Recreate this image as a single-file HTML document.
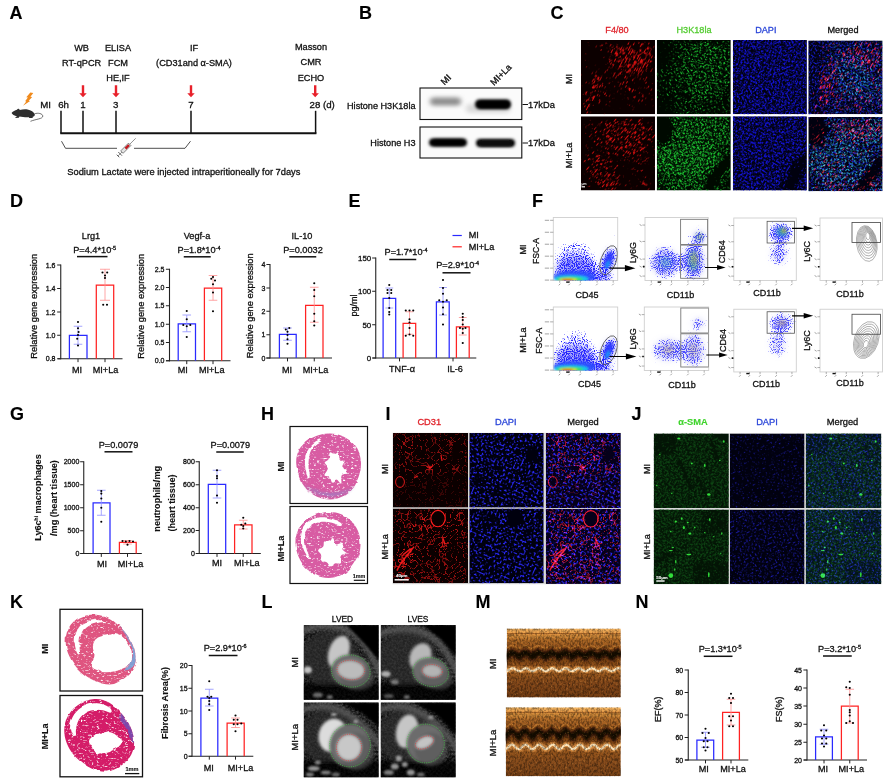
<!DOCTYPE html>
<html lang="en"><head><meta charset="utf-8"><title>Figure</title>
<style>html,body{margin:0;padding:0;background:#fff}svg{display:block}text{font-family:'Liberation Sans', sans-serif}</style></head>
<body>
<svg width="887" height="784" viewBox="0 0 887 784">
<rect width="887" height="784" fill="#fff"/>
<defs>
<filter id="g0_5" x="-50%" y="-50%" width="200%" height="200%"><feGaussianBlur stdDeviation="0.5"/></filter>
<filter id="g1" x="-50%" y="-50%" width="200%" height="200%"><feGaussianBlur stdDeviation="1"/></filter>
<filter id="g1_5" x="-50%" y="-50%" width="200%" height="200%"><feGaussianBlur stdDeviation="1.5"/></filter>
<filter id="g2" x="-50%" y="-50%" width="200%" height="200%"><feGaussianBlur stdDeviation="2"/></filter>
<filter id="g3" x="-50%" y="-50%" width="200%" height="200%"><feGaussianBlur stdDeviation="3"/></filter>
<filter id="g4" x="-50%" y="-50%" width="200%" height="200%"><feGaussianBlur stdDeviation="4"/></filter>
<filter id="g6" x="-50%" y="-50%" width="200%" height="200%"><feGaussianBlur stdDeviation="6"/></filter>
<filter id="g8" x="-50%" y="-50%" width="200%" height="200%"><feGaussianBlur stdDeviation="8"/></filter>
<filter id="blur2" x="-20%" y="-50%" width="140%" height="200%"><feGaussianBlur stdDeviation="1.6 1.4"/></filter>
<filter id="blur3" x="-20%" y="-50%" width="140%" height="200%"><feGaussianBlur stdDeviation="2.4 2"/></filter>
<clipPath id="cb1"><rect x="420" y="88" width="101.8" height="31.5"/></clipPath>
<clipPath id="cb2"><rect x="420" y="127" width="101.8" height="31"/></clipPath>
<filter id="sp0" x="0" y="0" width="100%" height="100%" color-interpolation-filters="sRGB"><feTurbulence type="fractalNoise" baseFrequency="0.2 0.9" numOctaves="2" seed="4" result="n"/><feColorMatrix in="n" type="matrix" values="0 0 0 0 0 0 0 0 0 0 0 0 0 0 0 1 0 0 0 0" result="na"/><feComposite in="na" in2="SourceGraphic" operator="arithmetic" k1="0" k2="6" k3="2.6" k4="-4.8" result="m"/><feFlood flood-color="#d81010" result="c"/><feComposite in="c" in2="m" operator="in"/><feGaussianBlur stdDeviation="0.5"/></filter>
<filter id="sp1" x="0" y="0" width="100%" height="100%" color-interpolation-filters="sRGB"><feTurbulence type="fractalNoise" baseFrequency="0.24 0.9" numOctaves="2" seed="8" result="n"/><feColorMatrix in="n" type="matrix" values="0 0 0 0 0 0 0 0 0 0 0 0 0 0 0 1 0 0 0 0" result="na"/><feComposite in="na" in2="SourceGraphic" operator="arithmetic" k1="0" k2="6" k3="2.6" k4="-4.8" result="m"/><feFlood flood-color="#d81010" result="c"/><feComposite in="c" in2="m" operator="in"/><feGaussianBlur stdDeviation="0.5"/></filter>
<filter id="sp2" x="0" y="0" width="100%" height="100%" color-interpolation-filters="sRGB"><feTurbulence type="fractalNoise" baseFrequency="0.6" numOctaves="1" seed="3" result="n"/><feColorMatrix in="n" type="matrix" values="0 0 0 0 0 0 0 0 0 0 0 0 0 0 0 1 0 0 0 0" result="na"/><feComposite in="na" in2="SourceGraphic" operator="arithmetic" k1="0" k2="6" k3="2.6" k4="-4.8" result="m"/><feFlood flood-color="#1cc832" result="c"/><feComposite in="c" in2="m" operator="in"/><feGaussianBlur stdDeviation="0.55"/></filter>
<filter id="sp3" x="0" y="0" width="100%" height="100%" color-interpolation-filters="sRGB"><feTurbulence type="fractalNoise" baseFrequency="0.6" numOctaves="1" seed="6" result="n"/><feColorMatrix in="n" type="matrix" values="0 0 0 0 0 0 0 0 0 0 0 0 0 0 0 1 0 0 0 0" result="na"/><feComposite in="na" in2="SourceGraphic" operator="arithmetic" k1="0" k2="6" k3="2.6" k4="-4.8" result="m"/><feFlood flood-color="#1cc832" result="c"/><feComposite in="c" in2="m" operator="in"/><feGaussianBlur stdDeviation="0.55"/></filter>
<filter id="sp4" x="0" y="0" width="100%" height="100%" color-interpolation-filters="sRGB"><feTurbulence type="fractalNoise" baseFrequency="0.6" numOctaves="1" seed="9" result="n"/><feColorMatrix in="n" type="matrix" values="0 0 0 0 0 0 0 0 0 0 0 0 0 0 0 1 0 0 0 0" result="na"/><feComposite in="na" in2="SourceGraphic" operator="arithmetic" k1="0" k2="6" k3="2.6" k4="-4.8" result="m"/><feFlood flood-color="#1414e2" result="c"/><feComposite in="c" in2="m" operator="in"/><feGaussianBlur stdDeviation="0.55"/></filter>
<filter id="sp5" x="0" y="0" width="100%" height="100%" color-interpolation-filters="sRGB"><feTurbulence type="fractalNoise" baseFrequency="0.6" numOctaves="1" seed="12" result="n"/><feColorMatrix in="n" type="matrix" values="0 0 0 0 0 0 0 0 0 0 0 0 0 0 0 1 0 0 0 0" result="na"/><feComposite in="na" in2="SourceGraphic" operator="arithmetic" k1="0" k2="6" k3="2.6" k4="-4.8" result="m"/><feFlood flood-color="#1414e2" result="c"/><feComposite in="c" in2="m" operator="in"/><feGaussianBlur stdDeviation="0.55"/></filter>
<filter id="sp6" x="0" y="0" width="100%" height="100%" color-interpolation-filters="sRGB"><feTurbulence type="fractalNoise" baseFrequency="0.6" numOctaves="1" seed="9" result="n"/><feColorMatrix in="n" type="matrix" values="0 0 0 0 0 0 0 0 0 0 0 0 0 0 0 1 0 0 0 0" result="na"/><feComposite in="na" in2="SourceGraphic" operator="arithmetic" k1="0" k2="6" k3="2.6" k4="-4.8" result="m"/><feFlood flood-color="#1820e0" result="c"/><feComposite in="c" in2="m" operator="in"/><feGaussianBlur stdDeviation="0.5"/></filter>
<filter id="sp7" x="0" y="0" width="100%" height="100%" color-interpolation-filters="sRGB"><feTurbulence type="fractalNoise" baseFrequency="0.6" numOctaves="1" seed="3" result="n"/><feColorMatrix in="n" type="matrix" values="0 0 0 0 0 0 0 0 0 0 0 0 0 0 0 1 0 0 0 0" result="na"/><feComposite in="na" in2="SourceGraphic" operator="arithmetic" k1="0" k2="6" k3="2.6" k4="-4.8" result="m"/><feFlood flood-color="#2aa8dc" result="c"/><feComposite in="c" in2="m" operator="in"/><feGaussianBlur stdDeviation="0.5"/></filter>
<filter id="sp8" x="0" y="0" width="100%" height="100%" color-interpolation-filters="sRGB"><feTurbulence type="fractalNoise" baseFrequency="0.2 0.9" numOctaves="2" seed="4" result="n"/><feColorMatrix in="n" type="matrix" values="0 0 0 0 0 0 0 0 0 0 0 0 0 0 0 1 0 0 0 0" result="na"/><feComposite in="na" in2="SourceGraphic" operator="arithmetic" k1="0" k2="6" k3="2.6" k4="-4.8" result="m"/><feFlood flood-color="#f01c24" result="c"/><feComposite in="c" in2="m" operator="in"/><feGaussianBlur stdDeviation="0.45"/></filter>
<filter id="sp9" x="0" y="0" width="100%" height="100%" color-interpolation-filters="sRGB"><feTurbulence type="fractalNoise" baseFrequency="0.6" numOctaves="1" seed="12" result="n"/><feColorMatrix in="n" type="matrix" values="0 0 0 0 0 0 0 0 0 0 0 0 0 0 0 1 0 0 0 0" result="na"/><feComposite in="na" in2="SourceGraphic" operator="arithmetic" k1="0" k2="6" k3="2.6" k4="-4.8" result="m"/><feFlood flood-color="#1820e0" result="c"/><feComposite in="c" in2="m" operator="in"/><feGaussianBlur stdDeviation="0.5"/></filter>
<filter id="sp10" x="0" y="0" width="100%" height="100%" color-interpolation-filters="sRGB"><feTurbulence type="fractalNoise" baseFrequency="0.6" numOctaves="1" seed="6" result="n"/><feColorMatrix in="n" type="matrix" values="0 0 0 0 0 0 0 0 0 0 0 0 0 0 0 1 0 0 0 0" result="na"/><feComposite in="na" in2="SourceGraphic" operator="arithmetic" k1="0" k2="6" k3="2.6" k4="-4.8" result="m"/><feFlood flood-color="#2cb8d4" result="c"/><feComposite in="c" in2="m" operator="in"/><feGaussianBlur stdDeviation="0.5"/></filter>
<filter id="sp11" x="0" y="0" width="100%" height="100%" color-interpolation-filters="sRGB"><feTurbulence type="fractalNoise" baseFrequency="0.24 0.9" numOctaves="2" seed="8" result="n"/><feColorMatrix in="n" type="matrix" values="0 0 0 0 0 0 0 0 0 0 0 0 0 0 0 1 0 0 0 0" result="na"/><feComposite in="na" in2="SourceGraphic" operator="arithmetic" k1="0" k2="6" k3="2.6" k4="-4.8" result="m"/><feFlood flood-color="#f01c24" result="c"/><feComposite in="c" in2="m" operator="in"/><feGaussianBlur stdDeviation="0.45"/></filter>
<filter id="sp12" x="0" y="0" width="100%" height="100%" color-interpolation-filters="sRGB"><feTurbulence type="fractalNoise" baseFrequency="0.9" numOctaves="1" seed="2" result="n"/><feColorMatrix in="n" type="matrix" values="0 0 0 0 0 0 0 0 0 0 0 0 0 0 0 1 0 0 0 0" result="na"/><feComposite in="na" in2="SourceGraphic" operator="arithmetic" k1="0" k2="6" k3="2.6" k4="-4.8" result="m"/><feFlood flood-color="#2424ff" result="c"/><feComposite in="c" in2="m" operator="in"/></filter>
<filter id="sp13" x="0" y="0" width="100%" height="100%" color-interpolation-filters="sRGB"><feTurbulence type="fractalNoise" baseFrequency="0.9" numOctaves="1" seed="5" result="n"/><feColorMatrix in="n" type="matrix" values="0 0 0 0 0 0 0 0 0 0 0 0 0 0 0 1 0 0 0 0" result="na"/><feComposite in="na" in2="SourceGraphic" operator="arithmetic" k1="0" k2="6" k3="2.6" k4="-4.8" result="m"/><feFlood flood-color="#3c3cff" result="c"/><feComposite in="c" in2="m" operator="in"/></filter>
<filter id="sp14" x="0" y="0" width="100%" height="100%" color-interpolation-filters="sRGB"><feTurbulence type="fractalNoise" baseFrequency="0.9" numOctaves="1" seed="7" result="n"/><feColorMatrix in="n" type="matrix" values="0 0 0 0 0 0 0 0 0 0 0 0 0 0 0 1 0 0 0 0" result="na"/><feComposite in="na" in2="SourceGraphic" operator="arithmetic" k1="0" k2="6" k3="2.6" k4="-4.8" result="m"/><feFlood flood-color="#3c3cff" result="c"/><feComposite in="c" in2="m" operator="in"/></filter>
<filter id="sp15" x="0" y="0" width="100%" height="100%" color-interpolation-filters="sRGB"><feTurbulence type="fractalNoise" baseFrequency="0.9" numOctaves="1" seed="3" result="n"/><feColorMatrix in="n" type="matrix" values="0 0 0 0 0 0 0 0 0 0 0 0 0 0 0 1 0 0 0 0" result="na"/><feComposite in="na" in2="SourceGraphic" operator="arithmetic" k1="0" k2="6" k3="2.6" k4="-4.8" result="m"/><feFlood flood-color="#2424ff" result="c"/><feComposite in="c" in2="m" operator="in"/></filter>
<filter id="sp16" x="0" y="0" width="100%" height="100%" color-interpolation-filters="sRGB"><feTurbulence type="fractalNoise" baseFrequency="0.9" numOctaves="1" seed="6" result="n"/><feColorMatrix in="n" type="matrix" values="0 0 0 0 0 0 0 0 0 0 0 0 0 0 0 1 0 0 0 0" result="na"/><feComposite in="na" in2="SourceGraphic" operator="arithmetic" k1="0" k2="6" k3="2.6" k4="-4.8" result="m"/><feFlood flood-color="#4a4aff" result="c"/><feComposite in="c" in2="m" operator="in"/></filter>
<filter id="sp17" x="0" y="0" width="100%" height="100%" color-interpolation-filters="sRGB"><feTurbulence type="fractalNoise" baseFrequency="0.9" numOctaves="1" seed="8" result="n"/><feColorMatrix in="n" type="matrix" values="0 0 0 0 0 0 0 0 0 0 0 0 0 0 0 1 0 0 0 0" result="na"/><feComposite in="na" in2="SourceGraphic" operator="arithmetic" k1="0" k2="6" k3="2.6" k4="-4.8" result="m"/><feFlood flood-color="#4a4aff" result="c"/><feComposite in="c" in2="m" operator="in"/></filter>
<filter id="rough" x="-5%" y="-5%" width="110%" height="110%"><feTurbulence type="fractalNoise" baseFrequency="0.09" numOctaves="2" seed="3" result="t"/><feDisplacementMap in="SourceGraphic" in2="t" scale="3.5" xChannelSelector="R" yChannelSelector="G"/></filter>
<filter id="tissue" x="0" y="0" width="100%" height="100%" color-interpolation-filters="sRGB"><feTurbulence type="fractalNoise" baseFrequency="0.35 0.6" numOctaves="2" seed="8" result="t"/><feColorMatrix in="t" type="matrix" values="0 0 0 0 1 0 0 0 0 1 0 0 0 0 1 4 0 0 0 -2.3" result="w"/><feComposite in="w" in2="SourceGraphic" operator="in" result="ww"/><feMerge><feMergeNode in="SourceGraphic"/><feMergeNode in="ww"/></feMerge></filter>
<filter id="sp18" x="0" y="0" width="100%" height="100%" color-interpolation-filters="sRGB"><feTurbulence type="turbulence" baseFrequency="0.15" numOctaves="1" seed="3" result="n"/><feColorMatrix in="n" type="matrix" values="0 0 0 0 0 0 0 0 0 0 0 0 0 0 0 1 0 0 0 0" result="na"/><feComposite in="na" in2="SourceGraphic" operator="arithmetic" k1="0" k2="-8" k3="1.4" k4="0" result="m"/><feFlood flood-color="#ff1c1c" result="c"/><feComposite in="c" in2="m" operator="in"/><feGaussianBlur stdDeviation="0.35"/></filter>
<filter id="sp19" x="0" y="0" width="100%" height="100%" color-interpolation-filters="sRGB"><feTurbulence type="fractalNoise" baseFrequency="0.5" numOctaves="1" seed="11" result="n"/><feColorMatrix in="n" type="matrix" values="0 0 0 0 0 0 0 0 0 0 0 0 0 0 0 1 0 0 0 0" result="na"/><feComposite in="na" in2="SourceGraphic" operator="arithmetic" k1="0" k2="9" k3="2.6" k4="-6.55" result="m"/><feFlood flood-color="#2a2aff" result="c"/><feComposite in="c" in2="m" operator="in"/><feGaussianBlur stdDeviation="0.4"/></filter>
<filter id="sp20" x="0" y="0" width="100%" height="100%" color-interpolation-filters="sRGB"><feTurbulence type="turbulence" baseFrequency="0.17" numOctaves="1" seed="7" result="n"/><feColorMatrix in="n" type="matrix" values="0 0 0 0 0 0 0 0 0 0 0 0 0 0 0 1 0 0 0 0" result="na"/><feComposite in="na" in2="SourceGraphic" operator="arithmetic" k1="0" k2="-8" k3="1.4" k4="0" result="m"/><feFlood flood-color="#ff1c1c" result="c"/><feComposite in="c" in2="m" operator="in"/><feGaussianBlur stdDeviation="0.35"/></filter>
<filter id="sp21" x="0" y="0" width="100%" height="100%" color-interpolation-filters="sRGB"><feTurbulence type="fractalNoise" baseFrequency="0.5" numOctaves="1" seed="12" result="n"/><feColorMatrix in="n" type="matrix" values="0 0 0 0 0 0 0 0 0 0 0 0 0 0 0 1 0 0 0 0" result="na"/><feComposite in="na" in2="SourceGraphic" operator="arithmetic" k1="0" k2="9" k3="2.6" k4="-6.55" result="m"/><feFlood flood-color="#2a2aff" result="c"/><feComposite in="c" in2="m" operator="in"/><feGaussianBlur stdDeviation="0.4"/></filter>
<filter id="sp22" x="0" y="0" width="100%" height="100%" color-interpolation-filters="sRGB"><feTurbulence type="fractalNoise" baseFrequency="0.6" numOctaves="1" seed="4" result="n"/><feColorMatrix in="n" type="matrix" values="0 0 0 0 0 0 0 0 0 0 0 0 0 0 0 1 0 0 0 0" result="na"/><feComposite in="na" in2="SourceGraphic" operator="arithmetic" k1="0" k2="6" k3="2.6" k4="-4.8" result="m"/><feFlood flood-color="#0d4513" result="c"/><feComposite in="c" in2="m" operator="in"/><feGaussianBlur stdDeviation="0.45"/></filter>
<filter id="sp23" x="0" y="0" width="100%" height="100%" color-interpolation-filters="sRGB"><feTurbulence type="fractalNoise" baseFrequency="0.6" numOctaves="1" seed="15" result="n"/><feColorMatrix in="n" type="matrix" values="0 0 0 0 0 0 0 0 0 0 0 0 0 0 0 1 0 0 0 0" result="na"/><feComposite in="na" in2="SourceGraphic" operator="arithmetic" k1="0" k2="6" k3="2.6" k4="-4.8" result="m"/><feFlood flood-color="#1c1cab" result="c"/><feComposite in="c" in2="m" operator="in"/><feGaussianBlur stdDeviation="0.4"/></filter>
<filter id="sp24" x="0" y="0" width="100%" height="100%" color-interpolation-filters="sRGB"><feTurbulence type="fractalNoise" baseFrequency="0.6" numOctaves="1" seed="5" result="n"/><feColorMatrix in="n" type="matrix" values="0 0 0 0 0 0 0 0 0 0 0 0 0 0 0 1 0 0 0 0" result="na"/><feComposite in="na" in2="SourceGraphic" operator="arithmetic" k1="0" k2="6" k3="2.6" k4="-4.8" result="m"/><feFlood flood-color="#0d4513" result="c"/><feComposite in="c" in2="m" operator="in"/><feGaussianBlur stdDeviation="0.45"/></filter>
<filter id="sp25" x="0" y="0" width="100%" height="100%" color-interpolation-filters="sRGB"><feTurbulence type="fractalNoise" baseFrequency="0.6" numOctaves="1" seed="16" result="n"/><feColorMatrix in="n" type="matrix" values="0 0 0 0 0 0 0 0 0 0 0 0 0 0 0 1 0 0 0 0" result="na"/><feComposite in="na" in2="SourceGraphic" operator="arithmetic" k1="0" k2="6" k3="2.6" k4="-4.8" result="m"/><feFlood flood-color="#1c1cab" result="c"/><feComposite in="c" in2="m" operator="in"/><feGaussianBlur stdDeviation="0.4"/></filter>
<filter id="mriN" x="0" y="0" width="100%" height="100%" color-interpolation-filters="sRGB"><feTurbulence type="fractalNoise" baseFrequency="0.45" numOctaves="2" seed="21" result="n"/><feColorMatrix in="n" type="matrix" values="0.8 0 0 0 -0.27 0.8 0 0 0 -0.27 0.8 0 0 0 -0.27 0 0 0 0 1"/></filter>
<filter id="echoN" x="0" y="0" width="100%" height="100%" color-interpolation-filters="sRGB"><feTurbulence type="fractalNoise" baseFrequency="0.55 0.35" numOctaves="2" seed="5" result="n"/><feColorMatrix in="n" type="matrix" values="0 0 0 0 0 0 0 0 0 0 0 0 0 0 0 3 0 0 0 -1.15"/></filter>
<filter id="echoL" x="0" y="0" width="100%" height="100%" color-interpolation-filters="sRGB"><feTurbulence type="fractalNoise" baseFrequency="0.5 0.4" numOctaves="2" seed="11" result="n"/><feColorMatrix in="n" type="matrix" values="0 0 0 0 1 0 0 0 0 0.7 0 0 0 0 0.35 3 0 0 0 -1.75"/></filter>
<linearGradient id="eg0" x1="0" y1="0" x2="0" y2="1"><stop offset="0" stop-color="#f2b462"/><stop offset="0.07" stop-color="#e89c48"/><stop offset="0.11" stop-color="#c98234"/><stop offset="0.17" stop-color="#b06a26"/><stop offset="0.26" stop-color="#9c5a20"/><stop offset="0.5" stop-color="#8c4e1a"/><stop offset="0.62" stop-color="#9c5a20"/><stop offset="0.68" stop-color="#94541c"/><stop offset="0.8" stop-color="#84481a"/><stop offset="1" stop-color="#723c12"/></linearGradient>
<linearGradient id="eg1" x1="0" y1="0" x2="0" y2="1"><stop offset="0" stop-color="#f4b866"/><stop offset="0.06" stop-color="#eaa04c"/><stop offset="0.1" stop-color="#cc8636"/><stop offset="0.17" stop-color="#b26c28"/><stop offset="0.27" stop-color="#9c5a20"/><stop offset="0.5" stop-color="#8c4e1a"/><stop offset="0.6" stop-color="#9c5a20"/><stop offset="0.66" stop-color="#94541c"/><stop offset="0.8" stop-color="#884c1c"/><stop offset="1" stop-color="#784216"/></linearGradient>
</defs>
<text x="9.5" y="19" font-size="18" text-anchor="start" font-weight="bold" fill="#000" stroke="#000" stroke-width="0.12">A</text>
<text x="359" y="19" font-size="18" text-anchor="start" font-weight="bold" fill="#000" stroke="#000" stroke-width="0.12">B</text>
<text x="550.5" y="19" font-size="18" text-anchor="start" font-weight="bold" fill="#000" stroke="#000" stroke-width="0.12">C</text>
<text x="10" y="207" font-size="18" text-anchor="start" font-weight="bold" fill="#000" stroke="#000" stroke-width="0.12">D</text>
<text x="348.5" y="207" font-size="18" text-anchor="start" font-weight="bold" fill="#000" stroke="#000" stroke-width="0.12">E</text>
<text x="532" y="206.5" font-size="18" text-anchor="start" font-weight="bold" fill="#000" stroke="#000" stroke-width="0.12">F</text>
<text x="10" y="420" font-size="18" text-anchor="start" font-weight="bold" fill="#000" stroke="#000" stroke-width="0.12">G</text>
<text x="261" y="420" font-size="18" text-anchor="start" font-weight="bold" fill="#000" stroke="#000" stroke-width="0.12">H</text>
<text x="385.5" y="419.5" font-size="18" text-anchor="start" font-weight="bold" fill="#000" stroke="#000" stroke-width="0.12">I</text>
<text x="631.5" y="419.5" font-size="18" text-anchor="start" font-weight="bold" fill="#000" stroke="#000" stroke-width="0.12">J</text>
<text x="10" y="607.5" font-size="18" text-anchor="start" font-weight="bold" fill="#000" stroke="#000" stroke-width="0.12">K</text>
<text x="261.5" y="607.5" font-size="18" text-anchor="start" font-weight="bold" fill="#000" stroke="#000" stroke-width="0.12">L</text>
<text x="475.5" y="607.5" font-size="18" text-anchor="start" font-weight="bold" fill="#000" stroke="#000" stroke-width="0.12">M</text>
<text x="635.5" y="607.5" font-size="18" text-anchor="start" font-weight="bold" fill="#000" stroke="#000" stroke-width="0.12">N</text>
<text x="81.6" y="51" font-size="9.2" text-anchor="middle" font-weight="normal" fill="#111" stroke="#111" stroke-width="0.3">WB</text>
<text x="81.6" y="66.3" font-size="9.2" text-anchor="middle" font-weight="normal" fill="#111" stroke="#111" stroke-width="0.3">RT-qPCR</text>
<text x="118" y="51" font-size="9.2" text-anchor="middle" font-weight="normal" fill="#111" stroke="#111" stroke-width="0.3">ELISA</text>
<text x="118" y="66.3" font-size="9.2" text-anchor="middle" font-weight="normal" fill="#111" stroke="#111" stroke-width="0.3">FCM</text>
<text x="118" y="81.3" font-size="9.2" text-anchor="middle" font-weight="normal" fill="#111" stroke="#111" stroke-width="0.3">HE,IF</text>
<text x="194" y="51" font-size="9.2" text-anchor="middle" font-weight="normal" fill="#111" stroke="#111" stroke-width="0.3">IF</text>
<text x="194" y="66.3" font-size="9.2" text-anchor="middle" font-weight="normal" fill="#111" stroke="#111" stroke-width="0.3">(CD31and α-SMA)</text>
<text x="311" y="50" font-size="9.2" text-anchor="middle" font-weight="normal" fill="#111" stroke="#111" stroke-width="0.3">Masson</text>
<text x="311" y="65.3" font-size="9.2" text-anchor="middle" font-weight="normal" fill="#111" stroke="#111" stroke-width="0.3">CMR</text>
<text x="311" y="80.8" font-size="9.2" text-anchor="middle" font-weight="normal" fill="#111" stroke="#111" stroke-width="0.3">ECHO</text>
<path d="M81.8 85.2 H84.2 V93.2 H86.7 L83 97.2 L79.3 93.2 H81.8 Z" fill="#e8212b"/>
<path d="M114.8 85.2 H117.2 V93.2 H119.7 L116 97.2 L112.3 93.2 H114.8 Z" fill="#e8212b"/>
<path d="M189.8 85.2 H192.2 V93.2 H194.7 L191 97.2 L187.3 93.2 H189.8 Z" fill="#e8212b"/>
<path d="M314.0 85.2 H316.4 V93.2 H318.9 L315.2 97.2 L311.5 93.2 H314.0 Z" fill="#e8212b"/>
<text x="40.2" y="107.7" font-size="9.7" text-anchor="start" font-weight="normal" fill="#111" stroke="#111" stroke-width="0.3">MI</text>
<text x="58.2" y="107.7" font-size="9.7" text-anchor="start" font-weight="normal" fill="#111" stroke="#111" stroke-width="0.3">6h</text>
<text x="83" y="107.7" font-size="9.7" text-anchor="middle" font-weight="normal" fill="#111" stroke="#111" stroke-width="0.3">1</text>
<text x="115.7" y="107.7" font-size="9.7" text-anchor="middle" font-weight="normal" fill="#111" stroke="#111" stroke-width="0.3">3</text>
<text x="191" y="107.7" font-size="9.7" text-anchor="middle" font-weight="normal" fill="#111" stroke="#111" stroke-width="0.3">7</text>
<text x="309.5" y="108" font-size="9.7" text-anchor="start" font-weight="normal" fill="#111" stroke="#111" stroke-width="0.3">28</text>
<text x="323" y="108" font-size="9.7" text-anchor="start" font-weight="normal" fill="#111" stroke="#111" stroke-width="0.3">(d)</text>
<line x1="60.3" y1="133.3" x2="316.4" y2="133.3" stroke="#111" stroke-width="2.0"/>
<line x1="61" y1="110.8" x2="61" y2="133.5" stroke="#111" stroke-width="1.5"/>
<line x1="83" y1="110.8" x2="83" y2="133.5" stroke="#111" stroke-width="1.5"/>
<line x1="116" y1="110.8" x2="116" y2="133.5" stroke="#111" stroke-width="1.5"/>
<line x1="191" y1="110.8" x2="191" y2="133.5" stroke="#111" stroke-width="1.5"/>
<line x1="315.6" y1="110.8" x2="315.6" y2="133.5" stroke="#111" stroke-width="1.5"/>
<path d="M61.5 141.2 L65.5 148.3 H117" fill="none" stroke="#222" stroke-width="0.8"/>
<path d="M134 148.3 H185 L190.5 141.2" fill="none" stroke="#222" stroke-width="0.8"/>
<g transform="translate(126.5 147.5) rotate(-45)"><line x1="-12" y1="0" x2="13" y2="0" stroke="#555" stroke-width="0.6"/><rect x="-6.5" y="-1.7" width="11" height="3.4" fill="#e4e4e4" stroke="#444" stroke-width="0.6"/><rect x="-1.5" y="-1.2" width="5" height="2.4" fill="#c4181e"/><line x1="-9" y1="-2.6" x2="-9" y2="2.6" stroke="#555" stroke-width="0.9"/><line x1="-12" y1="-1.8" x2="-12" y2="1.8" stroke="#555" stroke-width="0.9"/></g>
<text x="67.3" y="174.5" font-size="9.3" text-anchor="start" font-weight="normal" fill="#111" stroke="#111" stroke-width="0.3">Sodium Lactate were injected intraperitioneally for 7days</text>
<path d="M11.7 112.8 C13 111.5 15 110.3 17 109.8 C17.3 108.8 18.3 108.4 19 108.9 C19.5 109.2 19.6 109.6 19.8 110 C22 109.3 25 109 27.5 109.4 C31 110 34 112 34.8 114.2 C35 115.5 34 116.5 32.8 116.8 L32.6 118 L29 118.1 L29.2 117.2 C26 117.5 22 117 19.5 116.4 L18.8 117.8 L15.4 117.9 L15.6 116.9 L17.2 116.5 C15.5 116 13.5 115 12.6 114.2 C12 113.800 11.600 113.300 11.700 112.800 Z" fill="#2e2e2e"/><path d="M34.5 113.8 C38 112.6 42.5 113.5 42.8 116 C43 119 36 119 30.5 121.3" fill="none" stroke="#444" stroke-width="0.75"/>
<polygon points="30.3,92.5 33.3,92.9 30.4,96.7 32.2,97 28.7,100.8 30.1,101.1 23,105.7 26.3,101.6 25.1,101.3 27.9,97.6 26.3,97.3" fill="#f08a1c"/>
<text x="415.5" y="109.3" font-size="9.15" text-anchor="end" font-weight="normal" fill="#111" stroke="#111" stroke-width="0.3">Histone H3K18la</text>
<text x="415.5" y="146.3" font-size="9.15" text-anchor="end" font-weight="normal" fill="#111" stroke="#111" stroke-width="0.3">Histone H3</text>
<rect x="420" y="88" width="101.8" height="31.5" fill="#fbfbfb" stroke="none" stroke-width="1"/>
<g clip-path="url(#cb1)"><rect x="430" y="97.5" width="31" height="8" rx="4" fill="#8c8c8c" filter="url(#blur3)"/><rect x="466" y="104" width="44" height="9" rx="4" fill="#d9d9d9" filter="url(#blur3)"/><rect x="475" y="99.5" width="36" height="9.5" rx="4.5" fill="#000" filter="url(#blur2)"/><rect x="478" y="101" width="31" height="7" rx="3.5" fill="#000" filter="url(#blur2)"/></g>
<rect x="420" y="88" width="101.8" height="31.5" fill="none" stroke="#111" stroke-width="1.1"/>
<rect x="420" y="127" width="101.8" height="31" fill="#fbfbfb" stroke="none" stroke-width="1"/>
<g clip-path="url(#cb2)"><rect x="429" y="138.5" width="38" height="8" rx="4" fill="#000" filter="url(#blur2)"/><rect x="432" y="139.5" width="32" height="6" rx="3" fill="#000" filter="url(#blur2)"/><rect x="476" y="139" width="39" height="8" rx="4" fill="#000" filter="url(#blur2)"/><rect x="479" y="140.5" width="33" height="5.5" rx="3" fill="#111" filter="url(#blur2)"/></g>
<rect x="420" y="127" width="101.8" height="31" fill="none" stroke="#111" stroke-width="1.1"/>
<line x1="522.5" y1="104.5" x2="528" y2="104.5" stroke="#111" stroke-width="1"/>
<text x="528" y="107.8" font-size="9.3" text-anchor="start" font-weight="normal" fill="#111" stroke="#111" stroke-width="0.3">17kDa</text>
<line x1="522.5" y1="143" x2="528" y2="143" stroke="#111" stroke-width="1"/>
<text x="528" y="146.3" font-size="9.3" text-anchor="start" font-weight="normal" fill="#111" stroke="#111" stroke-width="0.3">17kDa</text>
<text x="444.5" y="85.5" font-size="9.2" text-anchor="start" font-weight="normal" fill="#111" stroke="#111" stroke-width="0.3" transform="rotate(-45 444.5 85.5)">MI</text>
<text x="494" y="86" font-size="9.2" text-anchor="start" font-weight="normal" fill="#111" stroke="#111" stroke-width="0.3" transform="rotate(-45 494 86)">MI+La</text>
<text x="617" y="32.6" font-size="9.15" text-anchor="middle" font-weight="normal" fill="#e0242c" stroke="#e0242c" stroke-width="0.3">F4/80</text>
<text x="694" y="32.6" font-size="9.15" text-anchor="middle" font-weight="normal" fill="#55cc33" stroke="#55cc33" stroke-width="0.3">H3K18la</text>
<text x="765.8" y="32.6" font-size="9.15" text-anchor="middle" font-weight="normal" fill="#2c47d9" stroke="#2c47d9" stroke-width="0.3">DAPI</text>
<text x="843" y="32.6" font-size="9.15" text-anchor="middle" font-weight="normal" fill="#111" stroke="#111" stroke-width="0.3">Merged</text>
<text x="569" y="79" font-size="9.15" text-anchor="middle" font-weight="normal" fill="#111" stroke="#111" stroke-width="0.3" transform="rotate(-90 569 79)" dy="3.29">MI</text>
<text x="569" y="155.5" font-size="9.15" text-anchor="middle" font-weight="normal" fill="#111" stroke="#111" stroke-width="0.3" transform="rotate(-90 569 155.5)" dy="3.29">MI+La</text>
<svg x="581" y="40" width="74" height="74.2" viewBox="0 0 74 74.2" overflow="hidden">
<rect x="0" y="0" width="74" height="74.2" fill="#0c0000"/>
<g filter="url(#sp0)" transform="rotate(-62 37.0 37.1)"><rect x="-40" y="-40" width="154" height="154.2" fill="none"/>
<g transform="rotate(62 37.0 37.1)">
<g filter="url(#g3)">
<rect x="0" y="0" width="74" height="74.2" fill="#fff" opacity="0.2"/>
<ellipse cx="50" cy="19" rx="24" ry="17" fill="#fff" opacity="0.6"/>
<ellipse cx="55" cy="23" rx="11" ry="8" fill="#fff" opacity="0.4"/>
<ellipse cx="30" cy="7" rx="16" ry="6" fill="#fff" opacity="0.4"/>
<ellipse cx="66" cy="8" rx="8" ry="8" fill="#fff" opacity="0.3"/>
<ellipse cx="13" cy="50" rx="7" ry="27" fill="#fff" opacity="0.62" transform="rotate(20 13 50)"/>
<ellipse cx="27" cy="58" rx="4" ry="17" fill="#fff" opacity="0.45" transform="rotate(10 27 58)"/>
<ellipse cx="56" cy="50" rx="16" ry="14" fill="#fff" opacity="0.28"/>
<ellipse cx="40" cy="40" rx="10" ry="10" fill="#fff" opacity="0.25"/>
</g></g></g>
</svg>
<svg x="581" y="116.3" width="74" height="74.2" viewBox="0 0 74 74.2" overflow="hidden">
<rect x="0" y="0" width="74" height="74.2" fill="#0c0000"/>
<g filter="url(#sp1)" transform="rotate(-50 37.0 37.1)"><rect x="-40" y="-40" width="154" height="154.2" fill="none"/>
<g transform="rotate(50 37.0 37.1)">
<g filter="url(#g3)">
<rect x="0" y="0" width="74" height="74.2" fill="#fff" opacity="0.25"/>
<ellipse cx="44" cy="20" rx="30" ry="19" fill="#fff" opacity="0.52"/>
<ellipse cx="20" cy="54" rx="15" ry="22" fill="#fff" opacity="0.4" transform="rotate(-35 20 54)"/>
<ellipse cx="32" cy="68" rx="10" ry="7" fill="#fff" opacity="0.45"/>
<ellipse cx="64" cy="68" rx="5" ry="7" fill="#fff" opacity="0.45"/>
<ellipse cx="8" cy="10" rx="8" ry="8" fill="#fff" opacity="0.2"/>
<ellipse cx="56" cy="44" rx="14" ry="10" fill="#fff" opacity="0.28"/>
</g></g></g>
</svg>
<svg x="656.8" y="40" width="74" height="74.2" viewBox="0 0 74 74.2" overflow="hidden">
<rect x="0" y="0" width="74" height="74.2" fill="#000700"/>
<g filter="url(#sp2)" transform="rotate(-33 37.0 37.1)"><rect x="-40" y="-40" width="154" height="154.2" fill="none"/>
<mask id="mk1" maskUnits="userSpaceOnUse" x="-40" y="-40" width="154" height="154.2"><rect x="-40" y="-40" width="154" height="154.2" fill="#fff"/><g filter="url(#g4)"><ellipse cx="4" cy="12" rx="10" ry="14" fill="#000" opacity="0.7"/><ellipse cx="6" cy="68" rx="12" ry="9" fill="#000" opacity="0.6"/></g></mask>
<g transform="rotate(33 37.0 37.1)" mask="url(#mk1)">
<g filter="url(#g4)">
<rect x="-4" y="-4" width="82" height="82.2" fill="#fff" opacity="0.5"/>
<ellipse cx="48" cy="30" rx="28" ry="30" fill="#fff" opacity="0.3"/>
<ellipse cx="62" cy="12" rx="14" ry="12" fill="#fff" opacity="0.12"/>
<ellipse cx="30" cy="64" rx="20" ry="10" fill="#fff" opacity="0.1"/>
</g></g></g>
</svg>
<svg x="656.8" y="116.3" width="74" height="74.2" viewBox="0 0 74 74.2" overflow="hidden">
<rect x="0" y="0" width="74" height="74.2" fill="#000900"/>
<g filter="url(#sp3)" transform="rotate(37 37.0 37.1)"><rect x="-40" y="-40" width="154" height="154.2" fill="none"/>
<mask id="mk2" maskUnits="userSpaceOnUse" x="-40" y="-40" width="154" height="154.2"><rect x="-40" y="-40" width="154" height="154.2" fill="#fff"/><g filter="url(#g2)"><polygon points="48,70 58,54 74,38 74,47 62,60 54,74" fill="#000" opacity="1"/><ellipse cx="5" cy="12" rx="9" ry="14" fill="#000" opacity="0.9"/><ellipse cx="70" cy="70" rx="6" ry="6" fill="#000" opacity="0.4"/></g></mask>
<g transform="rotate(-37 37.0 37.1)" mask="url(#mk2)">
<g filter="url(#g3)">
<rect x="-4" y="-4" width="82" height="82.2" fill="#fff" opacity="0.66"/>
<ellipse cx="30" cy="44" rx="34" ry="17" fill="#fff" opacity="0.4"/>
<ellipse cx="45" cy="16" rx="30" ry="14" fill="#fff" opacity="0.22"/>
<ellipse cx="40" cy="68" rx="30" ry="8" fill="#fff" opacity="0.15"/>
</g></g></g>
</svg>
<svg x="732.9" y="40" width="74" height="74.2" viewBox="0 0 74 74.2" overflow="hidden">
<rect x="0" y="0" width="74" height="74.2" fill="#01010f"/>
<g filter="url(#sp4)" transform="rotate(-24 37.0 37.1)"><rect x="-40" y="-40" width="154" height="154.2" fill="none"/>
<g transform="rotate(24 37.0 37.1)">
<g>
<rect x="-4" y="-4" width="82" height="82.2" fill="#fff" opacity="0.76"/>
</g></g></g>
</svg>
<svg x="732.9" y="116.3" width="74" height="74.2" viewBox="0 0 74 74.2" overflow="hidden">
<rect x="0" y="0" width="74" height="74.2" fill="#01010f"/>
<g filter="url(#sp5)" transform="rotate(31 37.0 37.1)"><rect x="-40" y="-40" width="154" height="154.2" fill="none"/>
<mask id="mk3" maskUnits="userSpaceOnUse" x="-40" y="-40" width="154" height="154.2"><rect x="-40" y="-40" width="154" height="154.2" fill="#fff"/><g filter="url(#g3)"><polygon points="50,74 60,52 74,36 74,48 66,60 60,74" fill="#000" opacity="0.9"/></g></mask>
<g transform="rotate(-31 37.0 37.1)" mask="url(#mk3)">
<g>
<rect x="-4" y="-4" width="82" height="82.2" fill="#fff" opacity="0.75"/>
</g></g></g>
</svg>
<svg x="808.3" y="40.4" width="74.3" height="73.8" viewBox="0 0 74.3 73.8" overflow="hidden">
<rect x="0" y="0" width="74.3" height="73.8" fill="#01010f"/>
<g filter="url(#sp6)" transform="rotate(31 37.0 37.1)"><rect x="-40" y="-40" width="154" height="154.2" fill="none"/>
<g transform="rotate(-31 37.0 37.1)">
<g>
<rect x="-4" y="-4" width="82" height="82.2" fill="#fff" opacity="0.68"/>
</g></g></g>
<g filter="url(#sp7)" transform="rotate(-29 37.0 37.1)"><rect x="-40" y="-40" width="154" height="154.2" fill="none"/>
<g transform="rotate(29 37.0 37.1)">
<g filter="url(#g4)">
<rect x="14" y="-4" width="74" height="82.2" fill="#fff" opacity="0.42"/>
<ellipse cx="42" cy="36" rx="17" ry="21" fill="#fff" opacity="0.34"/>
<ellipse cx="62" cy="48" rx="14" ry="17" fill="#fff" opacity="0.3"/>
<ellipse cx="30" cy="20" rx="9" ry="9" fill="#fff" opacity="0.15"/>
<ellipse cx="62" cy="20" rx="10" ry="8" fill="#fff" opacity="0.15"/>
</g></g></g>
<g filter="url(#sp8)" style="mix-blend-mode:screen" transform="rotate(-62 37.0 37.1)"><rect x="-40" y="-40" width="154" height="154.2" fill="none"/>
<g transform="rotate(62 37.0 37.1)">
<g filter="url(#g3)">
<rect x="8" y="-4" width="74" height="82.2" fill="#fff" opacity="0.36"/>
<ellipse cx="52" cy="15" rx="22" ry="12" fill="#fff" opacity="0.42"/>
<ellipse cx="60" cy="23" rx="11" ry="7" fill="#fff" opacity="0.3"/>
<ellipse cx="17" cy="46" rx="7" ry="29" fill="#fff" opacity="0.55" transform="rotate(18 17 46)"/>
<ellipse cx="29" cy="58" rx="4" ry="16" fill="#fff" opacity="0.4" transform="rotate(8 29 58)"/>
<ellipse cx="50" cy="60" rx="14" ry="10" fill="#fff" opacity="0.15"/>
</g></g></g>
</svg>
<svg x="808.3" y="117.0" width="74.3" height="74.2" viewBox="0 0 74.3 74.2" overflow="hidden">
<rect x="0" y="0" width="74.3" height="74.2" fill="#01010f"/>
<g filter="url(#sp9)" transform="rotate(26 37.0 37.1)"><rect x="-40" y="-40" width="154" height="154.2" fill="none"/>
<mask id="mk4" maskUnits="userSpaceOnUse" x="-40" y="-40" width="154" height="154.2"><rect x="-40" y="-40" width="154" height="154.2" fill="#fff"/><g filter="url(#g2)"><polygon points="50,70 60,54 74,38 74,49 64,62 56,74" fill="#000" opacity="1"/><ellipse cx="7" cy="13" rx="10" ry="14" fill="#000" opacity="0.95"/></g></mask>
<g transform="rotate(-26 37.0 37.1)" mask="url(#mk4)">
<g>
<rect x="-4" y="-4" width="82" height="82.2" fill="#fff" opacity="0.64"/>
</g></g></g>
<g filter="url(#sp10)" transform="rotate(-36 37.0 37.1)"><rect x="-40" y="-40" width="154" height="154.2" fill="none"/>
<mask id="mk5" maskUnits="userSpaceOnUse" x="-40" y="-40" width="154" height="154.2"><rect x="-40" y="-40" width="154" height="154.2" fill="#fff"/><g filter="url(#g2)"><polygon points="50,70 60,54 74,38 74,49 64,62 56,74" fill="#000" opacity="1"/><ellipse cx="7" cy="13" rx="10" ry="14" fill="#000" opacity="0.95"/></g></mask>
<g transform="rotate(36 37.0 37.1)" mask="url(#mk5)">
<g filter="url(#g3)">
<rect x="-4" y="-4" width="82" height="82.2" fill="#fff" opacity="0.52"/>
<ellipse cx="32" cy="46" rx="35" ry="18" fill="#fff" opacity="0.3"/>
<ellipse cx="46" cy="20" rx="25" ry="13" fill="#fff" opacity="0.2"/>
<ellipse cx="40" cy="68" rx="27" ry="9" fill="#fff" opacity="0.1"/>
<ellipse cx="70" cy="16" rx="8" ry="14" fill="#fff" opacity="0.2"/>
</g></g></g>
<g filter="url(#sp11)" style="mix-blend-mode:screen" transform="rotate(-50 37.0 37.1)"><rect x="-40" y="-40" width="154" height="154.2" fill="none"/>
<g transform="rotate(50 37.0 37.1)">
<g filter="url(#g3)">
<rect x="-4" y="-4" width="82" height="82.2" fill="#fff" opacity="0.34"/>
<ellipse cx="50" cy="13" rx="25" ry="11" fill="#fff" opacity="0.45"/>
<ellipse cx="20" cy="56" rx="15" ry="10" fill="#fff" opacity="0.2" transform="rotate(-35 20 56)"/>
<ellipse cx="34" cy="68" rx="16" ry="6" fill="#fff" opacity="0.3"/>
<ellipse cx="66" cy="66" rx="8" ry="8" fill="#fff" opacity="0.3"/>
<ellipse cx="8" cy="24" rx="8" ry="4" fill="#fff" opacity="0.3"/>
</g></g></g>
</svg>
<line x1="581.5" y1="186.8" x2="585" y2="186.8" stroke="#fff" stroke-width="1.2"/>
<text x="581.5" y="184.5" font-size="3.6" text-anchor="start" font-weight="normal" fill="#ddd" stroke="#ddd" stroke-width="0.12">μm</text>
<text x="91" y="239" font-size="9.2" text-anchor="middle" font-weight="normal" fill="#111" stroke="#111" stroke-width="0.3">Lrg1</text>
<text x="34" y="306.2" font-size="9.35" text-anchor="middle" font-weight="normal" fill="#111" stroke="#111" stroke-width="0.3" transform="rotate(-90 34 306.2)" dy="3.37">Relative gene expression</text>
<line x1="60.75" y1="264.5" x2="60.75" y2="359.35" stroke="#222" stroke-width="1.1"/>
<line x1="57.8" y1="358.75" x2="122.5" y2="358.75" stroke="#222" stroke-width="1.2"/>
<line x1="57.15" y1="265" x2="60.75" y2="265" stroke="#222" stroke-width="1.0"/>
<text x="55.5" y="267.52" font-size="7.0" text-anchor="end" font-weight="normal" fill="#111" stroke="#111" stroke-width="0.3">1.6</text>
<line x1="57.15" y1="288.5" x2="60.75" y2="288.5" stroke="#222" stroke-width="1.0"/>
<text x="55.5" y="291.02" font-size="7.0" text-anchor="end" font-weight="normal" fill="#111" stroke="#111" stroke-width="0.3">1.4</text>
<line x1="57.15" y1="312" x2="60.75" y2="312" stroke="#222" stroke-width="1.0"/>
<text x="55.5" y="314.52" font-size="7.0" text-anchor="end" font-weight="normal" fill="#111" stroke="#111" stroke-width="0.3">1.2</text>
<line x1="57.15" y1="335.25" x2="60.75" y2="335.25" stroke="#222" stroke-width="1.0"/>
<text x="55.5" y="337.77" font-size="7.0" text-anchor="end" font-weight="normal" fill="#111" stroke="#111" stroke-width="0.3">1.0</text>
<line x1="57.15" y1="358.75" x2="60.75" y2="358.75" stroke="#222" stroke-width="1.0"/>
<text x="55.5" y="361.27" font-size="7.0" text-anchor="end" font-weight="normal" fill="#111" stroke="#111" stroke-width="0.3">0.8</text>
<path d="M69.4 358.75 V335.25 H87 V358.75" fill="none" stroke="#2a2aff" stroke-width="1.25"/>
<line x1="78" y1="326.25" x2="78" y2="344.25" stroke="#8f8fff" stroke-width="0.8"/>
<line x1="73.7" y1="326.25" x2="82.3" y2="326.25" stroke="#8f8fff" stroke-width="0.8"/>
<line x1="73.7" y1="344.25" x2="82.3" y2="344.25" stroke="#8f8fff" stroke-width="0.8"/>
<line x1="78" y1="358.75" x2="78" y2="362.15" stroke="#222" stroke-width="1.0"/>
<circle cx="78.00" cy="322.00" r="1.05" fill="#000"/>
<circle cx="78.00" cy="328.30" r="1.05" fill="#000"/>
<circle cx="78.00" cy="335.00" r="1.05" fill="#000"/>
<circle cx="77.20" cy="338.80" r="1.05" fill="#000"/>
<circle cx="78.00" cy="345.50" r="1.05" fill="#000"/>
<circle cx="78.60" cy="332.00" r="1.05" fill="#000"/>
<path d="M96.3 358.75 V285 H113.7 V358.75" fill="none" stroke="#ff2222" stroke-width="1.25"/>
<line x1="105" y1="269.25" x2="105" y2="300.25" stroke="#ff8f8f" stroke-width="0.8"/>
<line x1="100" y1="269.25" x2="110" y2="269.25" stroke="#ff8f8f" stroke-width="0.8"/>
<line x1="100" y1="300.25" x2="110" y2="300.25" stroke="#ff8f8f" stroke-width="0.8"/>
<line x1="105" y1="358.75" x2="105" y2="362.15" stroke="#222" stroke-width="1.0"/>
<circle cx="102.50" cy="272.50" r="1.05" fill="#000"/>
<circle cx="107.20" cy="272.50" r="1.05" fill="#000"/>
<circle cx="105.00" cy="278.00" r="1.05" fill="#000"/>
<circle cx="103.20" cy="304.80" r="1.05" fill="#000"/>
<circle cx="107.00" cy="304.80" r="1.05" fill="#000"/>
<circle cx="105.00" cy="275.50" r="1.05" fill="#000"/>
<text x="77" y="373" font-size="9.1" text-anchor="middle" font-weight="normal" fill="#111" stroke="#111" stroke-width="0.3">MI</text>
<text x="105.5" y="373" font-size="9.1" text-anchor="middle" font-weight="normal" fill="#111" stroke="#111" stroke-width="0.3">MI+La</text>
<text x="73.2" y="253" font-size="9.2" text-anchor="start" font-weight="normal" fill="#111" stroke="#111" stroke-width="0.3">P=4.4*10<tspan dy="-3" font-size="5.5">-5</tspan></text>
<line x1="77" y1="256.6" x2="107.5" y2="256.6" stroke="#111" stroke-width="1.5"/>
<text x="197" y="239" font-size="9.2" text-anchor="middle" font-weight="normal" fill="#111" stroke="#111" stroke-width="0.3">Vegf-a</text>
<text x="140.2" y="306.2" font-size="9.35" text-anchor="middle" font-weight="normal" fill="#111" stroke="#111" stroke-width="0.3" transform="rotate(-90 140.2 306.2)" dy="3.37">Relative gene expression</text>
<line x1="169.5" y1="268.75" x2="169.5" y2="361.35" stroke="#222" stroke-width="1.1"/>
<line x1="166" y1="360.75" x2="230.5" y2="360.75" stroke="#222" stroke-width="1.2"/>
<line x1="165.9" y1="269.25" x2="169.5" y2="269.25" stroke="#222" stroke-width="1.0"/>
<text x="164.5" y="271.77" font-size="7.0" text-anchor="end" font-weight="normal" fill="#111" stroke="#111" stroke-width="0.3">2.5</text>
<line x1="165.9" y1="287.5" x2="169.5" y2="287.5" stroke="#222" stroke-width="1.0"/>
<text x="164.5" y="290.02" font-size="7.0" text-anchor="end" font-weight="normal" fill="#111" stroke="#111" stroke-width="0.3">2.0</text>
<line x1="165.9" y1="305.75" x2="169.5" y2="305.75" stroke="#222" stroke-width="1.0"/>
<text x="164.5" y="308.27" font-size="7.0" text-anchor="end" font-weight="normal" fill="#111" stroke="#111" stroke-width="0.3">1.5</text>
<line x1="165.9" y1="324.25" x2="169.5" y2="324.25" stroke="#222" stroke-width="1.0"/>
<text x="164.5" y="326.77" font-size="7.0" text-anchor="end" font-weight="normal" fill="#111" stroke="#111" stroke-width="0.3">1.0</text>
<line x1="165.9" y1="342.5" x2="169.5" y2="342.5" stroke="#222" stroke-width="1.0"/>
<text x="164.5" y="345.02" font-size="7.0" text-anchor="end" font-weight="normal" fill="#111" stroke="#111" stroke-width="0.3">0.5</text>
<line x1="165.9" y1="360.75" x2="169.5" y2="360.75" stroke="#222" stroke-width="1.0"/>
<text x="164.5" y="363.27" font-size="7.0" text-anchor="end" font-weight="normal" fill="#111" stroke="#111" stroke-width="0.3">0.0</text>
<path d="M178.2 360.75 V323.75 H195.5 V360.75" fill="none" stroke="#2a2aff" stroke-width="1.25"/>
<line x1="186.75" y1="315" x2="186.75" y2="331.75" stroke="#8f8fff" stroke-width="0.8"/>
<line x1="182.45" y1="315" x2="191.05" y2="315" stroke="#8f8fff" stroke-width="0.8"/>
<line x1="182.45" y1="331.75" x2="191.05" y2="331.75" stroke="#8f8fff" stroke-width="0.8"/>
<line x1="186.75" y1="360.75" x2="186.75" y2="364.15" stroke="#222" stroke-width="1.0"/>
<circle cx="186.75" cy="311.00" r="1.05" fill="#000"/>
<circle cx="186.75" cy="319.30" r="1.05" fill="#000"/>
<circle cx="183.30" cy="325.00" r="1.05" fill="#000"/>
<circle cx="186.75" cy="326.30" r="1.05" fill="#000"/>
<circle cx="190.30" cy="325.00" r="1.05" fill="#000"/>
<circle cx="186.75" cy="337.00" r="1.05" fill="#000"/>
<path d="M204.4 360.75 V288 H221.7 V360.75" fill="none" stroke="#ff2222" stroke-width="1.25"/>
<line x1="213" y1="275.5" x2="213" y2="300.25" stroke="#ff8f8f" stroke-width="0.8"/>
<line x1="208.7" y1="275.5" x2="217.3" y2="275.5" stroke="#ff8f8f" stroke-width="0.8"/>
<line x1="208.7" y1="300.25" x2="217.3" y2="300.25" stroke="#ff8f8f" stroke-width="0.8"/>
<line x1="213" y1="360.75" x2="213" y2="364.15" stroke="#222" stroke-width="1.0"/>
<circle cx="211.30" cy="278.80" r="1.05" fill="#000"/>
<circle cx="215.00" cy="280.50" r="1.05" fill="#000"/>
<circle cx="213.00" cy="284.30" r="1.05" fill="#000"/>
<circle cx="213.00" cy="292.50" r="1.05" fill="#000"/>
<circle cx="213.00" cy="311.30" r="1.05" fill="#000"/>
<circle cx="213.00" cy="277.00" r="1.05" fill="#000"/>
<text x="182.8" y="373" font-size="9.1" text-anchor="middle" font-weight="normal" fill="#111" stroke="#111" stroke-width="0.3">MI</text>
<text x="211.7" y="373" font-size="9.1" text-anchor="middle" font-weight="normal" fill="#111" stroke="#111" stroke-width="0.3">MI+La</text>
<text x="177.5" y="253" font-size="9.2" text-anchor="start" font-weight="normal" fill="#111" stroke="#111" stroke-width="0.3">P=1.8*10<tspan dy="-3" font-size="5.5">-4</tspan></text>
<line x1="183.75" y1="256.8" x2="210.75" y2="256.8" stroke="#111" stroke-width="1.5"/>
<text x="302" y="239" font-size="9.2" text-anchor="middle" font-weight="normal" fill="#111" stroke="#111" stroke-width="0.3">IL-10</text>
<text x="249.2" y="305.7" font-size="9.35" text-anchor="middle" font-weight="normal" fill="#111" stroke="#111" stroke-width="0.3" transform="rotate(-90 249.2 305.7)" dy="3.37">Relative gene expression</text>
<line x1="270" y1="264.0" x2="270" y2="358.6" stroke="#222" stroke-width="1.1"/>
<line x1="266.3" y1="358" x2="332" y2="358" stroke="#222" stroke-width="1.2"/>
<line x1="266.4" y1="264.5" x2="270" y2="264.5" stroke="#222" stroke-width="1.0"/>
<text x="265.3" y="267.02" font-size="7.0" text-anchor="end" font-weight="normal" fill="#111" stroke="#111" stroke-width="0.3">4</text>
<line x1="266.4" y1="288" x2="270" y2="288" stroke="#222" stroke-width="1.0"/>
<text x="265.3" y="290.52" font-size="7.0" text-anchor="end" font-weight="normal" fill="#111" stroke="#111" stroke-width="0.3">3</text>
<line x1="266.4" y1="311.25" x2="270" y2="311.25" stroke="#222" stroke-width="1.0"/>
<text x="265.3" y="313.77" font-size="7.0" text-anchor="end" font-weight="normal" fill="#111" stroke="#111" stroke-width="0.3">2</text>
<line x1="266.4" y1="334.75" x2="270" y2="334.75" stroke="#222" stroke-width="1.0"/>
<text x="265.3" y="337.27" font-size="7.0" text-anchor="end" font-weight="normal" fill="#111" stroke="#111" stroke-width="0.3">1</text>
<line x1="266.4" y1="358" x2="270" y2="358" stroke="#222" stroke-width="1.0"/>
<text x="265.3" y="360.52" font-size="7.0" text-anchor="end" font-weight="normal" fill="#111" stroke="#111" stroke-width="0.3">0</text>
<path d="M279.4 358 V334.25 H296.2 V358" fill="none" stroke="#2a2aff" stroke-width="1.25"/>
<line x1="287.5" y1="328" x2="287.5" y2="340.25" stroke="#8f8fff" stroke-width="0.8"/>
<line x1="283.2" y1="328" x2="291.8" y2="328" stroke="#8f8fff" stroke-width="0.8"/>
<line x1="283.2" y1="340.25" x2="291.8" y2="340.25" stroke="#8f8fff" stroke-width="0.8"/>
<line x1="287.5" y1="358" x2="287.5" y2="361.4" stroke="#222" stroke-width="1.0"/>
<circle cx="289.30" cy="328.00" r="1.05" fill="#000"/>
<circle cx="287.50" cy="331.80" r="1.05" fill="#000"/>
<circle cx="287.50" cy="335.00" r="1.05" fill="#000"/>
<circle cx="287.50" cy="339.30" r="1.05" fill="#000"/>
<circle cx="287.50" cy="343.80" r="1.05" fill="#000"/>
<circle cx="285.80" cy="329.50" r="1.05" fill="#000"/>
<path d="M305.6 358 V305.25 H323 V358" fill="none" stroke="#ff2222" stroke-width="1.25"/>
<line x1="314.25" y1="287.25" x2="314.25" y2="322.25" stroke="#ff8f8f" stroke-width="0.8"/>
<line x1="309.95" y1="287.25" x2="318.55" y2="287.25" stroke="#ff8f8f" stroke-width="0.8"/>
<line x1="309.95" y1="322.25" x2="318.55" y2="322.25" stroke="#ff8f8f" stroke-width="0.8"/>
<line x1="314.25" y1="358" x2="314.25" y2="361.4" stroke="#222" stroke-width="1.0"/>
<circle cx="314.25" cy="283.30" r="1.05" fill="#000"/>
<circle cx="314.25" cy="290.00" r="1.05" fill="#000"/>
<circle cx="314.25" cy="296.30" r="1.05" fill="#000"/>
<circle cx="314.25" cy="313.80" r="1.05" fill="#000"/>
<circle cx="314.25" cy="321.30" r="1.05" fill="#000"/>
<circle cx="314.25" cy="325.50" r="1.05" fill="#000"/>
<text x="287" y="373" font-size="9.1" text-anchor="middle" font-weight="normal" fill="#111" stroke="#111" stroke-width="0.3">MI</text>
<text x="315.5" y="373" font-size="9.1" text-anchor="middle" font-weight="normal" fill="#111" stroke="#111" stroke-width="0.3">MI+La</text>
<text x="283.2" y="253" font-size="9.2" text-anchor="start" font-weight="normal" fill="#111" stroke="#111" stroke-width="0.3">P=0.0032</text>
<line x1="289.25" y1="256.8" x2="316.25" y2="256.8" stroke="#111" stroke-width="1.5"/>
<line x1="452.5" y1="235.5" x2="461.8" y2="235.5" stroke="#2a2aff" stroke-width="1.2"/>
<text x="468.7" y="238.3" font-size="9.1" text-anchor="start" font-weight="normal" fill="#111" stroke="#111" stroke-width="0.3">MI</text>
<line x1="452.5" y1="246.8" x2="461.8" y2="246.8" stroke="#ff2222" stroke-width="1.2"/>
<text x="468.7" y="249.6" font-size="9.1" text-anchor="start" font-weight="normal" fill="#111" stroke="#111" stroke-width="0.3">MI+La</text>
<text x="354.2" y="305.5" font-size="9" text-anchor="middle" font-weight="normal" fill="#111" stroke="#111" stroke-width="0.3" transform="rotate(-90 354.2 305.5)" dy="3.24">pg/ml</text>
<line x1="375.75" y1="257.5" x2="375.75" y2="358.6" stroke="#222" stroke-width="1.1"/>
<line x1="372.5" y1="358" x2="476.3" y2="358" stroke="#222" stroke-width="1.2"/>
<line x1="372.15" y1="258" x2="375.75" y2="258" stroke="#222" stroke-width="1.0"/>
<text x="371.2" y="260.844" font-size="7.9" text-anchor="end" font-weight="normal" fill="#111" stroke="#111" stroke-width="0.3">150</text>
<line x1="372.15" y1="291.25" x2="375.75" y2="291.25" stroke="#222" stroke-width="1.0"/>
<text x="371.2" y="294.094" font-size="7.9" text-anchor="end" font-weight="normal" fill="#111" stroke="#111" stroke-width="0.3">100</text>
<line x1="372.15" y1="324.75" x2="375.75" y2="324.75" stroke="#222" stroke-width="1.0"/>
<text x="371.2" y="327.594" font-size="7.9" text-anchor="end" font-weight="normal" fill="#111" stroke="#111" stroke-width="0.3">50</text>
<line x1="372.15" y1="358" x2="375.75" y2="358" stroke="#222" stroke-width="1.0"/>
<text x="371.2" y="360.844" font-size="7.9" text-anchor="end" font-weight="normal" fill="#111" stroke="#111" stroke-width="0.3">0</text>
<path d="M383.1 358 V298.25 H395.7 V358" fill="none" stroke="#2a2aff" stroke-width="1.25"/>
<line x1="389.3" y1="288" x2="389.3" y2="308" stroke="#8f8fff" stroke-width="0.8"/>
<line x1="385.40000000000003" y1="288" x2="393.2" y2="288" stroke="#8f8fff" stroke-width="0.8"/>
<line x1="385.40000000000003" y1="308" x2="393.2" y2="308" stroke="#8f8fff" stroke-width="0.8"/>
<circle cx="389.25" cy="285.00" r="1.05" fill="#000"/>
<circle cx="387.50" cy="290.00" r="1.05" fill="#000"/>
<circle cx="391.25" cy="290.00" r="1.05" fill="#000"/>
<circle cx="387.50" cy="293.00" r="1.05" fill="#000"/>
<circle cx="391.25" cy="293.00" r="1.05" fill="#000"/>
<circle cx="389.25" cy="298.00" r="1.05" fill="#000"/>
<circle cx="389.25" cy="308.00" r="1.05" fill="#000"/>
<circle cx="389.25" cy="312.00" r="1.05" fill="#000"/>
<circle cx="389.25" cy="314.50" r="1.05" fill="#000"/>
<path d="M403.1 358 V323.25 H415.7 V358" fill="none" stroke="#ff2222" stroke-width="1.25"/>
<line x1="409.5" y1="311.75" x2="409.5" y2="334.25" stroke="#ff8f8f" stroke-width="0.8"/>
<line x1="405.6" y1="311.75" x2="413.4" y2="311.75" stroke="#ff8f8f" stroke-width="0.8"/>
<line x1="405.6" y1="334.25" x2="413.4" y2="334.25" stroke="#ff8f8f" stroke-width="0.8"/>
<circle cx="405.75" cy="310.50" r="1.05" fill="#000"/>
<circle cx="409.50" cy="310.50" r="1.05" fill="#000"/>
<circle cx="413.25" cy="310.50" r="1.05" fill="#000"/>
<circle cx="409.50" cy="319.25" r="1.05" fill="#000"/>
<circle cx="409.50" cy="322.50" r="1.05" fill="#000"/>
<circle cx="409.50" cy="328.00" r="1.05" fill="#000"/>
<circle cx="405.75" cy="335.75" r="1.05" fill="#000"/>
<circle cx="409.50" cy="334.50" r="1.05" fill="#000"/>
<circle cx="413.25" cy="335.75" r="1.05" fill="#000"/>
<path d="M436.4 358 V301.75 H449.2 V358" fill="none" stroke="#2a2aff" stroke-width="1.25"/>
<line x1="443" y1="287.5" x2="443" y2="315" stroke="#8f8fff" stroke-width="0.8"/>
<line x1="439.1" y1="287.5" x2="446.9" y2="287.5" stroke="#8f8fff" stroke-width="0.8"/>
<line x1="439.1" y1="315" x2="446.9" y2="315" stroke="#8f8fff" stroke-width="0.8"/>
<circle cx="443.00" cy="280.00" r="1.05" fill="#000"/>
<circle cx="443.00" cy="288.00" r="1.05" fill="#000"/>
<circle cx="443.00" cy="293.75" r="1.05" fill="#000"/>
<circle cx="439.25" cy="300.25" r="1.05" fill="#000"/>
<circle cx="446.75" cy="300.25" r="1.05" fill="#000"/>
<circle cx="443.00" cy="301.75" r="1.05" fill="#000"/>
<circle cx="443.00" cy="307.50" r="1.05" fill="#000"/>
<circle cx="443.00" cy="314.25" r="1.05" fill="#000"/>
<circle cx="443.00" cy="324.50" r="1.05" fill="#000"/>
<path d="M456.4 358 V326.75 H469.2 V358" fill="none" stroke="#ff2222" stroke-width="1.25"/>
<line x1="462.75" y1="317.5" x2="462.75" y2="335" stroke="#ff8f8f" stroke-width="0.8"/>
<line x1="458.85" y1="317.5" x2="466.65" y2="317.5" stroke="#ff8f8f" stroke-width="0.8"/>
<line x1="458.85" y1="335" x2="466.65" y2="335" stroke="#ff8f8f" stroke-width="0.8"/>
<circle cx="462.75" cy="313.75" r="1.05" fill="#000"/>
<circle cx="462.75" cy="317.00" r="1.05" fill="#000"/>
<circle cx="462.75" cy="320.00" r="1.05" fill="#000"/>
<circle cx="462.75" cy="324.50" r="1.05" fill="#000"/>
<circle cx="460.00" cy="328.00" r="1.05" fill="#000"/>
<circle cx="462.75" cy="328.75" r="1.05" fill="#000"/>
<circle cx="465.50" cy="328.00" r="1.05" fill="#000"/>
<circle cx="462.75" cy="333.00" r="1.05" fill="#000"/>
<circle cx="462.75" cy="343.00" r="1.05" fill="#000"/>
<line x1="399.5" y1="358" x2="399.5" y2="361.4" stroke="#222" stroke-width="1.0"/>
<line x1="453" y1="358" x2="453" y2="361.4" stroke="#222" stroke-width="1.0"/>
<text x="402" y="371.8" font-size="9.1" text-anchor="middle" font-weight="normal" fill="#111" stroke="#111" stroke-width="0.3">TNF-α</text>
<text x="455" y="371.8" font-size="9.1" text-anchor="middle" font-weight="normal" fill="#111" stroke="#111" stroke-width="0.3">IL-6</text>
<text x="384.5" y="254.5" font-size="9.2" text-anchor="start" font-weight="normal" fill="#111" stroke="#111" stroke-width="0.3">P=1.7*10<tspan dy="-3" font-size="5.5">-4</tspan></text>
<line x1="389.25" y1="259.5" x2="416.25" y2="259.5" stroke="#111" stroke-width="1.5"/>
<text x="436.2" y="268" font-size="9.2" text-anchor="start" font-weight="normal" fill="#111" stroke="#111" stroke-width="0.3">P=2.9*10<tspan dy="-3" font-size="5.5">-4</tspan></text>
<line x1="442.5" y1="272.8" x2="470.5" y2="272.8" stroke="#111" stroke-width="1.5"/>
<text x="523" y="249.5" font-size="9" text-anchor="middle" font-weight="normal" fill="#111" stroke="#111" stroke-width="0.3" transform="rotate(-90 523 249.5)" dy="3.24">MI</text>
<text x="523" y="340" font-size="9" text-anchor="middle" font-weight="normal" fill="#111" stroke="#111" stroke-width="0.3" transform="rotate(-90 523 340)" dy="3.24">MI+La</text>
<rect x="553.3" y="217.5" width="64.4" height="63" fill="#fff" stroke="#cfcfcf" stroke-width="0.9"/>
<line x1="550.0999999999999" y1="220.3" x2="553.3" y2="220.3" stroke="#777" stroke-width="0.6"/>
<line x1="544.8" y1="220.3" x2="549.0999999999999" y2="220.3" stroke="#9a9a9a" stroke-width="0.9"/>
<line x1="550.0999999999999" y1="232.26000000000002" x2="553.3" y2="232.26000000000002" stroke="#777" stroke-width="0.6"/>
<line x1="544.8" y1="232.26000000000002" x2="549.0999999999999" y2="232.26000000000002" stroke="#9a9a9a" stroke-width="0.9"/>
<line x1="550.0999999999999" y1="244.22" x2="553.3" y2="244.22" stroke="#777" stroke-width="0.6"/>
<line x1="544.8" y1="244.22" x2="549.0999999999999" y2="244.22" stroke="#9a9a9a" stroke-width="0.9"/>
<line x1="550.0999999999999" y1="256.18" x2="553.3" y2="256.18" stroke="#777" stroke-width="0.6"/>
<line x1="544.8" y1="256.18" x2="549.0999999999999" y2="256.18" stroke="#9a9a9a" stroke-width="0.9"/>
<line x1="550.0999999999999" y1="268.14" x2="553.3" y2="268.14" stroke="#777" stroke-width="0.6"/>
<line x1="544.8" y1="268.14" x2="549.0999999999999" y2="268.14" stroke="#9a9a9a" stroke-width="0.9"/>
<line x1="550.0999999999999" y1="280.1" x2="553.3" y2="280.1" stroke="#777" stroke-width="0.6"/>
<line x1="544.8" y1="280.1" x2="549.0999999999999" y2="280.1" stroke="#9a9a9a" stroke-width="0.9"/>
<line x1="559.74" y1="280.5" x2="559.74" y2="282.7" stroke="#777" stroke-width="0.6"/>
<line x1="558.74" y1="285.3" x2="560.34" y2="283.7" stroke="#8a8a8a" stroke-width="0.8"/>
<line x1="569.4" y1="280.5" x2="569.4" y2="282.7" stroke="#777" stroke-width="0.6"/>
<line x1="568.4" y1="285.3" x2="570.0" y2="283.7" stroke="#8a8a8a" stroke-width="0.8"/>
<line x1="580.348" y1="280.5" x2="580.348" y2="282.7" stroke="#777" stroke-width="0.6"/>
<line x1="579.348" y1="285.3" x2="580.948" y2="283.7" stroke="#8a8a8a" stroke-width="0.8"/>
<line x1="597.092" y1="280.5" x2="597.092" y2="282.7" stroke="#777" stroke-width="0.6"/>
<line x1="596.092" y1="285.3" x2="597.692" y2="283.7" stroke="#8a8a8a" stroke-width="0.8"/>
<line x1="613.192" y1="280.5" x2="613.192" y2="282.7" stroke="#777" stroke-width="0.6"/>
<line x1="612.192" y1="285.3" x2="613.792" y2="283.7" stroke="#8a8a8a" stroke-width="0.8"/>
<line x1="566.18" y1="282.1" x2="569.4" y2="282.1" stroke="#111" stroke-width="1.4"/>
<svg x="553.3" y="217.5" width="64.4" height="63" viewBox="0 0 64.4 63" overflow="hidden">
<g filter="url(#g3)"><ellipse cx="22" cy="52" rx="19" ry="15" fill="#7c7cf6" opacity="0.6"/><ellipse cx="30" cy="60" rx="28" ry="5" fill="#6c6cf8" opacity="0.6"/><ellipse cx="55.5" cy="43" rx="5" ry="11" fill="#6c6cf8" opacity="0.65" transform="rotate(20 55.5 43)"/></g>
<g filter="url(#sp12)"><rect x="-4" y="-4" width="72.4" height="71" fill="none"/>
<g>
<g filter="url(#g3)">
<ellipse cx="22" cy="47" rx="21" ry="24" fill="#fff" opacity="0.72"/>
<ellipse cx="22" cy="54" rx="21" ry="14" fill="#fff" opacity="0.6"/>
<ellipse cx="46" cy="60" rx="15" ry="6.5" fill="#fff" opacity="0.9"/>
<ellipse cx="30" cy="59" rx="30" ry="6" fill="#fff" opacity="0.5"/>
<ellipse cx="55.5" cy="43" rx="7" ry="14.5" fill="#fff" opacity="1" transform="rotate(20 55.5 43)"/>
<ellipse cx="55.5" cy="43" rx="4" ry="9" fill="#fff" opacity="0.5" transform="rotate(20 55.5 43)"/>
<ellipse cx="38" cy="51" rx="12" ry="10" fill="#fff" opacity="0.45"/>
<ellipse cx="12" cy="57" rx="8" ry="8" fill="#fff" opacity="0.3"/>
</g></g></g>
<g filter="url(#g1)"><ellipse cx="21" cy="59.5" rx="21" ry="6.5" fill="#2b50ff" opacity="0.9"/><ellipse cx="18" cy="61.4" rx="17" ry="3.6" fill="#16c8e8" opacity="1"/><ellipse cx="16.5" cy="62" rx="13" ry="2.4" fill="#3fe048" opacity="1"/><ellipse cx="15" cy="62.4" rx="9" ry="1.6" fill="#f2e02a" opacity="1"/><ellipse cx="14" cy="62.7" rx="5.5" ry="1.1" fill="#f0401a" opacity="1"/><ellipse cx="55" cy="43" rx="3.8" ry="9" fill="#2b3cff" opacity="0.9" transform="rotate(20 55 43)"/><ellipse cx="54.4" cy="47" rx="1.8" ry="4" fill="#1e9cf2" opacity="0.9" transform="rotate(20 54.4 47)"/></g>
<ellipse cx="55.3" cy="42.7" rx="7.6" ry="15.2" transform="rotate(20 55.3 42.7)" fill="none" stroke="#555" stroke-width="0.8"/>
</svg>
<path d="M609.5 267.59999999999997 H625.9 V268.8 H609.5 Z M624.9 265.09999999999997 L635.4 268.2 L624.9 271.3 Z" fill="#000"/>
<text x="535.8" y="251.0" font-size="8.6" text-anchor="middle" font-weight="normal" fill="#111" stroke="#111" stroke-width="0.3" transform="rotate(-90 535.8 251.0)" dy="3.10">FSC-A</text>
<text x="587" y="298" font-size="9" text-anchor="middle" font-weight="normal" fill="#111" stroke="#111" stroke-width="0.3">CD45</text>
<rect x="645" y="217.5" width="63.2" height="63" fill="#fff" stroke="#cfcfcf" stroke-width="0.9"/>
<line x1="642.4" y1="225.06" x2="645" y2="225.06" stroke="#777" stroke-width="0.6"/>
<line x1="639.6" y1="224.46" x2="641.6" y2="225.66" stroke="#8a8a8a" stroke-width="0.8"/>
<line x1="642.4" y1="241.44" x2="645" y2="241.44" stroke="#777" stroke-width="0.6"/>
<line x1="639.6" y1="240.84" x2="641.6" y2="242.04" stroke="#8a8a8a" stroke-width="0.8"/>
<line x1="642.4" y1="259.08" x2="645" y2="259.08" stroke="#777" stroke-width="0.6"/>
<line x1="639.6" y1="258.47999999999996" x2="641.6" y2="259.68" stroke="#8a8a8a" stroke-width="0.8"/>
<line x1="642.4" y1="266.64" x2="645" y2="266.64" stroke="#777" stroke-width="0.6"/>
<line x1="639.6" y1="266.03999999999996" x2="641.6" y2="267.24" stroke="#8a8a8a" stroke-width="0.8"/>
<line x1="642.4" y1="276.09000000000003" x2="645" y2="276.09000000000003" stroke="#777" stroke-width="0.6"/>
<line x1="639.6" y1="275.49" x2="641.6" y2="276.69000000000005" stroke="#8a8a8a" stroke-width="0.8"/>
<line x1="643" y1="266.64" x2="644.5" y2="266.64" stroke="#111" stroke-width="1.6"/>
<line x1="651.32" y1="280.5" x2="651.32" y2="282.7" stroke="#777" stroke-width="0.6"/>
<line x1="650.32" y1="285.3" x2="651.9200000000001" y2="283.7" stroke="#8a8a8a" stroke-width="0.8"/>
<line x1="660.8" y1="280.5" x2="660.8" y2="282.7" stroke="#777" stroke-width="0.6"/>
<line x1="659.8" y1="285.3" x2="661.4" y2="283.7" stroke="#8a8a8a" stroke-width="0.8"/>
<line x1="671.544" y1="280.5" x2="671.544" y2="282.7" stroke="#777" stroke-width="0.6"/>
<line x1="670.544" y1="285.3" x2="672.144" y2="283.7" stroke="#8a8a8a" stroke-width="0.8"/>
<line x1="687.976" y1="280.5" x2="687.976" y2="282.7" stroke="#777" stroke-width="0.6"/>
<line x1="686.976" y1="285.3" x2="688.576" y2="283.7" stroke="#8a8a8a" stroke-width="0.8"/>
<line x1="703.776" y1="280.5" x2="703.776" y2="282.7" stroke="#777" stroke-width="0.6"/>
<line x1="702.776" y1="285.3" x2="704.376" y2="283.7" stroke="#8a8a8a" stroke-width="0.8"/>
<line x1="657.64" y1="282.1" x2="660.8" y2="282.1" stroke="#111" stroke-width="1.4"/>
<svg x="645" y="217.5" width="63.2" height="63" viewBox="0 0 63.2 63" overflow="hidden">
<g filter="url(#g3)"><ellipse cx="20" cy="45" rx="13" ry="13" fill="#9c9cf0" opacity="0.5"/><ellipse cx="48.5" cy="44" rx="10" ry="16" fill="#9c9cf0" opacity="0.55"/><ellipse cx="54" cy="20" rx="6" ry="6" fill="#9c9cf0" opacity="0.5"/></g>
<g filter="url(#sp13)"><rect x="-4" y="-4" width="71.2" height="71" fill="none"/>
<g>
<g filter="url(#g3)">
<ellipse cx="20" cy="45" rx="16" ry="16" fill="#fff" opacity="0.85"/>
<ellipse cx="20" cy="45" rx="8" ry="8" fill="#fff" opacity="0.3"/>
<ellipse cx="48.5" cy="44" rx="12" ry="19" fill="#fff" opacity="0.9"/>
<ellipse cx="48.5" cy="42" rx="6" ry="12" fill="#fff" opacity="0.4"/>
<ellipse cx="54.5" cy="19.5" rx="8" ry="8" fill="#fff" opacity="0.95"/>
<ellipse cx="54.5" cy="19.5" rx="3.5" ry="3.5" fill="#fff" opacity="0.5"/>
<ellipse cx="49" cy="27" rx="5" ry="5" fill="#fff" opacity="0.5"/>
<ellipse cx="35" cy="46" rx="10" ry="10" fill="#fff" opacity="0.5"/>
</g></g></g>
<g filter="url(#g2)" opacity=".75"><ellipse cx="20.5" cy="45" rx="6" ry="5.5" fill="#3c9cc0" opacity="0.6"/><ellipse cx="48.5" cy="43" rx="4.5" ry="10" fill="#38ac74" opacity="0.8"/><ellipse cx="49.5" cy="41" rx="2.2" ry="5" fill="#c4b848" opacity="0.75"/><ellipse cx="54.5" cy="19.5" rx="3" ry="3.2" fill="#38ac74" opacity="0.9"/><ellipse cx="54.8" cy="19.3" rx="1.4" ry="1.6" fill="#d8b040" opacity="0.9"/></g>
<rect x="35.6" y="1.8" width="27" height="25.2" fill="none" stroke="#777" stroke-width="0.9"/>
<rect x="35.6" y="27.6" width="27" height="33.2" fill="none" stroke="#777" stroke-width="0.9"/>
</svg>
<path d="M705 266.9 H718.1 V268.1 H705 Z M717.1 264.9 L725.6 267.5 L717.1 270.1 Z" fill="#000"/>
<text x="633" y="252.5" font-size="9" text-anchor="middle" font-weight="normal" fill="#111" stroke="#111" stroke-width="0.3" transform="rotate(-90 633 252.5)" dy="3.24">Ly6G</text>
<text x="680.5" y="298" font-size="9" text-anchor="middle" font-weight="normal" fill="#111" stroke="#111" stroke-width="0.3">CD11b</text>
<rect x="733.8" y="218" width="62.5" height="62.5" fill="#fff" stroke="#cfcfcf" stroke-width="0.9"/>
<line x1="731.1999999999999" y1="225.5" x2="733.8" y2="225.5" stroke="#777" stroke-width="0.6"/>
<line x1="728.4" y1="224.9" x2="730.4" y2="226.1" stroke="#8a8a8a" stroke-width="0.8"/>
<line x1="731.1999999999999" y1="241.75" x2="733.8" y2="241.75" stroke="#777" stroke-width="0.6"/>
<line x1="728.4" y1="241.15" x2="730.4" y2="242.35" stroke="#8a8a8a" stroke-width="0.8"/>
<line x1="731.1999999999999" y1="259.25" x2="733.8" y2="259.25" stroke="#777" stroke-width="0.6"/>
<line x1="728.4" y1="258.65" x2="730.4" y2="259.85" stroke="#8a8a8a" stroke-width="0.8"/>
<line x1="731.1999999999999" y1="266.75" x2="733.8" y2="266.75" stroke="#777" stroke-width="0.6"/>
<line x1="728.4" y1="266.15" x2="730.4" y2="267.35" stroke="#8a8a8a" stroke-width="0.8"/>
<line x1="731.1999999999999" y1="276.125" x2="733.8" y2="276.125" stroke="#777" stroke-width="0.6"/>
<line x1="728.4" y1="275.525" x2="730.4" y2="276.725" stroke="#8a8a8a" stroke-width="0.8"/>
<line x1="731.8" y1="266.75" x2="733.3" y2="266.75" stroke="#111" stroke-width="1.6"/>
<line x1="740.05" y1="280.5" x2="740.05" y2="282.7" stroke="#777" stroke-width="0.6"/>
<line x1="739.05" y1="285.3" x2="740.65" y2="283.7" stroke="#8a8a8a" stroke-width="0.8"/>
<line x1="749.425" y1="280.5" x2="749.425" y2="282.7" stroke="#777" stroke-width="0.6"/>
<line x1="748.425" y1="285.3" x2="750.025" y2="283.7" stroke="#8a8a8a" stroke-width="0.8"/>
<line x1="760.05" y1="280.5" x2="760.05" y2="282.7" stroke="#777" stroke-width="0.6"/>
<line x1="759.05" y1="285.3" x2="760.65" y2="283.7" stroke="#8a8a8a" stroke-width="0.8"/>
<line x1="776.3" y1="280.5" x2="776.3" y2="282.7" stroke="#777" stroke-width="0.6"/>
<line x1="775.3" y1="285.3" x2="776.9" y2="283.7" stroke="#8a8a8a" stroke-width="0.8"/>
<line x1="791.925" y1="280.5" x2="791.925" y2="282.7" stroke="#777" stroke-width="0.6"/>
<line x1="790.925" y1="285.3" x2="792.525" y2="283.7" stroke="#8a8a8a" stroke-width="0.8"/>
<line x1="746.3" y1="282.1" x2="749.425" y2="282.1" stroke="#111" stroke-width="1.4"/>
<svg x="733.8" y="218" width="62.5" height="62.5" viewBox="0 0 62.5 62.5" overflow="hidden">
<g filter="url(#g3)"><ellipse cx="47" cy="15" rx="9" ry="8" fill="#9c9cf0" opacity="0.55"/><ellipse cx="45" cy="36" rx="7" ry="9" fill="#a8a8f0" opacity="0.35"/></g>
<g filter="url(#sp14)"><rect x="-4" y="-4" width="70.5" height="70.5" fill="none"/>
<g>
<g filter="url(#g3)">
<ellipse cx="47" cy="15" rx="12.5" ry="11" fill="#fff" opacity="1"/>
<ellipse cx="47.5" cy="14.5" rx="7" ry="6" fill="#fff" opacity="0.6"/>
<ellipse cx="45" cy="36" rx="10" ry="12.5" fill="#fff" opacity="0.8"/>
</g></g></g>
<g filter="url(#g1_5)" opacity=".85"><ellipse cx="48" cy="14" rx="6" ry="5" fill="#2f8fd0" opacity="0.8"/><ellipse cx="49.5" cy="13" rx="3.6" ry="3" fill="#40b060" opacity="0.9"/><ellipse cx="50.5" cy="12.5" rx="1.8" ry="1.4" fill="#e0b030" opacity="0.9"/></g>
<rect x="33.3" y="3.3" width="27.4" height="21.7" fill="none" stroke="#555" stroke-width="0.8"/>
</svg>
<path d="M792 227.70000000000002 H804.7 V228.9 H792 Z M803.7 225.60000000000002 L813.2 228.3 L803.7 231.0 Z" fill="#000"/>
<text x="722" y="251.8" font-size="9" text-anchor="middle" font-weight="normal" fill="#111" stroke="#111" stroke-width="0.3" transform="rotate(-90 722 251.8)" dy="3.24">CD64</text>
<text x="767" y="296.3" font-size="9" text-anchor="middle" font-weight="normal" fill="#111" stroke="#111" stroke-width="0.3">CD11b</text>
<rect x="820" y="218" width="62.5" height="62.5" fill="#fff" stroke="#cfcfcf" stroke-width="0.9"/>
<line x1="817.4" y1="225.5" x2="820" y2="225.5" stroke="#777" stroke-width="0.6"/>
<line x1="814.6" y1="224.9" x2="816.6" y2="226.1" stroke="#8a8a8a" stroke-width="0.8"/>
<line x1="817.4" y1="241.75" x2="820" y2="241.75" stroke="#777" stroke-width="0.6"/>
<line x1="814.6" y1="241.15" x2="816.6" y2="242.35" stroke="#8a8a8a" stroke-width="0.8"/>
<line x1="817.4" y1="259.25" x2="820" y2="259.25" stroke="#777" stroke-width="0.6"/>
<line x1="814.6" y1="258.65" x2="816.6" y2="259.85" stroke="#8a8a8a" stroke-width="0.8"/>
<line x1="817.4" y1="266.75" x2="820" y2="266.75" stroke="#777" stroke-width="0.6"/>
<line x1="814.6" y1="266.15" x2="816.6" y2="267.35" stroke="#8a8a8a" stroke-width="0.8"/>
<line x1="817.4" y1="276.125" x2="820" y2="276.125" stroke="#777" stroke-width="0.6"/>
<line x1="814.6" y1="275.525" x2="816.6" y2="276.725" stroke="#8a8a8a" stroke-width="0.8"/>
<line x1="818" y1="266.75" x2="819.5" y2="266.75" stroke="#111" stroke-width="1.6"/>
<line x1="826.25" y1="280.5" x2="826.25" y2="282.7" stroke="#777" stroke-width="0.6"/>
<line x1="825.25" y1="285.3" x2="826.85" y2="283.7" stroke="#8a8a8a" stroke-width="0.8"/>
<line x1="835.625" y1="280.5" x2="835.625" y2="282.7" stroke="#777" stroke-width="0.6"/>
<line x1="834.625" y1="285.3" x2="836.225" y2="283.7" stroke="#8a8a8a" stroke-width="0.8"/>
<line x1="846.25" y1="280.5" x2="846.25" y2="282.7" stroke="#777" stroke-width="0.6"/>
<line x1="845.25" y1="285.3" x2="846.85" y2="283.7" stroke="#8a8a8a" stroke-width="0.8"/>
<line x1="862.5" y1="280.5" x2="862.5" y2="282.7" stroke="#777" stroke-width="0.6"/>
<line x1="861.5" y1="285.3" x2="863.1" y2="283.7" stroke="#8a8a8a" stroke-width="0.8"/>
<line x1="878.125" y1="280.5" x2="878.125" y2="282.7" stroke="#777" stroke-width="0.6"/>
<line x1="877.125" y1="285.3" x2="878.725" y2="283.7" stroke="#8a8a8a" stroke-width="0.8"/>
<line x1="832.5" y1="282.1" x2="835.625" y2="282.1" stroke="#111" stroke-width="1.4"/>
<svg x="820" y="218" width="62.5" height="62.5" viewBox="0 0 62.5 62.5" overflow="hidden">
<ellipse cx="46.80" cy="25.50" rx="10.20" ry="18.00" transform="rotate(-8 46.8 25.5)" fill="none" stroke="#7a7a7a" stroke-width="0.55"/>
<ellipse cx="47.05" cy="24.60" rx="9.18" ry="16.20" transform="rotate(-8 46.8 25.5)" fill="none" stroke="#7a7a7a" stroke-width="0.55"/>
<ellipse cx="47.30" cy="23.70" rx="8.16" ry="14.40" transform="rotate(-8 46.8 25.5)" fill="none" stroke="#7a7a7a" stroke-width="0.55"/>
<ellipse cx="47.55" cy="22.80" rx="7.14" ry="12.60" transform="rotate(-8 46.8 25.5)" fill="none" stroke="#7a7a7a" stroke-width="0.55"/>
<ellipse cx="47.80" cy="21.90" rx="6.12" ry="10.80" transform="rotate(-8 46.8 25.5)" fill="none" stroke="#7a7a7a" stroke-width="0.55"/>
<ellipse cx="48.05" cy="21.00" rx="5.10" ry="9.00" transform="rotate(-8 46.8 25.5)" fill="none" stroke="#7a7a7a" stroke-width="0.55"/>
<ellipse cx="48.30" cy="20.10" rx="4.08" ry="7.20" transform="rotate(-8 46.8 25.5)" fill="none" stroke="#7a7a7a" stroke-width="0.55"/>
<ellipse cx="48.55" cy="19.20" rx="3.06" ry="5.40" transform="rotate(-8 46.8 25.5)" fill="none" stroke="#7a7a7a" stroke-width="0.55"/>
<ellipse cx="48.80" cy="18.30" rx="2.04" ry="3.60" transform="rotate(-8 46.8 25.5)" fill="none" stroke="#7a7a7a" stroke-width="0.55"/>
<rect x="32" y="4.5" width="28.5" height="20" fill="none" stroke="#444" stroke-width="0.8"/>
</svg>
<text x="806.8" y="251.3" font-size="9" text-anchor="middle" font-weight="normal" fill="#111" stroke="#111" stroke-width="0.3" transform="rotate(-90 806.8 251.3)" dy="3.24">Ly6C</text>
<text x="850" y="297" font-size="9" text-anchor="middle" font-weight="normal" fill="#111" stroke="#111" stroke-width="0.3">CD11b</text>
<rect x="553.3" y="307" width="64.4" height="63.5" fill="#fff" stroke="#cfcfcf" stroke-width="0.9"/>
<line x1="550.0999999999999" y1="309.8" x2="553.3" y2="309.8" stroke="#777" stroke-width="0.6"/>
<line x1="544.8" y1="309.8" x2="549.0999999999999" y2="309.8" stroke="#9a9a9a" stroke-width="0.9"/>
<line x1="550.0999999999999" y1="321.86" x2="553.3" y2="321.86" stroke="#777" stroke-width="0.6"/>
<line x1="544.8" y1="321.86" x2="549.0999999999999" y2="321.86" stroke="#9a9a9a" stroke-width="0.9"/>
<line x1="550.0999999999999" y1="333.92" x2="553.3" y2="333.92" stroke="#777" stroke-width="0.6"/>
<line x1="544.8" y1="333.92" x2="549.0999999999999" y2="333.92" stroke="#9a9a9a" stroke-width="0.9"/>
<line x1="550.0999999999999" y1="345.98" x2="553.3" y2="345.98" stroke="#777" stroke-width="0.6"/>
<line x1="544.8" y1="345.98" x2="549.0999999999999" y2="345.98" stroke="#9a9a9a" stroke-width="0.9"/>
<line x1="550.0999999999999" y1="358.04" x2="553.3" y2="358.04" stroke="#777" stroke-width="0.6"/>
<line x1="544.8" y1="358.04" x2="549.0999999999999" y2="358.04" stroke="#9a9a9a" stroke-width="0.9"/>
<line x1="550.0999999999999" y1="370.1" x2="553.3" y2="370.1" stroke="#777" stroke-width="0.6"/>
<line x1="544.8" y1="370.1" x2="549.0999999999999" y2="370.1" stroke="#9a9a9a" stroke-width="0.9"/>
<line x1="559.74" y1="370.5" x2="559.74" y2="372.7" stroke="#777" stroke-width="0.6"/>
<line x1="558.74" y1="375.3" x2="560.34" y2="373.7" stroke="#8a8a8a" stroke-width="0.8"/>
<line x1="569.4" y1="370.5" x2="569.4" y2="372.7" stroke="#777" stroke-width="0.6"/>
<line x1="568.4" y1="375.3" x2="570.0" y2="373.7" stroke="#8a8a8a" stroke-width="0.8"/>
<line x1="580.348" y1="370.5" x2="580.348" y2="372.7" stroke="#777" stroke-width="0.6"/>
<line x1="579.348" y1="375.3" x2="580.948" y2="373.7" stroke="#8a8a8a" stroke-width="0.8"/>
<line x1="597.092" y1="370.5" x2="597.092" y2="372.7" stroke="#777" stroke-width="0.6"/>
<line x1="596.092" y1="375.3" x2="597.692" y2="373.7" stroke="#8a8a8a" stroke-width="0.8"/>
<line x1="613.192" y1="370.5" x2="613.192" y2="372.7" stroke="#777" stroke-width="0.6"/>
<line x1="612.192" y1="375.3" x2="613.792" y2="373.7" stroke="#8a8a8a" stroke-width="0.8"/>
<line x1="566.18" y1="372.1" x2="569.4" y2="372.1" stroke="#111" stroke-width="1.4"/>
<svg x="553.3" y="307" width="64.4" height="63.5" viewBox="0 0 64.4 63.5" overflow="hidden">
<g filter="url(#g3)"><ellipse cx="22" cy="52.5" rx="19" ry="15" fill="#7c7cf6" opacity="0.6"/><ellipse cx="30" cy="60.5" rx="28" ry="5" fill="#6c6cf8" opacity="0.6"/><ellipse cx="55.5" cy="43.5" rx="5" ry="11" fill="#6c6cf8" opacity="0.65" transform="rotate(20 55.5 43.5)"/></g>
<g filter="url(#sp15)"><rect x="-4" y="-4" width="72.4" height="71.5" fill="none"/>
<g>
<g filter="url(#g3)">
<ellipse cx="22" cy="47.5" rx="21" ry="24" fill="#fff" opacity="0.72"/>
<ellipse cx="22" cy="54.5" rx="21" ry="14" fill="#fff" opacity="0.6"/>
<ellipse cx="46" cy="60.5" rx="15" ry="6.5" fill="#fff" opacity="0.9"/>
<ellipse cx="30" cy="59.5" rx="30" ry="6" fill="#fff" opacity="0.5"/>
<ellipse cx="55.5" cy="43.5" rx="7" ry="14.5" fill="#fff" opacity="1" transform="rotate(20 55.5 43.5)"/>
<ellipse cx="55.5" cy="43.5" rx="4" ry="9" fill="#fff" opacity="0.5" transform="rotate(20 55.5 43.5)"/>
<ellipse cx="38" cy="51.5" rx="12" ry="10" fill="#fff" opacity="0.45"/>
<ellipse cx="12" cy="57.5" rx="8" ry="8" fill="#fff" opacity="0.3"/>
</g></g></g>
<g filter="url(#g1)"><ellipse cx="21" cy="60.0" rx="21" ry="6.5" fill="#2b50ff" opacity="0.9"/><ellipse cx="18" cy="61.9" rx="17" ry="3.6" fill="#16c8e8" opacity="1"/><ellipse cx="16.5" cy="62.5" rx="13" ry="2.4" fill="#3fe048" opacity="1"/><ellipse cx="15" cy="62.9" rx="9" ry="1.6" fill="#f2e02a" opacity="1"/><ellipse cx="14" cy="63.2" rx="5.5" ry="1.1" fill="#f0401a" opacity="1"/><ellipse cx="55" cy="43.5" rx="3.8" ry="9" fill="#2b3cff" opacity="0.9" transform="rotate(20 55 43.5)"/><ellipse cx="54.4" cy="47.5" rx="1.8" ry="4" fill="#1e9cf2" opacity="0.9" transform="rotate(20 54.4 47.5)"/></g>
<ellipse cx="55.3" cy="43.3" rx="7.6" ry="15.2" transform="rotate(20 55.3 43.3)" fill="none" stroke="#555" stroke-width="0.8"/>
</svg>
<path d="M609.5 355.9 H626.9 V357.1 H609.5 Z M625.9 353.4 L636.4 356.5 L625.9 359.6 Z" fill="#000"/>
<text x="538.7" y="340.75" font-size="8.6" text-anchor="middle" font-weight="normal" fill="#111" stroke="#111" stroke-width="0.3" transform="rotate(-90 538.7 340.75)" dy="3.10">FSC-A</text>
<text x="589.5" y="387" font-size="9" text-anchor="middle" font-weight="normal" fill="#111" stroke="#111" stroke-width="0.3">CD45</text>
<rect x="644.3" y="307" width="64.4" height="63.5" fill="#fff" stroke="#cfcfcf" stroke-width="0.9"/>
<line x1="641.6999999999999" y1="314.62" x2="644.3" y2="314.62" stroke="#777" stroke-width="0.6"/>
<line x1="638.9" y1="314.02" x2="640.9" y2="315.22" stroke="#8a8a8a" stroke-width="0.8"/>
<line x1="641.6999999999999" y1="331.13" x2="644.3" y2="331.13" stroke="#777" stroke-width="0.6"/>
<line x1="638.9" y1="330.53" x2="640.9" y2="331.73" stroke="#8a8a8a" stroke-width="0.8"/>
<line x1="641.6999999999999" y1="348.91" x2="644.3" y2="348.91" stroke="#777" stroke-width="0.6"/>
<line x1="638.9" y1="348.31" x2="640.9" y2="349.51000000000005" stroke="#8a8a8a" stroke-width="0.8"/>
<line x1="641.6999999999999" y1="356.53" x2="644.3" y2="356.53" stroke="#777" stroke-width="0.6"/>
<line x1="638.9" y1="355.92999999999995" x2="640.9" y2="357.13" stroke="#8a8a8a" stroke-width="0.8"/>
<line x1="641.6999999999999" y1="366.055" x2="644.3" y2="366.055" stroke="#777" stroke-width="0.6"/>
<line x1="638.9" y1="365.455" x2="640.9" y2="366.65500000000003" stroke="#8a8a8a" stroke-width="0.8"/>
<line x1="642.3" y1="356.53" x2="643.8" y2="356.53" stroke="#111" stroke-width="1.6"/>
<line x1="650.74" y1="370.5" x2="650.74" y2="372.7" stroke="#777" stroke-width="0.6"/>
<line x1="649.74" y1="375.3" x2="651.34" y2="373.7" stroke="#8a8a8a" stroke-width="0.8"/>
<line x1="660.4" y1="370.5" x2="660.4" y2="372.7" stroke="#777" stroke-width="0.6"/>
<line x1="659.4" y1="375.3" x2="661.0" y2="373.7" stroke="#8a8a8a" stroke-width="0.8"/>
<line x1="671.348" y1="370.5" x2="671.348" y2="372.7" stroke="#777" stroke-width="0.6"/>
<line x1="670.348" y1="375.3" x2="671.948" y2="373.7" stroke="#8a8a8a" stroke-width="0.8"/>
<line x1="688.092" y1="370.5" x2="688.092" y2="372.7" stroke="#777" stroke-width="0.6"/>
<line x1="687.092" y1="375.3" x2="688.692" y2="373.7" stroke="#8a8a8a" stroke-width="0.8"/>
<line x1="704.192" y1="370.5" x2="704.192" y2="372.7" stroke="#777" stroke-width="0.6"/>
<line x1="703.192" y1="375.3" x2="704.792" y2="373.7" stroke="#8a8a8a" stroke-width="0.8"/>
<line x1="657.18" y1="372.1" x2="660.4" y2="372.1" stroke="#111" stroke-width="1.4"/>
<svg x="644.3" y="307" width="64.4" height="63.5" viewBox="0 0 64.4 63.5" overflow="hidden">
<g filter="url(#g3)"><ellipse cx="24" cy="43" rx="14" ry="10" fill="#a8a8f0" opacity="0.45"/><ellipse cx="49" cy="43" rx="10" ry="15" fill="#a8a8f0" opacity="0.45"/><ellipse cx="54" cy="16.5" rx="5" ry="5" fill="#a8a8f0" opacity="0.4"/></g>
<g filter="url(#sp16)"><rect x="-4" y="-4" width="72.4" height="71.5" fill="none"/>
<g>
<g filter="url(#g3)">
<ellipse cx="24" cy="43" rx="17" ry="12" fill="#fff" opacity="0.82"/>
<ellipse cx="49" cy="43" rx="12" ry="18" fill="#fff" opacity="0.8"/>
<ellipse cx="54" cy="16.5" rx="7" ry="7" fill="#fff" opacity="0.85"/>
<ellipse cx="36" cy="46" rx="10" ry="10" fill="#fff" opacity="0.5"/>
</g></g></g>
<g filter="url(#g2)"><ellipse cx="24" cy="43" rx="5.5" ry="4" fill="#b09a78" opacity="0.4"/><ellipse cx="49" cy="43" rx="4" ry="7" fill="#a89a80" opacity="0.35"/></g>
<rect x="36.5" y="1" width="27.7" height="25" fill="none" stroke="#777" stroke-width="0.9"/>
<rect x="36.5" y="26.8" width="27.7" height="33.2" fill="none" stroke="#777" stroke-width="0.9"/>
</svg>
<path d="M706.3 354.4 H720.1 V355.6 H706.3 Z M719.1 352.4 L727.6 355 L719.1 357.6 Z" fill="#000"/>
<text x="633" y="338.8" font-size="9" text-anchor="middle" font-weight="normal" fill="#111" stroke="#111" stroke-width="0.3" transform="rotate(-90 633 338.8)" dy="3.24">Ly6G</text>
<text x="682" y="387.5" font-size="9" text-anchor="middle" font-weight="normal" fill="#111" stroke="#111" stroke-width="0.3">CD11b</text>
<rect x="733.8" y="309.25" width="62.5" height="62.7" fill="#fff" stroke="#cfcfcf" stroke-width="0.9"/>
<line x1="731.1999999999999" y1="316.774" x2="733.8" y2="316.774" stroke="#777" stroke-width="0.6"/>
<line x1="728.4" y1="316.174" x2="730.4" y2="317.374" stroke="#8a8a8a" stroke-width="0.8"/>
<line x1="731.1999999999999" y1="333.076" x2="733.8" y2="333.076" stroke="#777" stroke-width="0.6"/>
<line x1="728.4" y1="332.476" x2="730.4" y2="333.67600000000004" stroke="#8a8a8a" stroke-width="0.8"/>
<line x1="731.1999999999999" y1="350.632" x2="733.8" y2="350.632" stroke="#777" stroke-width="0.6"/>
<line x1="728.4" y1="350.032" x2="730.4" y2="351.232" stroke="#8a8a8a" stroke-width="0.8"/>
<line x1="731.1999999999999" y1="358.156" x2="733.8" y2="358.156" stroke="#777" stroke-width="0.6"/>
<line x1="728.4" y1="357.556" x2="730.4" y2="358.75600000000003" stroke="#8a8a8a" stroke-width="0.8"/>
<line x1="731.1999999999999" y1="367.56100000000004" x2="733.8" y2="367.56100000000004" stroke="#777" stroke-width="0.6"/>
<line x1="728.4" y1="366.961" x2="730.4" y2="368.16100000000006" stroke="#8a8a8a" stroke-width="0.8"/>
<line x1="731.8" y1="358.156" x2="733.3" y2="358.156" stroke="#111" stroke-width="1.6"/>
<line x1="740.05" y1="371.95" x2="740.05" y2="374.15" stroke="#777" stroke-width="0.6"/>
<line x1="739.05" y1="376.75" x2="740.65" y2="375.15" stroke="#8a8a8a" stroke-width="0.8"/>
<line x1="749.425" y1="371.95" x2="749.425" y2="374.15" stroke="#777" stroke-width="0.6"/>
<line x1="748.425" y1="376.75" x2="750.025" y2="375.15" stroke="#8a8a8a" stroke-width="0.8"/>
<line x1="760.05" y1="371.95" x2="760.05" y2="374.15" stroke="#777" stroke-width="0.6"/>
<line x1="759.05" y1="376.75" x2="760.65" y2="375.15" stroke="#8a8a8a" stroke-width="0.8"/>
<line x1="776.3" y1="371.95" x2="776.3" y2="374.15" stroke="#777" stroke-width="0.6"/>
<line x1="775.3" y1="376.75" x2="776.9" y2="375.15" stroke="#8a8a8a" stroke-width="0.8"/>
<line x1="791.925" y1="371.95" x2="791.925" y2="374.15" stroke="#777" stroke-width="0.6"/>
<line x1="790.925" y1="376.75" x2="792.525" y2="375.15" stroke="#8a8a8a" stroke-width="0.8"/>
<line x1="746.3" y1="373.55" x2="749.425" y2="373.55" stroke="#111" stroke-width="1.4"/>
<svg x="733.8" y="309.25" width="62.5" height="62.7" viewBox="0 0 62.5 62.7" overflow="hidden">
<g filter="url(#g3)"><ellipse cx="47.5" cy="14" rx="9" ry="7.5" fill="#a8a8f0" opacity="0.5"/><ellipse cx="44" cy="35" rx="7" ry="10" fill="#b0b0f0" opacity="0.3"/></g>
<g filter="url(#sp17)"><rect x="-4" y="-4" width="70.5" height="70.7" fill="none"/>
<g>
<g filter="url(#g3)">
<ellipse cx="47.5" cy="14" rx="12.5" ry="10.5" fill="#fff" opacity="0.95"/>
<ellipse cx="47.5" cy="14" rx="6" ry="5" fill="#fff" opacity="0.3"/>
<ellipse cx="44" cy="35" rx="10" ry="14" fill="#fff" opacity="0.75"/>
</g></g></g>
<g filter="url(#g1_5)"><ellipse cx="48" cy="14" rx="5" ry="3.6" fill="#9a90b0" opacity="0.5"/><ellipse cx="49" cy="13.5" rx="2.2" ry="1.6" fill="#c0a070" opacity="0.55"/></g>
<rect x="33.3" y="2.5" width="27.4" height="21.5" fill="none" stroke="#555" stroke-width="0.8"/>
</svg>
<path d="M792 315.2 H804.7 V316.40000000000003 H792 Z M803.7 313.1 L813.2 315.8 L803.7 318.5 Z" fill="#000"/>
<text x="722.5" y="340.5" font-size="9" text-anchor="middle" font-weight="normal" fill="#111" stroke="#111" stroke-width="0.3" transform="rotate(-90 722.5 340.5)" dy="3.24">CD64</text>
<text x="766.3" y="387" font-size="9" text-anchor="middle" font-weight="normal" fill="#111" stroke="#111" stroke-width="0.3">CD11b</text>
<rect x="820" y="309.25" width="62.5" height="62.7" fill="#fff" stroke="#cfcfcf" stroke-width="0.9"/>
<line x1="817.4" y1="316.774" x2="820" y2="316.774" stroke="#777" stroke-width="0.6"/>
<line x1="814.6" y1="316.174" x2="816.6" y2="317.374" stroke="#8a8a8a" stroke-width="0.8"/>
<line x1="817.4" y1="333.076" x2="820" y2="333.076" stroke="#777" stroke-width="0.6"/>
<line x1="814.6" y1="332.476" x2="816.6" y2="333.67600000000004" stroke="#8a8a8a" stroke-width="0.8"/>
<line x1="817.4" y1="350.632" x2="820" y2="350.632" stroke="#777" stroke-width="0.6"/>
<line x1="814.6" y1="350.032" x2="816.6" y2="351.232" stroke="#8a8a8a" stroke-width="0.8"/>
<line x1="817.4" y1="358.156" x2="820" y2="358.156" stroke="#777" stroke-width="0.6"/>
<line x1="814.6" y1="357.556" x2="816.6" y2="358.75600000000003" stroke="#8a8a8a" stroke-width="0.8"/>
<line x1="817.4" y1="367.56100000000004" x2="820" y2="367.56100000000004" stroke="#777" stroke-width="0.6"/>
<line x1="814.6" y1="366.961" x2="816.6" y2="368.16100000000006" stroke="#8a8a8a" stroke-width="0.8"/>
<line x1="818" y1="358.156" x2="819.5" y2="358.156" stroke="#111" stroke-width="1.6"/>
<line x1="826.25" y1="371.95" x2="826.25" y2="374.15" stroke="#777" stroke-width="0.6"/>
<line x1="825.25" y1="376.75" x2="826.85" y2="375.15" stroke="#8a8a8a" stroke-width="0.8"/>
<line x1="835.625" y1="371.95" x2="835.625" y2="374.15" stroke="#777" stroke-width="0.6"/>
<line x1="834.625" y1="376.75" x2="836.225" y2="375.15" stroke="#8a8a8a" stroke-width="0.8"/>
<line x1="846.25" y1="371.95" x2="846.25" y2="374.15" stroke="#777" stroke-width="0.6"/>
<line x1="845.25" y1="376.75" x2="846.85" y2="375.15" stroke="#8a8a8a" stroke-width="0.8"/>
<line x1="862.5" y1="371.95" x2="862.5" y2="374.15" stroke="#777" stroke-width="0.6"/>
<line x1="861.5" y1="376.75" x2="863.1" y2="375.15" stroke="#8a8a8a" stroke-width="0.8"/>
<line x1="878.125" y1="371.95" x2="878.125" y2="374.15" stroke="#777" stroke-width="0.6"/>
<line x1="877.125" y1="376.75" x2="878.725" y2="375.15" stroke="#8a8a8a" stroke-width="0.8"/>
<line x1="832.5" y1="373.55" x2="835.625" y2="373.55" stroke="#111" stroke-width="1.4"/>
<svg x="820" y="309.25" width="62.5" height="62.7" viewBox="0 0 62.5 62.7" overflow="hidden">
<ellipse cx="46.30" cy="30.80" rx="12.00" ry="19.00" transform="rotate(18 46.3 30.8)" fill="none" stroke="#7a7a7a" stroke-width="0.55"/>
<ellipse cx="46.40" cy="31.30" rx="10.80" ry="17.10" transform="rotate(18 46.3 30.8)" fill="none" stroke="#7a7a7a" stroke-width="0.55"/>
<ellipse cx="46.50" cy="31.80" rx="9.60" ry="15.20" transform="rotate(18 46.3 30.8)" fill="none" stroke="#7a7a7a" stroke-width="0.55"/>
<ellipse cx="46.60" cy="32.30" rx="8.40" ry="13.30" transform="rotate(18 46.3 30.8)" fill="none" stroke="#7a7a7a" stroke-width="0.55"/>
<ellipse cx="46.70" cy="32.80" rx="7.20" ry="11.40" transform="rotate(18 46.3 30.8)" fill="none" stroke="#7a7a7a" stroke-width="0.55"/>
<ellipse cx="46.80" cy="33.30" rx="6.00" ry="9.50" transform="rotate(18 46.3 30.8)" fill="none" stroke="#7a7a7a" stroke-width="0.55"/>
<ellipse cx="46.90" cy="33.80" rx="4.80" ry="7.60" transform="rotate(18 46.3 30.8)" fill="none" stroke="#7a7a7a" stroke-width="0.55"/>
<ellipse cx="47.00" cy="34.30" rx="3.60" ry="5.70" transform="rotate(18 46.3 30.8)" fill="none" stroke="#7a7a7a" stroke-width="0.55"/>
<ellipse cx="47.10" cy="34.80" rx="2.40" ry="3.80" transform="rotate(18 46.3 30.8)" fill="none" stroke="#7a7a7a" stroke-width="0.55"/>
<rect x="32" y="5" width="28.5" height="20" fill="none" stroke="#444" stroke-width="0.8"/>
</svg>
<text x="806.8" y="340.5" font-size="9" text-anchor="middle" font-weight="normal" fill="#111" stroke="#111" stroke-width="0.3" transform="rotate(-90 806.8 340.5)" dy="3.24">Ly6C</text>
<text x="850" y="386.3" font-size="9" text-anchor="middle" font-weight="normal" fill="#111" stroke="#111" stroke-width="0.3">CD11b</text>
<text x="37.5" y="497.5" font-size="9.1" text-anchor="middle" font-weight="bold" fill="#111" stroke="#111" stroke-width="0.12" transform="rotate(-90 37.5 497.5)" dy="3.28">Ly6c<tspan font-size="5" dy="-2.6">hi</tspan><tspan dy="2.6"> macrophages</tspan></text>
<text x="53.3" y="498" font-size="9.1" text-anchor="middle" font-weight="bold" fill="#111" stroke="#111" stroke-width="0.12" transform="rotate(-90 53.3 498)" dy="3.28">/mg (heart tissue)</text>
<line x1="83.75" y1="461.25" x2="83.75" y2="554.1" stroke="#222" stroke-width="1.1"/>
<line x1="80.5" y1="553.5" x2="141.8" y2="553.5" stroke="#222" stroke-width="1.2"/>
<line x1="80.15" y1="461.75" x2="83.75" y2="461.75" stroke="#222" stroke-width="1.0"/>
<text x="79.3" y="464.27" font-size="7.0" text-anchor="end" font-weight="normal" fill="#111" stroke="#111" stroke-width="0.3">2000</text>
<line x1="80.15" y1="484.75" x2="83.75" y2="484.75" stroke="#222" stroke-width="1.0"/>
<text x="79.3" y="487.27" font-size="7.0" text-anchor="end" font-weight="normal" fill="#111" stroke="#111" stroke-width="0.3">1500</text>
<line x1="80.15" y1="507.75" x2="83.75" y2="507.75" stroke="#222" stroke-width="1.0"/>
<text x="79.3" y="510.27" font-size="7.0" text-anchor="end" font-weight="normal" fill="#111" stroke="#111" stroke-width="0.3">1000</text>
<line x1="80.15" y1="530.75" x2="83.75" y2="530.75" stroke="#222" stroke-width="1.0"/>
<text x="79.3" y="533.27" font-size="7.0" text-anchor="end" font-weight="normal" fill="#111" stroke="#111" stroke-width="0.3">500</text>
<line x1="80.15" y1="553.5" x2="83.75" y2="553.5" stroke="#222" stroke-width="1.0"/>
<text x="79.3" y="556.02" font-size="7.0" text-anchor="end" font-weight="normal" fill="#111" stroke="#111" stroke-width="0.3">0</text>
<path d="M93.1 553.5 V502.75 H110 V553.5" fill="none" stroke="#2a2aff" stroke-width="1.25"/>
<line x1="101.3" y1="490.25" x2="101.3" y2="515.25" stroke="#8f8fff" stroke-width="0.8"/>
<line x1="97.0" y1="490.25" x2="105.6" y2="490.25" stroke="#8f8fff" stroke-width="0.8"/>
<line x1="97.0" y1="515.25" x2="105.6" y2="515.25" stroke="#8f8fff" stroke-width="0.8"/>
<line x1="101.3" y1="553.5" x2="101.3" y2="556.9" stroke="#222" stroke-width="1.0"/>
<circle cx="101.30" cy="491.00" r="1.05" fill="#000"/>
<circle cx="101.30" cy="493.60" r="1.05" fill="#000"/>
<circle cx="101.30" cy="498.50" r="1.05" fill="#000"/>
<circle cx="101.30" cy="507.80" r="1.05" fill="#000"/>
<circle cx="101.30" cy="521.80" r="1.05" fill="#000"/>
<path d="M119.4 553.5 V542.25 H136.2 V553.5" fill="none" stroke="#ff2222" stroke-width="1.25"/>
<line x1="127.5" y1="540.5" x2="127.5" y2="544" stroke="#ff8f8f" stroke-width="0.8"/>
<line x1="123.2" y1="540.5" x2="131.8" y2="540.5" stroke="#ff8f8f" stroke-width="0.8"/>
<line x1="123.2" y1="544" x2="131.8" y2="544" stroke="#ff8f8f" stroke-width="0.8"/>
<line x1="127.5" y1="553.5" x2="127.5" y2="556.9" stroke="#222" stroke-width="1.0"/>
<circle cx="122.50" cy="541.00" r="1.05" fill="#000"/>
<circle cx="125.80" cy="541.50" r="1.05" fill="#000"/>
<circle cx="129.50" cy="541.00" r="1.05" fill="#000"/>
<circle cx="133.00" cy="541.50" r="1.05" fill="#000"/>
<circle cx="127.50" cy="544.80" r="1.05" fill="#000"/>
<text x="102" y="566.8" font-size="9.1" text-anchor="middle" font-weight="normal" fill="#111" stroke="#111" stroke-width="0.3">MI</text>
<text x="130.5" y="566.8" font-size="9.1" text-anchor="middle" font-weight="normal" fill="#111" stroke="#111" stroke-width="0.3">MI+La</text>
<text x="98.7" y="448" font-size="9.2" text-anchor="start" font-weight="normal" fill="#111" stroke="#111" stroke-width="0.3">P=0.0079</text>
<line x1="104.5" y1="451.8" x2="132.5" y2="451.8" stroke="#111" stroke-width="1.5"/>
<text x="156.3" y="498.8" font-size="9.1" text-anchor="middle" font-weight="bold" fill="#111" stroke="#111" stroke-width="0.12" transform="rotate(-90 156.3 498.8)" dy="3.28">neutrophils/mg</text>
<text x="172" y="503" font-size="9.1" text-anchor="middle" font-weight="bold" fill="#111" stroke="#111" stroke-width="0.12" transform="rotate(-90 172 503)" dy="3.28">(heart tissue)</text>
<line x1="199.25" y1="461.25" x2="199.25" y2="554.1" stroke="#222" stroke-width="1.1"/>
<line x1="196.3" y1="553.5" x2="260.8" y2="553.5" stroke="#222" stroke-width="1.2"/>
<line x1="195.65" y1="461.75" x2="199.25" y2="461.75" stroke="#222" stroke-width="1.0"/>
<text x="194.8" y="464.27" font-size="7.0" text-anchor="end" font-weight="normal" fill="#111" stroke="#111" stroke-width="0.3">800</text>
<line x1="195.65" y1="484.75" x2="199.25" y2="484.75" stroke="#222" stroke-width="1.0"/>
<text x="194.8" y="487.27" font-size="7.0" text-anchor="end" font-weight="normal" fill="#111" stroke="#111" stroke-width="0.3">600</text>
<line x1="195.65" y1="507.75" x2="199.25" y2="507.75" stroke="#222" stroke-width="1.0"/>
<text x="194.8" y="510.27" font-size="7.0" text-anchor="end" font-weight="normal" fill="#111" stroke="#111" stroke-width="0.3">400</text>
<line x1="195.65" y1="530.5" x2="199.25" y2="530.5" stroke="#222" stroke-width="1.0"/>
<text x="194.8" y="533.02" font-size="7.0" text-anchor="end" font-weight="normal" fill="#111" stroke="#111" stroke-width="0.3">200</text>
<line x1="195.65" y1="553.5" x2="199.25" y2="553.5" stroke="#222" stroke-width="1.0"/>
<text x="194.8" y="556.02" font-size="7.0" text-anchor="end" font-weight="normal" fill="#111" stroke="#111" stroke-width="0.3">0</text>
<path d="M208.3 553.5 V484.25 H225.7 V553.5" fill="none" stroke="#2a2aff" stroke-width="1.25"/>
<line x1="217" y1="470.25" x2="217" y2="498" stroke="#8f8fff" stroke-width="0.8"/>
<line x1="212.7" y1="470.25" x2="221.3" y2="470.25" stroke="#8f8fff" stroke-width="0.8"/>
<line x1="212.7" y1="498" x2="221.3" y2="498" stroke="#8f8fff" stroke-width="0.8"/>
<line x1="217" y1="553.5" x2="217" y2="556.9" stroke="#222" stroke-width="1.0"/>
<circle cx="217.00" cy="470.30" r="1.05" fill="#000"/>
<circle cx="217.00" cy="476.00" r="1.05" fill="#000"/>
<circle cx="217.00" cy="478.20" r="1.05" fill="#000"/>
<circle cx="217.00" cy="495.50" r="1.05" fill="#000"/>
<circle cx="217.00" cy="502.80" r="1.05" fill="#000"/>
<path d="M234.6 553.5 V524.75 H252 V553.5" fill="none" stroke="#ff2222" stroke-width="1.25"/>
<line x1="243.25" y1="520.25" x2="243.25" y2="529" stroke="#ff8f8f" stroke-width="0.8"/>
<line x1="238.95" y1="520.25" x2="247.55" y2="520.25" stroke="#ff8f8f" stroke-width="0.8"/>
<line x1="238.95" y1="529" x2="247.55" y2="529" stroke="#ff8f8f" stroke-width="0.8"/>
<line x1="243.25" y1="553.5" x2="243.25" y2="556.9" stroke="#222" stroke-width="1.0"/>
<circle cx="243.25" cy="517.80" r="1.05" fill="#000"/>
<circle cx="241.30" cy="524.80" r="1.05" fill="#000"/>
<circle cx="245.30" cy="523.50" r="1.05" fill="#000"/>
<circle cx="243.25" cy="526.00" r="1.05" fill="#000"/>
<circle cx="243.25" cy="528.50" r="1.05" fill="#000"/>
<text x="217" y="566" font-size="9.1" text-anchor="middle" font-weight="normal" fill="#111" stroke="#111" stroke-width="0.3">MI</text>
<text x="246.8" y="566" font-size="9.1" text-anchor="middle" font-weight="normal" fill="#111" stroke="#111" stroke-width="0.3">MI+La</text>
<text x="210.5" y="448" font-size="9.2" text-anchor="start" font-weight="normal" fill="#111" stroke="#111" stroke-width="0.3">P=0.0079</text>
<line x1="216.25" y1="452" x2="243.75" y2="452" stroke="#111" stroke-width="1.5"/>
<text x="280.5" y="466.5" font-size="9" text-anchor="middle" font-weight="bold" fill="#111" stroke="#111" stroke-width="0.12" transform="rotate(-90 280.5 466.5)" dy="3.24">MI</text>
<text x="280.5" y="548.5" font-size="9" text-anchor="middle" font-weight="bold" fill="#111" stroke="#111" stroke-width="0.12" transform="rotate(-90 280.5 548.5)" dy="3.24">MI+La</text>
<rect x="290" y="426.5" width="77.5" height="77" fill="#fff" stroke="none" stroke-width="1"/>
<g filter="url(#rough)"><g filter="url(#tissue)" opacity=".93"><path d="M328.500 433.500 C345 432.500 361.500 446 361 464 C360.500 482 348 499.500 330 499.500 C312 499.500 297 484 296.200 463 C295.500 446 311 434.500 328.500 433.500 Z" fill="#d5509c"/><path d="M304 484 C314 500 346 501 355 484 C346 496 316 496 304 484 Z" fill="#8f7cc4" opacity="0.8" filter="url(#g1_5)"/></g><path d="M320 439.500 C313 443 306 450 305 458 C304.500 466 305.500 473 308 478 C309.500 479 310 477 309.500 474 C308 467 308 459 310 453 C312 447 317 443 321 441.500 C322 440.500 321.500 439.200 320 439.500 Z" fill="#fff"/><path d="M348.2 473.8 Q348.2 473.8 344.3 473.9 Q340.4 473.9 341.3 480.1 Q342.1 486.3 339.1 481.9 Q336.1 477.5 334.1 481.0 Q332.0 484.4 331.2 480.7 Q330.4 477.0 327.0 477.0 Q323.7 477.1 327.2 472.9 Q330.7 468.7 326.9 465.5 Q323.2 462.4 326.1 461.3 Q329.0 460.2 329.2 455.5 Q329.3 450.9 332.0 453.0 Q334.7 455.1 336.9 452.9 Q339.2 450.6 339.1 456.2 Q339.0 461.8 342.6 460.8 Q346.2 459.7 343.5 463.5 Q340.8 467.3 344.5 470.5 Z" fill="#fff"/></g>
<rect x="290" y="426.5" width="77.5" height="77" fill="none" stroke="#111" stroke-width="1.2"/>
<rect x="290" y="506.5" width="77.5" height="77" fill="#fff" stroke="none" stroke-width="1"/>
<g filter="url(#rough)"><g filter="url(#tissue)" opacity=".93"><path d="M328 512 C345 511 361 525 360.500 544 C360 562 346 578 328.500 578 C311 578 297 563 295.500 544 C294.500 526 310 513 328 512 Z" fill="#d5509c"/></g><path d="M301 541 C300 531 305 523 313 519 C322 515.500 333 517.500 341 523 C343 525 341.500 527 339 525.500 C332 521.500 322 520.500 315 523.500 C308 527 304.500 533 305 541 C305.500 548 308 554 311 559 C309 560 303 551 301 541 Z" fill="#fff"/><path d="M346.8 553.0 Q346.8 553.0 343.1 554.3 Q339.3 555.6 340.7 560.0 Q342.2 564.4 338.7 563.3 Q335.2 562.3 332.8 565.2 Q330.4 568.2 328.7 564.7 Q327.0 561.2 323.5 561.4 Q320.1 561.5 321.0 558.1 Q322.0 554.6 319.2 552.3 Q316.5 549.9 320.3 548.5 Q324.2 547.2 323.7 543.7 Q323.2 540.3 326.3 541.5 Q329.4 542.7 331.5 539.4 Q333.5 536.1 334.2 541.0 Q334.9 546.0 339.6 543.6 Q344.2 541.2 342.6 544.9 Q340.9 548.7 343.9 550.9 Z" fill="#fff"/></g>
<rect x="290" y="506.5" width="77.5" height="77" fill="none" stroke="#111" stroke-width="1.2"/>
<text x="359" y="577.8" font-size="5.4" text-anchor="middle" font-weight="bold" fill="#111" stroke="#111" stroke-width="0.12">1mm</text>
<line x1="353.8" y1="580.3" x2="365" y2="580.3" stroke="#111" stroke-width="1.2"/>
<text x="429.3" y="424.8" font-size="9.3" text-anchor="middle" font-weight="normal" fill="#e0242c" stroke="#e0242c" stroke-width="0.3">CD31</text>
<text x="505.8" y="424.8" font-size="9.3" text-anchor="middle" font-weight="normal" fill="#2c47d9" stroke="#2c47d9" stroke-width="0.3">DAPI</text>
<text x="583" y="424.8" font-size="9.3" text-anchor="middle" font-weight="normal" fill="#111" stroke="#111" stroke-width="0.3">Merged</text>
<text x="384.5" y="469" font-size="9" text-anchor="middle" font-weight="normal" fill="#111" stroke="#111" stroke-width="0.3" transform="rotate(-90 384.5 469)" dy="3.24">MI</text>
<text x="384.5" y="546.8" font-size="9" text-anchor="middle" font-weight="normal" fill="#111" stroke="#111" stroke-width="0.3" transform="rotate(-90 384.5 546.8)" dy="3.24">MI+La</text>
<rect x="392.6" y="432.8" width="228.4" height="151.4" fill="#d8d8d8" stroke="none" stroke-width="1"/>
<svg x="393" y="433" width="75" height="74.6" viewBox="0 0 75 74.6" overflow="hidden">
<rect x="0" y="0" width="75" height="74.6" fill="#0b0000"/>
<g filter="url(#sp18)"><rect x="-4" y="-4" width="83" height="82.6" fill="none"/>
<mask id="mk6" maskUnits="userSpaceOnUse" x="-4" y="-4" width="83" height="82.6"><rect x="-4" y="-4" width="83" height="82.6" fill="#fff"/><g filter="url(#g1)"><ellipse cx="62.5" cy="21" rx="4.5" ry="9" fill="#000" opacity="1" transform="rotate(10 62.5 21)"/><ellipse cx="7" cy="49" rx="3.5" ry="4.5" fill="#000" opacity="1"/></g></mask>
<g mask="url(#mk6)">
<g filter="url(#g3)">
<rect x="0" y="0" width="75" height="40" fill="#fff" opacity="0.3"/>
<rect x="0" y="36" width="75" height="40" fill="#fff" opacity="0.13"/>
<ellipse cx="38" cy="34" rx="6" ry="3" fill="#fff" opacity="0.5"/>
<ellipse cx="23" cy="44" rx="5" ry="3" fill="#fff" opacity="0.5"/>
<ellipse cx="48" cy="25" rx="2.5" ry="6" fill="#fff" opacity="0.5"/>
<ellipse cx="14" cy="12" rx="12" ry="8" fill="#fff" opacity="0.2"/>
</g></g></g>
<g filter="url(#g0_5)"><ellipse cx="7" cy="49" rx="4.4" ry="5.4" fill="none" stroke="#ff1c1c" stroke-width="1.0" opacity=".85"/><path d="M36 35 l4 -2 M21 45 l4 -2 M48 22 l1 6" stroke="#ff1c1c" stroke-width="1.3" opacity=".8"/></g>
</svg>
<svg x="469.3" y="433" width="74.4" height="74.6" viewBox="0 0 74.4 74.6" overflow="hidden">
<rect x="0" y="0" width="74.4" height="74.6" fill="#00000e"/>
<g filter="url(#sp19)" transform="rotate(24 37.5 37.3)"><rect x="-40" y="-40" width="155" height="154.6" fill="none"/>
<mask id="mk7" maskUnits="userSpaceOnUse" x="-40" y="-40" width="155" height="154.6"><rect x="-40" y="-40" width="155" height="154.6" fill="#fff"/><g filter="url(#g1)"><ellipse cx="62.5" cy="21" rx="4.5" ry="9" fill="#000" opacity="1" transform="rotate(10 62.5 21)"/><ellipse cx="9" cy="48" rx="4" ry="5" fill="#000" opacity="0.8"/></g></mask>
<g transform="rotate(-24 37.5 37.3)" mask="url(#mk7)">
<g>
<rect x="-4" y="-4" width="83" height="82.6" fill="#fff" opacity="0.6"/>
</g></g></g>
</svg>
<svg x="545.8" y="433" width="75" height="75.1" viewBox="0 0 75 75.1" overflow="hidden">
<rect x="0" y="0" width="75" height="75.1" fill="#05001a"/>
<g filter="url(#sp19)" transform="rotate(24 37.5 37.3)"><rect x="-40" y="-40" width="155" height="154.6" fill="none"/>
<mask id="mk8" maskUnits="userSpaceOnUse" x="-40" y="-40" width="155" height="154.6"><rect x="-40" y="-40" width="155" height="154.6" fill="#fff"/><g filter="url(#g1)"><ellipse cx="62.5" cy="21" rx="4.5" ry="9" fill="#000" opacity="1" transform="rotate(10 62.5 21)"/><ellipse cx="9" cy="48" rx="4" ry="5" fill="#000" opacity="0.8"/></g></mask>
<g transform="rotate(-24 37.5 37.3)" mask="url(#mk8)">
<g>
<rect x="-4" y="-4" width="83" height="82.6" fill="#fff" opacity="0.62"/>
</g></g></g>
<g filter="url(#sp18)" style="mix-blend-mode:screen"><rect x="-4" y="-4" width="83" height="82.6" fill="none"/>
<mask id="mk9" maskUnits="userSpaceOnUse" x="-4" y="-4" width="83" height="82.6"><rect x="-4" y="-4" width="83" height="82.6" fill="#fff"/><g filter="url(#g1)"><ellipse cx="62.5" cy="21" rx="4.5" ry="9" fill="#000" opacity="1" transform="rotate(10 62.5 21)"/><ellipse cx="7" cy="49" rx="3.5" ry="4.5" fill="#000" opacity="1"/></g></mask>
<g mask="url(#mk9)">
<g filter="url(#g3)">
<rect x="0" y="0" width="75" height="40" fill="#fff" opacity="0.3"/>
<rect x="0" y="36" width="75" height="40" fill="#fff" opacity="0.13"/>
<ellipse cx="38" cy="34" rx="6" ry="3" fill="#fff" opacity="0.5"/>
<ellipse cx="23" cy="44" rx="5" ry="3" fill="#fff" opacity="0.5"/>
<ellipse cx="48" cy="25" rx="2.5" ry="6" fill="#fff" opacity="0.5"/>
<ellipse cx="14" cy="12" rx="12" ry="8" fill="#fff" opacity="0.2"/>
</g></g></g>
<g style="mix-blend-mode:screen" filter="url(#g0_5)"><ellipse cx="7" cy="49" rx="4.4" ry="5.4" fill="none" stroke="#ff1c1c" stroke-width="1.0" opacity=".85"/><path d="M36 35 l4 -2 M21 45 l4 -2 M48 22 l1 6" stroke="#ff1c1c" stroke-width="1.3" opacity=".8"/></g>
</svg>
<svg x="393" y="508.6" width="75" height="74.6" viewBox="0 0 75 74.6" overflow="hidden">
<rect x="0" y="0" width="75" height="74.6" fill="#0b0000"/>
<g filter="url(#sp20)"><rect x="-4" y="-4" width="83" height="82.6" fill="none"/>
<mask id="mk10" maskUnits="userSpaceOnUse" x="-4" y="-4" width="83" height="82.6"><rect x="-4" y="-4" width="83" height="82.6" fill="#fff"/><g filter="url(#g1)"><ellipse cx="45" cy="10" rx="6.5" ry="7.5" fill="#000" opacity="1"/><ellipse cx="20" cy="10" rx="6" ry="4" fill="#000" opacity="0.6"/><ellipse cx="60" cy="40" rx="5" ry="8" fill="#000" opacity="0.5"/></g></mask>
<g mask="url(#mk10)">
<g filter="url(#g3)">
<rect x="0" y="0" width="75" height="74.6" fill="#fff" opacity="0.38"/>
<ellipse cx="13" cy="48" rx="9" ry="16" fill="#fff" opacity="0.35" transform="rotate(35 13 48)"/>
<ellipse cx="50" cy="33" rx="4" ry="5" fill="#fff" opacity="0.4"/>
<ellipse cx="28" cy="14" rx="14" ry="10" fill="#fff" opacity="0.25"/>
<ellipse cx="60" cy="14" rx="10" ry="10" fill="#fff" opacity="0.2"/>
</g></g></g>
<g filter="url(#g0_5)"><ellipse cx="45" cy="10" rx="7.2" ry="8.2" fill="none" stroke="#ff1c1c" stroke-width="1.1"/><path d="M4 62 C8 52 14 48 21 38 M10 46 C14 44 16 40 20 40 M50 30 l2 6" fill="none" stroke="#ff1c1c" stroke-width="1.5" opacity=".9"/></g>
</svg>
<svg x="469.3" y="508.6" width="74.4" height="74.6" viewBox="0 0 74.4 74.6" overflow="hidden">
<rect x="0" y="0" width="74.4" height="74.6" fill="#00000e"/>
<g filter="url(#sp21)" transform="rotate(24 37.5 37.3)"><rect x="-40" y="-40" width="155" height="154.6" fill="none"/>
<mask id="mk11" maskUnits="userSpaceOnUse" x="-40" y="-40" width="155" height="154.6"><rect x="-40" y="-40" width="155" height="154.6" fill="#fff"/><g filter="url(#g1)"><ellipse cx="45" cy="9" rx="7" ry="8" fill="#000" opacity="1"/><ellipse cx="20" cy="10" rx="8" ry="5" fill="#000" opacity="0.5"/></g></mask>
<g transform="rotate(-24 37.5 37.3)" mask="url(#mk11)">
<g>
<rect x="-4" y="-4" width="83" height="82.6" fill="#fff" opacity="0.6"/>
</g></g></g>
</svg>
<svg x="545.8" y="508.8" width="75" height="75.1" viewBox="0 0 75 75.1" overflow="hidden">
<rect x="0" y="0" width="75" height="75.1" fill="#05001a"/>
<g filter="url(#sp21)" transform="rotate(24 37.5 37.3)"><rect x="-40" y="-40" width="155" height="154.6" fill="none"/>
<mask id="mk12" maskUnits="userSpaceOnUse" x="-40" y="-40" width="155" height="154.6"><rect x="-40" y="-40" width="155" height="154.6" fill="#fff"/><g filter="url(#g1)"><ellipse cx="45" cy="9" rx="7" ry="8" fill="#000" opacity="1"/><ellipse cx="20" cy="10" rx="8" ry="5" fill="#000" opacity="0.5"/></g></mask>
<g transform="rotate(-24 37.5 37.3)" mask="url(#mk12)">
<g>
<rect x="-4" y="-4" width="83" height="82.6" fill="#fff" opacity="0.62"/>
</g></g></g>
<g filter="url(#sp20)" style="mix-blend-mode:screen"><rect x="-4" y="-4" width="83" height="82.6" fill="none"/>
<mask id="mk13" maskUnits="userSpaceOnUse" x="-4" y="-4" width="83" height="82.6"><rect x="-4" y="-4" width="83" height="82.6" fill="#fff"/><g filter="url(#g1)"><ellipse cx="45" cy="10" rx="6.5" ry="7.5" fill="#000" opacity="1"/><ellipse cx="20" cy="10" rx="6" ry="4" fill="#000" opacity="0.6"/><ellipse cx="60" cy="40" rx="5" ry="8" fill="#000" opacity="0.5"/></g></mask>
<g mask="url(#mk13)">
<g filter="url(#g3)">
<rect x="0" y="0" width="75" height="74.6" fill="#fff" opacity="0.38"/>
<ellipse cx="13" cy="48" rx="9" ry="16" fill="#fff" opacity="0.35" transform="rotate(35 13 48)"/>
<ellipse cx="50" cy="33" rx="4" ry="5" fill="#fff" opacity="0.4"/>
<ellipse cx="28" cy="14" rx="14" ry="10" fill="#fff" opacity="0.25"/>
<ellipse cx="60" cy="14" rx="10" ry="10" fill="#fff" opacity="0.2"/>
</g></g></g>
<g style="mix-blend-mode:screen" filter="url(#g0_5)"><ellipse cx="45" cy="10" rx="7.2" ry="8.2" fill="none" stroke="#ff1c1c" stroke-width="1.1"/><path d="M4 62 C8 52 14 48 21 38 M10 46 C14 44 16 40 20 40 M50 30 l2 6" fill="none" stroke="#ff1c1c" stroke-width="1.5" opacity=".9"/></g>
</svg>
<text x="401.7" y="577.2" font-size="4.4" text-anchor="middle" font-weight="bold" fill="#eee" stroke="#eee" stroke-width="0.12">40μm</text>
<line x1="394.6" y1="579.8" x2="408.8" y2="579.8" stroke="#fff" stroke-width="1.5"/>
<text x="693" y="425.2" font-size="9.3" text-anchor="middle" font-weight="bold" fill="#3fd42c" stroke="#3fd42c" stroke-width="0.12">α-SMA</text>
<text x="767" y="425.2" font-size="9.3" text-anchor="middle" font-weight="normal" fill="#2c47d9" stroke="#2c47d9" stroke-width="0.3">DAPI</text>
<text x="842.5" y="425.2" font-size="9.3" text-anchor="middle" font-weight="normal" fill="#111" stroke="#111" stroke-width="0.3">Merged</text>
<text x="646.3" y="469" font-size="9" text-anchor="middle" font-weight="normal" fill="#111" stroke="#111" stroke-width="0.3" transform="rotate(-90 646.3 469)" dy="3.24">MI</text>
<text x="646.3" y="546.8" font-size="9" text-anchor="middle" font-weight="normal" fill="#111" stroke="#111" stroke-width="0.3" transform="rotate(-90 646.3 546.8)" dy="3.24">MI+La</text>
<rect x="653.6" y="433.3" width="227.8" height="151" fill="#d8d8d8" stroke="none" stroke-width="1"/>
<svg x="653.8" y="433.5" width="75" height="74.5" viewBox="0 0 75 74.5" overflow="hidden">
<rect x="0" y="0" width="75" height="74.5" fill="#031405"/>
<g filter="url(#sp22)" transform="rotate(32 37.5 37.25)"><rect x="-40" y="-40" width="155" height="154.5" fill="none"/>
<mask id="mk14" maskUnits="userSpaceOnUse" x="-40" y="-40" width="155" height="154.5"><rect x="-40" y="-40" width="155" height="154.5" fill="#fff"/><g filter="url(#g1)"><polygon points="58,0 75,0 75,8 64,4" fill="#000" opacity="0.9"/><polygon points="56,8 58,8 66,28 64,28" fill="#000" opacity="0.9"/><polygon points="24,28 26,28 40,56 38,56" fill="#000" opacity="0.8"/><polygon points="40,40 42,40 54,62 52,62" fill="#000" opacity="0.7"/><rect x="0" y="0" width="22" height="20" fill="#000" opacity="0.35"/></g></mask>
<g transform="rotate(-32 37.5 37.25)" mask="url(#mk14)">
<g>
<rect x="-4" y="-4" width="83" height="82.5" fill="#fff" opacity="0.78"/>
</g></g></g>
<g filter="url(#g0_5)" opacity=".95">
<ellipse cx="25" cy="5" rx="1.60" ry="0.96" fill="#35e83e"/>
<ellipse cx="38" cy="30" rx="0.96" ry="0.96" fill="#35e83e"/>
<ellipse cx="51" cy="32" rx="0.80" ry="1.76" fill="#35e83e"/>
<ellipse cx="55" cy="61" rx="1.76" ry="1.28" fill="#35e83e"/>
<ellipse cx="3" cy="52" rx="0.72" ry="0.72" fill="#35e83e"/>
<ellipse cx="18" cy="60" rx="0.64" ry="0.64" fill="#35e83e"/>
<ellipse cx="66" cy="27" rx="0.80" ry="0.64" fill="#35e83e"/>
<ellipse cx="6" cy="21" rx="0.64" ry="0.64" fill="#35e83e"/>
<ellipse cx="70" cy="8" rx="0.80" ry="1.28" fill="#35e83e"/>
</g>
</svg>
<svg x="730" y="433.5" width="74.5" height="74.5" viewBox="0 0 74.5 74.5" overflow="hidden">
<rect x="0" y="0" width="74.5" height="74.5" fill="#01010f"/>
<g filter="url(#sp23)" transform="rotate(-27 37.5 37.25)"><rect x="-40" y="-40" width="155" height="154.5" fill="none"/>
<g transform="rotate(27 37.5 37.25)">
<g>
<rect x="-4" y="-4" width="83" height="82.5" fill="#fff" opacity="0.46"/>
</g></g></g>
</svg>
<svg x="805.8" y="433.5" width="75.5" height="74.5" viewBox="0 0 75.5 74.5" overflow="hidden">
<rect x="0" y="0" width="75.5" height="74.5" fill="#031418"/>
<g filter="url(#sp22)" transform="rotate(32 37.5 37.25)"><rect x="-40" y="-40" width="155" height="154.5" fill="none"/>
<mask id="mk15" maskUnits="userSpaceOnUse" x="-40" y="-40" width="155" height="154.5"><rect x="-40" y="-40" width="155" height="154.5" fill="#fff"/><g filter="url(#g1)"><polygon points="58,0 75,0 75,8 64,4" fill="#000" opacity="0.9"/><polygon points="56,8 58,8 66,28 64,28" fill="#000" opacity="0.9"/><polygon points="24,28 26,28 40,56 38,56" fill="#000" opacity="0.8"/><polygon points="40,40 42,40 54,62 52,62" fill="#000" opacity="0.7"/><rect x="0" y="0" width="22" height="20" fill="#000" opacity="0.35"/></g></mask>
<g transform="rotate(-32 37.5 37.25)" mask="url(#mk15)">
<g>
<rect x="-4" y="-4" width="83" height="82.5" fill="#fff" opacity="0.741"/>
</g></g></g>
<g filter="url(#g0_5)" opacity=".95">
<ellipse cx="25" cy="5" rx="1.60" ry="0.96" fill="#35e83e"/>
<ellipse cx="38" cy="30" rx="0.96" ry="0.96" fill="#35e83e"/>
<ellipse cx="51" cy="32" rx="0.80" ry="1.76" fill="#35e83e"/>
<ellipse cx="55" cy="61" rx="1.76" ry="1.28" fill="#35e83e"/>
<ellipse cx="3" cy="52" rx="0.72" ry="0.72" fill="#35e83e"/>
<ellipse cx="18" cy="60" rx="0.64" ry="0.64" fill="#35e83e"/>
<ellipse cx="66" cy="27" rx="0.80" ry="0.64" fill="#35e83e"/>
<ellipse cx="6" cy="21" rx="0.64" ry="0.64" fill="#35e83e"/>
<ellipse cx="70" cy="8" rx="0.80" ry="1.28" fill="#35e83e"/>
</g>
<g filter="url(#sp23)" style="mix-blend-mode:screen" transform="rotate(-27 37.5 37.25)"><rect x="-40" y="-40" width="155" height="154.5" fill="none"/>
<g transform="rotate(27 37.5 37.25)">
<g>
<rect x="-4" y="-4" width="83" height="82.5" fill="#fff" opacity="0.62"/>
</g></g></g>
</svg>
<svg x="653.8" y="509.6" width="75" height="74.5" viewBox="0 0 75 74.5" overflow="hidden">
<rect x="0" y="0" width="75" height="74.5" fill="#031405"/>
<g filter="url(#sp24)" transform="rotate(32 37.5 37.25)"><rect x="-40" y="-40" width="155" height="154.5" fill="none"/>
<mask id="mk16" maskUnits="userSpaceOnUse" x="-40" y="-40" width="155" height="154.5"><rect x="-40" y="-40" width="155" height="154.5" fill="#fff"/><g filter="url(#g1)"><polygon points="0,52 20,40 22,42 0,56" fill="#000" opacity="0.6"/><rect x="40" y="52" width="35" height="22" fill="#000" opacity="0.35"/><rect x="48" y="0" width="27" height="24" fill="#000" opacity="0.3"/></g></mask>
<g transform="rotate(-32 37.5 37.25)" mask="url(#mk16)">
<g>
<rect x="-4" y="-4" width="83" height="82.5" fill="#fff" opacity="0.78"/>
</g></g></g>
<g filter="url(#g0_5)" opacity=".95">
<ellipse cx="22" cy="12" rx="1.12" ry="1.12" fill="#35e83e"/>
<ellipse cx="28" cy="9" rx="0.80" ry="1.28" fill="#35e83e"/>
<ellipse cx="34" cy="13" rx="0.96" ry="0.80" fill="#35e83e"/>
<ellipse cx="30" cy="18" rx="1.12" ry="1.60" fill="#35e83e"/>
<ellipse cx="36" cy="24" rx="1.60" ry="1.12" fill="#35e83e"/>
<ellipse cx="41" cy="18" rx="0.80" ry="0.80" fill="#35e83e"/>
<ellipse cx="56" cy="10" rx="0.80" ry="1.60" fill="#35e83e"/>
<ellipse cx="17" cy="22" rx="0.80" ry="0.80" fill="#35e83e"/>
<ellipse cx="51" cy="23" rx="0.72" ry="0.72" fill="#35e83e"/>
<ellipse cx="60" cy="27" rx="0.64" ry="0.64" fill="#35e83e"/>
<ellipse cx="68" cy="24" rx="0.64" ry="1.28" fill="#35e83e"/>
<ellipse cx="19" cy="38" rx="1.28" ry="0.64" fill="#35e83e"/>
<ellipse cx="17" cy="41" rx="2.08" ry="0.64" fill="#35e83e"/>
<ellipse cx="35" cy="45" rx="2.56" ry="0.80" fill="#35e83e"/>
<ellipse cx="22" cy="52" rx="0.64" ry="1.92" fill="#35e83e"/>
<ellipse cx="21" cy="60" rx="0.64" ry="1.28" fill="#35e83e"/>
<ellipse cx="17" cy="66" rx="2.40" ry="2.40" fill="#35e83e"/>
<ellipse cx="55" cy="65" rx="0.80" ry="2.72" fill="#35e83e"/>
<ellipse cx="67" cy="44" rx="0.64" ry="0.64" fill="#35e83e"/>
</g>
</svg>
<svg x="730" y="509.6" width="74.5" height="74.5" viewBox="0 0 74.5 74.5" overflow="hidden">
<rect x="0" y="0" width="74.5" height="74.5" fill="#01010f"/>
<g filter="url(#sp25)" transform="rotate(-27 37.5 37.25)"><rect x="-40" y="-40" width="155" height="154.5" fill="none"/>
<g transform="rotate(27 37.5 37.25)">
<g>
<rect x="-4" y="-4" width="83" height="82.5" fill="#fff" opacity="0.56"/>
</g></g></g>
</svg>
<svg x="805.8" y="509.6" width="75.5" height="74.5" viewBox="0 0 75.5 74.5" overflow="hidden">
<rect x="0" y="0" width="75.5" height="74.5" fill="#031418"/>
<g filter="url(#sp24)" transform="rotate(32 37.5 37.25)"><rect x="-40" y="-40" width="155" height="154.5" fill="none"/>
<mask id="mk17" maskUnits="userSpaceOnUse" x="-40" y="-40" width="155" height="154.5"><rect x="-40" y="-40" width="155" height="154.5" fill="#fff"/><g filter="url(#g1)"><polygon points="0,52 20,40 22,42 0,56" fill="#000" opacity="0.6"/><rect x="40" y="52" width="35" height="22" fill="#000" opacity="0.35"/><rect x="48" y="0" width="27" height="24" fill="#000" opacity="0.3"/></g></mask>
<g transform="rotate(-32 37.5 37.25)" mask="url(#mk17)">
<g>
<rect x="-4" y="-4" width="83" height="82.5" fill="#fff" opacity="0.741"/>
</g></g></g>
<g filter="url(#g0_5)" opacity=".95">
<ellipse cx="22" cy="12" rx="1.12" ry="1.12" fill="#35e83e"/>
<ellipse cx="28" cy="9" rx="0.80" ry="1.28" fill="#35e83e"/>
<ellipse cx="34" cy="13" rx="0.96" ry="0.80" fill="#35e83e"/>
<ellipse cx="30" cy="18" rx="1.12" ry="1.60" fill="#35e83e"/>
<ellipse cx="36" cy="24" rx="1.60" ry="1.12" fill="#35e83e"/>
<ellipse cx="41" cy="18" rx="0.80" ry="0.80" fill="#35e83e"/>
<ellipse cx="56" cy="10" rx="0.80" ry="1.60" fill="#35e83e"/>
<ellipse cx="17" cy="22" rx="0.80" ry="0.80" fill="#35e83e"/>
<ellipse cx="51" cy="23" rx="0.72" ry="0.72" fill="#35e83e"/>
<ellipse cx="60" cy="27" rx="0.64" ry="0.64" fill="#35e83e"/>
<ellipse cx="68" cy="24" rx="0.64" ry="1.28" fill="#35e83e"/>
<ellipse cx="19" cy="38" rx="1.28" ry="0.64" fill="#35e83e"/>
<ellipse cx="17" cy="41" rx="2.08" ry="0.64" fill="#35e83e"/>
<ellipse cx="35" cy="45" rx="2.56" ry="0.80" fill="#35e83e"/>
<ellipse cx="22" cy="52" rx="0.64" ry="1.92" fill="#35e83e"/>
<ellipse cx="21" cy="60" rx="0.64" ry="1.28" fill="#35e83e"/>
<ellipse cx="17" cy="66" rx="2.40" ry="2.40" fill="#35e83e"/>
<ellipse cx="55" cy="65" rx="0.80" ry="2.72" fill="#35e83e"/>
<ellipse cx="67" cy="44" rx="0.64" ry="0.64" fill="#35e83e"/>
</g>
<g filter="url(#sp25)" style="mix-blend-mode:screen" transform="rotate(-27 37.5 37.25)"><rect x="-40" y="-40" width="155" height="154.5" fill="none"/>
<g transform="rotate(27 37.5 37.25)">
<g>
<rect x="-4" y="-4" width="83" height="82.5" fill="#fff" opacity="0.62"/>
</g></g></g>
</svg>
<text x="662" y="578.6" font-size="4.4" text-anchor="middle" font-weight="bold" fill="#eee" stroke="#eee" stroke-width="0.12">50μm</text>
<line x1="656.3" y1="581" x2="664.6" y2="581" stroke="#fff" stroke-width="1.4"/>
<text x="45" y="648.8" font-size="9" text-anchor="middle" font-weight="bold" fill="#111" stroke="#111" stroke-width="0.12" transform="rotate(-90 45 648.8)" dy="3.24">MI</text>
<text x="45" y="736.3" font-size="9" text-anchor="middle" font-weight="bold" fill="#111" stroke="#111" stroke-width="0.12" transform="rotate(-90 45 736.3)" dy="3.24">MI+La</text>
<rect x="60" y="609.3" width="82.5" height="81.7" fill="#fff" stroke="none" stroke-width="1"/>
<g filter="url(#rough)"><g filter="url(#tissue)"><path d="M87 615 C98 613 110 617 117 624 C128 633 137 648 135.5 662 C134 672 124 680 114 684 C103 686 90 680 80 671 C70 661 64 648 66 636 C68 624 77 617 87 615 Z" fill="#df5580"/></g><path d="M76 650 C73 640 75 630 82 624 C90 619 100 619 108 622 C101 622 92 623 86 628 C79 634 79 642 80 652 C80 656 77 655 76 650 Z" fill="#fff"/><path d="M95 640 C100 634 108 637 114 633 C122 634 128 641 131 650 C134 658 131 666 124 668 C116 672 108 673 102 672 C99 668 95 670 92 666 C91 661 96 658 94 652 C92 647 93 643 95 640 Z" fill="#fff"/><path d="M118 625 C128 634 136.500 648 135.500 661 C134.500 667 130 670 125 670.500 C129 666 133 660 133 653 C132 643 125 633 118 625 Z" fill="#78a6dc" opacity=".9"/></g>
<rect x="60" y="609.3" width="82.5" height="81.7" fill="none" stroke="#111" stroke-width="1.3"/>
<rect x="60" y="695.5" width="82.5" height="81.3" fill="#fff" stroke="none" stroke-width="1"/>
<g filter="url(#rough)"><g filter="url(#tissue)"><path d="M94 699 C104 698 114 704 120 712 C128 720 135 732 134 745 C133 758 122 768 108 771.5 C96 773 82 765 73 754 C65 744 62 731 66 720 C71 708 82 700 94 699 Z" fill="#d41f68"/></g><path d="M70 728 C70 718 76 709 86 705 C95 702 104 703 110 708 C113 711 112 714 108 712 C101 709 92 709 85 713 C78 718 75 726 76 736 C75 739 71 735 70 728 Z" fill="#fff"/><path d="M92 736 C98 732 103 735 109 732 C115 733 119 737 122 742 C120 748 114 748 110 752 C104 754 100 752 97 755 C93 752 95 747 90 744 C88 741 89 738 92 736 Z" fill="#fff"/><path d="M121 713 C128 721 134.500 732 134 744 C131.500 738 127 728 120 720 Z" fill="#6a4fb8" opacity=".8"/></g>
<rect x="60" y="695.5" width="82.5" height="81.3" fill="none" stroke="#111" stroke-width="1.3"/>
<text x="132" y="770.8" font-size="5.6" text-anchor="middle" font-weight="bold" fill="#111" stroke="#111" stroke-width="0.12">1mm</text>
<line x1="125" y1="773.6" x2="139.3" y2="773.6" stroke="#111" stroke-width="1.3"/>
<text x="164.3" y="703" font-size="9.15" text-anchor="middle" font-weight="bold" fill="#111" stroke="#111" stroke-width="0.12" transform="rotate(-90 164.3 703)" dy="3.29">Fibrosis Area(%)</text>
<line x1="192" y1="665.0" x2="192" y2="756.85" stroke="#222" stroke-width="1.1"/>
<line x1="188.8" y1="756.25" x2="253.3" y2="756.25" stroke="#222" stroke-width="1.2"/>
<line x1="188.4" y1="665.5" x2="192" y2="665.5" stroke="#222" stroke-width="1.0"/>
<text x="187.6" y="668.02" font-size="7.0" text-anchor="end" font-weight="normal" fill="#111" stroke="#111" stroke-width="0.3">20</text>
<line x1="188.4" y1="688.25" x2="192" y2="688.25" stroke="#222" stroke-width="1.0"/>
<text x="187.6" y="690.77" font-size="7.0" text-anchor="end" font-weight="normal" fill="#111" stroke="#111" stroke-width="0.3">15</text>
<line x1="188.4" y1="711" x2="192" y2="711" stroke="#222" stroke-width="1.0"/>
<text x="187.6" y="713.52" font-size="7.0" text-anchor="end" font-weight="normal" fill="#111" stroke="#111" stroke-width="0.3">10</text>
<line x1="188.4" y1="733.75" x2="192" y2="733.75" stroke="#222" stroke-width="1.0"/>
<text x="187.6" y="736.27" font-size="7.0" text-anchor="end" font-weight="normal" fill="#111" stroke="#111" stroke-width="0.3">5</text>
<line x1="188.4" y1="756.25" x2="192" y2="756.25" stroke="#222" stroke-width="1.0"/>
<text x="187.6" y="758.77" font-size="7.0" text-anchor="end" font-weight="normal" fill="#111" stroke="#111" stroke-width="0.3">0</text>
<path d="M200.9 756.25 V698 H217.8 V756.25" fill="none" stroke="#2a2aff" stroke-width="1.25"/>
<line x1="209.3" y1="689.25" x2="209.3" y2="706" stroke="#8f8fff" stroke-width="0.8"/>
<line x1="205.0" y1="689.25" x2="213.60000000000002" y2="689.25" stroke="#8f8fff" stroke-width="0.8"/>
<line x1="205.0" y1="706" x2="213.60000000000002" y2="706" stroke="#8f8fff" stroke-width="0.8"/>
<line x1="209.3" y1="756.25" x2="209.3" y2="759.65" stroke="#222" stroke-width="1.0"/>
<circle cx="209.25" cy="681.25" r="1.05" fill="#000"/>
<circle cx="207.50" cy="696.75" r="1.05" fill="#000"/>
<circle cx="211.25" cy="696.75" r="1.05" fill="#000"/>
<circle cx="209.25" cy="698.00" r="1.05" fill="#000"/>
<circle cx="209.25" cy="701.00" r="1.05" fill="#000"/>
<circle cx="209.25" cy="704.25" r="1.05" fill="#000"/>
<circle cx="209.25" cy="710.00" r="1.05" fill="#000"/>
<path d="M227.1 756.25 V723 H244.2 V756.25" fill="none" stroke="#ff2222" stroke-width="1.25"/>
<line x1="235.5" y1="718" x2="235.5" y2="727.5" stroke="#ff8f8f" stroke-width="0.8"/>
<line x1="231.2" y1="718" x2="239.8" y2="718" stroke="#ff8f8f" stroke-width="0.8"/>
<line x1="231.2" y1="727.5" x2="239.8" y2="727.5" stroke="#ff8f8f" stroke-width="0.8"/>
<line x1="235.5" y1="756.25" x2="235.5" y2="759.65" stroke="#222" stroke-width="1.0"/>
<circle cx="235.50" cy="715.50" r="1.05" fill="#000"/>
<circle cx="233.75" cy="719.75" r="1.05" fill="#000"/>
<circle cx="237.50" cy="719.75" r="1.05" fill="#000"/>
<circle cx="233.75" cy="724.25" r="1.05" fill="#000"/>
<circle cx="237.50" cy="724.25" r="1.05" fill="#000"/>
<circle cx="241.25" cy="723.50" r="1.05" fill="#000"/>
<circle cx="235.50" cy="731.25" r="1.05" fill="#000"/>
<text x="208.8" y="770.5" font-size="9.1" text-anchor="middle" font-weight="normal" fill="#111" stroke="#111" stroke-width="0.3">MI</text>
<text x="240.5" y="770.5" font-size="9.1" text-anchor="middle" font-weight="normal" fill="#111" stroke="#111" stroke-width="0.3">MI+La</text>
<text x="203.7" y="651" font-size="9.2" text-anchor="start" font-weight="normal" fill="#111" stroke="#111" stroke-width="0.3">P=2.9*10<tspan dy="-3" font-size="5.5">-6</tspan></text>
<line x1="208.75" y1="655.5" x2="237.5" y2="655.5" stroke="#111" stroke-width="1.5"/>
<text x="342.5" y="622.3" font-size="8.4" text-anchor="middle" font-weight="normal" fill="#111" stroke="#111" stroke-width="0.3">LVED</text>
<text x="418" y="622.3" font-size="8.4" text-anchor="middle" font-weight="normal" fill="#111" stroke="#111" stroke-width="0.3">LVES</text>
<text x="295" y="662.3" font-size="9.4" text-anchor="middle" font-weight="normal" fill="#111" stroke="#111" stroke-width="0.3" transform="rotate(-90 295 662.3)" dy="3.38">MI</text>
<text x="295" y="737.3" font-size="9.4" text-anchor="middle" font-weight="normal" fill="#111" stroke="#111" stroke-width="0.3" transform="rotate(-90 295 737.3)" dy="3.38">MI+La</text>
<svg x="303.8" y="625" width="74.8" height="74.8" viewBox="0 0 74.8 74.8" overflow="hidden">
<rect x="0" y="0" width="74.8" height="74.8" fill="#181818"/>
<rect x="0" y="0" width="74.8" height="74.8" filter="url(#mriN)" opacity=".7"/>
<g filter="url(#g2)">
<ellipse cx="26" cy="34" rx="30" ry="28" fill="#2c2c2c" opacity="0.7"/>
<rect x="-4" y="58" width="82.8" height="24" fill="#050505" opacity="0.8"/>
<path d="M-2 6 C16 -2 38 0 52 10 C64 20 70 34 76 50" fill="none" stroke="#5e5e5e" stroke-width="6.5" opacity=".85"/>
</g>
<g filter="url(#g1)"><polygon points="43,0 76,0 76,36 62,20" fill="#000" opacity="1"/></g>
<g filter="url(#g1_5)">
<ellipse cx="35" cy="27" rx="10" ry="17" fill="#c6c6c6" opacity="1" transform="rotate(20 35 27)"/>
<ellipse cx="47" cy="46" rx="19.9" ry="16.5" fill="#6c6c6c" opacity="1" transform="rotate(8 47 46)"/>
<ellipse cx="53" cy="52" rx="17.4" ry="13" fill="#565656" opacity="0.6" transform="rotate(8 53 52)"/>
<ellipse cx="47" cy="45" rx="13.4" ry="9.3" fill="#bcbcbc" opacity="1" transform="rotate(5 47 45)"/>
</g>
<g filter="url(#g1)">
<ellipse cx="4" cy="45" rx="4" ry="3.4" fill="#d0d0d0" opacity="0.9"/>
<ellipse cx="14" cy="70" rx="5" ry="2.5" fill="#d0d0d0" opacity="0.5"/>
<ellipse cx="26" cy="72" rx="3" ry="2" fill="#d0d0d0" opacity="0.5"/>
</g>
<ellipse cx="47" cy="46" rx="19.4" ry="16" transform="rotate(8 47 46)" fill="none" stroke="#46d048" stroke-width="0.85" stroke-dasharray="0.9 1.35"/>
<ellipse cx="47" cy="45" rx="13.9" ry="9.8" transform="rotate(5 47 45)" fill="none" stroke="#e23c3c" stroke-width="0.85" stroke-dasharray="0.9 1.35"/>
</svg>
<svg x="380.8" y="625" width="74.8" height="74.8" viewBox="0 0 74.8 74.8" overflow="hidden">
<rect x="0" y="0" width="74.8" height="74.8" fill="#181818"/>
<rect x="0" y="0" width="74.8" height="74.8" filter="url(#mriN)" opacity=".7"/>
<g filter="url(#g2)">
<ellipse cx="26" cy="34" rx="30" ry="28" fill="#2c2c2c" opacity="0.7"/>
<rect x="-4" y="58" width="82.8" height="24" fill="#050505" opacity="0.8"/>
<path d="M-2 10 C16 0 36 2 52 12 C64 22 70 34 76 48" fill="none" stroke="#5e5e5e" stroke-width="6.5" opacity=".85"/>
</g>
<g filter="url(#g1)"><polygon points="42,0 76,0 76,32 60,14" fill="#000" opacity="1"/></g>
<g filter="url(#g1_5)">
<ellipse cx="39.6" cy="31.7" rx="10.5" ry="14" fill="#b8b8b8" opacity="1" transform="rotate(25 39.6 31.7)"/>
<ellipse cx="49.8" cy="47" rx="18.5" ry="14.8" fill="#6c6c6c" opacity="1" transform="rotate(12 49.8 47)"/>
<ellipse cx="55.8" cy="53" rx="16" ry="11.3" fill="#565656" opacity="0.6" transform="rotate(12 55.8 53)"/>
<ellipse cx="51.4" cy="46" rx="9.7" ry="6.0" fill="#b4b4b4" opacity="1" transform="rotate(5 51.4 46)"/>
</g>
<g filter="url(#g1)">
<ellipse cx="5" cy="49" rx="5" ry="3" fill="#d0d0d0" opacity="0.8"/>
<ellipse cx="14" cy="57" rx="4" ry="2.5" fill="#d0d0d0" opacity="0.5"/>
<ellipse cx="8" cy="71" rx="5" ry="2" fill="#d0d0d0" opacity="0.4"/>
<ellipse cx="26" cy="72" rx="3" ry="2" fill="#d0d0d0" opacity="0.5"/>
</g>
<ellipse cx="49.8" cy="47" rx="18" ry="14.3" transform="rotate(12 49.8 47)" fill="none" stroke="#46d048" stroke-width="0.85" stroke-dasharray="0.9 1.35"/>
<ellipse cx="51.4" cy="46" rx="10.2" ry="6.5" transform="rotate(5 51.4 46)" fill="none" stroke="#e23c3c" stroke-width="0.85" stroke-dasharray="0.9 1.35"/>
</svg>
<svg x="303.8" y="702.5" width="74.8" height="74.8" viewBox="0 0 74.8 74.8" overflow="hidden">
<rect x="0" y="0" width="74.8" height="74.8" fill="#181818"/>
<rect x="0" y="0" width="74.8" height="74.8" filter="url(#mriN)" opacity=".7"/>
<g filter="url(#g2)">
<ellipse cx="26" cy="34" rx="30" ry="28" fill="#2c2c2c" opacity="0.7"/>
<rect x="-4" y="58" width="82.8" height="24" fill="#050505" opacity="0.8"/>
<path d="M-2 8 C12 2 28 2 42 10 C56 18 68 30 76 44" fill="none" stroke="#5e5e5e" stroke-width="6.5" opacity=".85"/>
</g>
<g filter="url(#g1)"><polygon points="37,0 76,0 76,25 58,10" fill="#000" opacity="1"/></g>
<g filter="url(#g1_5)">
<ellipse cx="28.9" cy="32.9" rx="14" ry="17" fill="#dcdcdc" opacity="1" transform="rotate(15 28.9 32.9)"/>
<ellipse cx="46.2" cy="43" rx="20.9" ry="21.9" fill="#6c6c6c" opacity="1" transform="rotate(10 46.2 43)"/>
<ellipse cx="52.2" cy="49" rx="18.4" ry="18.4" fill="#565656" opacity="0.6" transform="rotate(10 52.2 49)"/>
<ellipse cx="45.2" cy="45" rx="12.1" ry="12.8" fill="#c8c8c8" opacity="1" transform="rotate(10 45.2 45)"/>
</g>
<g filter="url(#g1)">
<ellipse cx="14" cy="60" rx="3" ry="2" fill="#d0d0d0" opacity="0.6"/>
<ellipse cx="10" cy="66" rx="6" ry="2.5" fill="#d0d0d0" opacity="0.7"/>
<ellipse cx="22" cy="70" rx="5" ry="2" fill="#d0d0d0" opacity="0.6"/>
<ellipse cx="6" cy="72" rx="4" ry="2" fill="#d0d0d0" opacity="0.6"/>
<ellipse cx="32" cy="72" rx="4" ry="2" fill="#d0d0d0" opacity="0.5"/>
<ellipse cx="30" cy="12" rx="3" ry="1.2" fill="#d0d0d0" opacity="0.9"/>
<ellipse cx="52" cy="19" rx="2.5" ry="1.2" fill="#d0d0d0" opacity="0.8"/>
</g>
<ellipse cx="46.2" cy="43" rx="20.4" ry="21.4" transform="rotate(10 46.2 43)" fill="none" stroke="#46d048" stroke-width="0.85" stroke-dasharray="0.9 1.35"/>
<ellipse cx="45.2" cy="45" rx="12.6" ry="13.3" transform="rotate(10 45.2 45)" fill="none" stroke="#e23c3c" stroke-width="0.85" stroke-dasharray="0.9 1.35"/>
</svg>
<svg x="380.8" y="702.5" width="74.8" height="74.8" viewBox="0 0 74.8 74.8" overflow="hidden">
<rect x="0" y="0" width="74.8" height="74.8" fill="#181818"/>
<rect x="0" y="0" width="74.8" height="74.8" filter="url(#mriN)" opacity=".7"/>
<g filter="url(#g2)">
<ellipse cx="26" cy="34" rx="30" ry="28" fill="#2c2c2c" opacity="0.7"/>
<rect x="-4" y="58" width="82.8" height="24" fill="#050505" opacity="0.8"/>
<path d="M-2 8 C10 2 26 2 40 10 C54 18 68 32 76 48" fill="none" stroke="#5e5e5e" stroke-width="6.5" opacity=".85"/>
</g>
<g filter="url(#g1)"><polygon points="33,0 76,0 76,33 56,12" fill="#000" opacity="1"/></g>
<g filter="url(#g1_5)">
<ellipse cx="26.3" cy="28.8" rx="11" ry="17" fill="#c6c6c6" opacity="1" transform="rotate(12 26.3 28.8)"/>
<ellipse cx="44.7" cy="41" rx="19.3" ry="19.9" fill="#6c6c6c" opacity="1" transform="rotate(10 44.7 41)"/>
<ellipse cx="50.7" cy="47" rx="16.8" ry="16.4" fill="#565656" opacity="0.6" transform="rotate(10 50.7 47)"/>
<ellipse cx="43.7" cy="40" rx="9.3" ry="5.2" fill="#c4c4c4" opacity="1" transform="rotate(-25 43.7 40)"/>
</g>
<g filter="url(#g1)">
<ellipse cx="18" cy="56" rx="3" ry="3" fill="#d0d0d0" opacity="0.7"/>
<ellipse cx="14" cy="64" rx="4" ry="3" fill="#d0d0d0" opacity="0.7"/>
<ellipse cx="24" cy="62" rx="3" ry="2.5" fill="#d0d0d0" opacity="0.7"/>
<ellipse cx="30" cy="70" rx="4" ry="3" fill="#d0d0d0" opacity="0.7"/>
<ellipse cx="8" cy="70" rx="5" ry="2.5" fill="#d0d0d0" opacity="0.6"/>
<ellipse cx="40" cy="72" rx="4" ry="2" fill="#d0d0d0" opacity="0.5"/>
<ellipse cx="50" cy="15" rx="2.5" ry="1.2" fill="#d0d0d0" opacity="0.8"/>
</g>
<ellipse cx="44.7" cy="41" rx="18.8" ry="19.4" transform="rotate(10 44.7 41)" fill="none" stroke="#46d048" stroke-width="0.85" stroke-dasharray="0.9 1.35"/>
<ellipse cx="43.7" cy="40" rx="9.8" ry="5.7" transform="rotate(-25 43.7 40)" fill="none" stroke="#e23c3c" stroke-width="0.85" stroke-dasharray="0.9 1.35"/>
</svg>
<text x="492.5" y="663.8" font-size="9.4" text-anchor="middle" font-weight="normal" fill="#111" stroke="#111" stroke-width="0.3" transform="rotate(-90 492.5 663.8)" dy="3.38">MI</text>
<text x="492.5" y="743" font-size="9.4" text-anchor="middle" font-weight="normal" fill="#111" stroke="#111" stroke-width="0.3" transform="rotate(-90 492.5 743)" dy="3.38">MI+La</text>
<svg x="506.8" y="628.5" width="114" height="69" viewBox="0 0 114 69" overflow="hidden">
<rect x="0" y="0" width="114" height="69" fill="url(#eg0)"/>
<path d="M-3.0 21.60 L-1.8 21.89 L-0.6 21.75 L0.6 21.21 L1.8 20.44 L3.0 19.69 L4.2 19.20 L5.4 19.12 L6.6 19.48 L7.8 20.16 L9.0 20.95 L10.2 21.60 L11.4 21.89 L12.6 21.75 L13.8 21.21 L15.0 20.44 L16.2 19.69 L17.4 19.20 L18.6 19.12 L19.8 19.48 L21.0 20.16 L22.2 20.95 L23.4 21.60 L24.6 21.89 L25.8 21.75 L27.0 21.21 L28.2 20.44 L29.4 19.69 L30.6 19.20 L31.8 19.12 L33.0 19.48 L34.2 20.16 L35.4 20.95 L36.6 21.60 L37.8 21.89 L39.0 21.75 L40.2 21.21 L41.4 20.44 L42.6 19.69 L43.8 19.20 L45.0 19.12 L46.2 19.48 L47.4 20.16 L48.6 20.95 L49.8 21.60 L51.0 21.89 L52.2 21.75 L53.4 21.21 L54.6 20.44 L55.8 19.69 L57.0 19.20 L58.2 19.12 L59.4 19.48 L60.6 20.16 L61.8 20.95 L63.0 21.60 L64.2 21.89 L65.4 21.75 L66.6 21.21 L67.8 20.44 L69.0 19.69 L70.2 19.20 L71.4 19.12 L72.6 19.48 L73.8 20.16 L75.0 20.95 L76.2 21.60 L77.4 21.89 L78.6 21.75 L79.8 21.21 L81.0 20.44 L82.2 19.69 L83.4 19.20 L84.6 19.12 L85.8 19.48 L87.0 20.16 L88.2 20.95 L89.4 21.60 L90.6 21.89 L91.8 21.75 L93.0 21.21 L94.2 20.44 L95.4 19.69 L96.6 19.20 L97.8 19.12 L99.0 19.48 L100.2 20.16 L101.4 20.95 L102.6 21.60 L103.8 21.89 L105.0 21.75 L106.2 21.21 L107.4 20.44 L108.6 19.69 L109.8 19.20 L111.0 19.12 L112.2 19.48 L113.4 20.16 L114.6 20.95 L115.8 21.60 L117.0 21.89 L117.0 33.83 L115.8 33.20 L114.6 31.69 L113.4 30.60 L112.2 30.09 L111.0 30.03 L109.8 30.43 L108.6 31.32 L107.4 32.96 L106.2 33.71 L105.0 34.00 L103.8 33.83 L102.6 33.20 L101.4 31.69 L100.2 30.60 L99.0 30.09 L97.8 30.03 L96.6 30.43 L95.4 31.32 L94.2 32.96 L93.0 33.71 L91.8 34.00 L90.6 33.83 L89.4 33.20 L88.2 31.69 L87.0 30.60 L85.8 30.09 L84.6 30.03 L83.4 30.43 L82.2 31.32 L81.0 32.96 L79.8 33.71 L78.6 34.00 L77.4 33.83 L76.2 33.20 L75.0 31.69 L73.8 30.60 L72.6 30.09 L71.4 30.03 L70.2 30.43 L69.0 31.32 L67.8 32.96 L66.6 33.71 L65.4 34.00 L64.2 33.83 L63.0 33.20 L61.8 31.69 L60.6 30.60 L59.4 30.09 L58.2 30.03 L57.0 30.43 L55.8 31.32 L54.6 32.96 L53.4 33.71 L52.2 34.00 L51.0 33.83 L49.8 33.20 L48.6 31.69 L47.4 30.60 L46.2 30.09 L45.0 30.03 L43.8 30.43 L42.6 31.32 L41.4 32.96 L40.2 33.71 L39.0 34.00 L37.8 33.83 L36.6 33.20 L35.4 31.69 L34.2 30.60 L33.0 30.09 L31.8 30.03 L30.6 30.43 L29.4 31.32 L28.2 32.96 L27.0 33.71 L25.8 34.00 L24.6 33.83 L23.4 33.20 L22.2 31.69 L21.0 30.60 L19.8 30.09 L18.6 30.03 L17.4 30.43 L16.2 31.32 L15.0 32.96 L13.8 33.71 L12.6 34.00 L11.4 33.83 L10.2 33.20 L9.0 31.69 L7.8 30.60 L6.6 30.09 L5.4 30.03 L4.2 30.43 L3.0 31.32 L1.8 32.96 L0.6 33.71 L-0.6 34.00 L-1.8 33.83 L-3.0 33.20 Z" fill="#5a2c0c" filter="url(#g2)" opacity=".9"/>
<path d="M-3.0 23.60 L-1.8 23.89 L-0.6 23.75 L0.6 23.21 L1.8 22.44 L3.0 21.69 L4.2 21.20 L5.4 21.12 L6.6 21.48 L7.8 22.16 L9.0 22.95 L10.2 23.60 L11.4 23.89 L12.6 23.75 L13.8 23.21 L15.0 22.44 L16.2 21.69 L17.4 21.20 L18.6 21.12 L19.8 21.48 L21.0 22.16 L22.2 22.95 L23.4 23.60 L24.6 23.89 L25.8 23.75 L27.0 23.21 L28.2 22.44 L29.4 21.69 L30.6 21.20 L31.8 21.12 L33.0 21.48 L34.2 22.16 L35.4 22.95 L36.6 23.60 L37.8 23.89 L39.0 23.75 L40.2 23.21 L41.4 22.44 L42.6 21.69 L43.8 21.20 L45.0 21.12 L46.2 21.48 L47.4 22.16 L48.6 22.95 L49.8 23.60 L51.0 23.89 L52.2 23.75 L53.4 23.21 L54.6 22.44 L55.8 21.69 L57.0 21.20 L58.2 21.12 L59.4 21.48 L60.6 22.16 L61.8 22.95 L63.0 23.60 L64.2 23.89 L65.4 23.75 L66.6 23.21 L67.8 22.44 L69.0 21.69 L70.2 21.20 L71.4 21.12 L72.6 21.48 L73.8 22.16 L75.0 22.95 L76.2 23.60 L77.4 23.89 L78.6 23.75 L79.8 23.21 L81.0 22.44 L82.2 21.69 L83.4 21.20 L84.6 21.12 L85.8 21.48 L87.0 22.16 L88.2 22.95 L89.4 23.60 L90.6 23.89 L91.8 23.75 L93.0 23.21 L94.2 22.44 L95.4 21.69 L96.6 21.20 L97.8 21.12 L99.0 21.48 L100.2 22.16 L101.4 22.95 L102.6 23.60 L103.8 23.89 L105.0 23.75 L106.2 23.21 L107.4 22.44 L108.6 21.69 L109.8 21.20 L111.0 21.12 L112.2 21.48 L113.4 22.16 L114.6 22.95 L115.8 23.60 L117.0 23.89 L117.0 31.33 L115.8 30.70 L114.6 29.19 L113.4 28.10 L112.2 27.59 L111.0 27.53 L109.8 27.93 L108.6 28.82 L107.4 30.46 L106.2 31.21 L105.0 31.50 L103.8 31.33 L102.6 30.70 L101.4 29.19 L100.2 28.10 L99.0 27.59 L97.8 27.53 L96.6 27.93 L95.4 28.82 L94.2 30.46 L93.0 31.21 L91.8 31.50 L90.6 31.33 L89.4 30.70 L88.2 29.19 L87.0 28.10 L85.8 27.59 L84.6 27.53 L83.4 27.93 L82.2 28.82 L81.0 30.46 L79.8 31.21 L78.6 31.50 L77.4 31.33 L76.2 30.70 L75.0 29.19 L73.8 28.10 L72.6 27.59 L71.4 27.53 L70.2 27.93 L69.0 28.82 L67.8 30.46 L66.6 31.21 L65.4 31.50 L64.2 31.33 L63.0 30.70 L61.8 29.19 L60.6 28.10 L59.4 27.59 L58.2 27.53 L57.0 27.93 L55.8 28.82 L54.6 30.46 L53.4 31.21 L52.2 31.50 L51.0 31.33 L49.8 30.70 L48.6 29.19 L47.4 28.10 L46.2 27.59 L45.0 27.53 L43.8 27.93 L42.6 28.82 L41.4 30.46 L40.2 31.21 L39.0 31.50 L37.8 31.33 L36.6 30.70 L35.4 29.19 L34.2 28.10 L33.0 27.59 L31.8 27.53 L30.6 27.93 L29.4 28.82 L28.2 30.46 L27.0 31.21 L25.8 31.50 L24.6 31.33 L23.4 30.70 L22.2 29.19 L21.0 28.10 L19.8 27.59 L18.6 27.53 L17.4 27.93 L16.2 28.82 L15.0 30.46 L13.8 31.21 L12.6 31.50 L11.4 31.33 L10.2 30.70 L9.0 29.19 L7.8 28.10 L6.6 27.59 L5.4 27.53 L4.2 27.93 L3.0 28.82 L1.8 30.46 L0.6 31.21 L-0.6 31.50 L-1.8 31.33 L-3.0 30.70 Z" fill="#160802" filter="url(#g1)"/>
<polyline points="-3.0,19.40 -1.8,19.69 -0.6,19.55 0.6,19.01 1.8,18.24 3.0,17.49 4.2,17.00 5.4,16.92 6.6,17.28 7.8,17.96 9.0,18.75 10.2,19.40 11.4,19.69 12.6,19.55 13.8,19.01 15.0,18.24 16.2,17.49 17.4,17.00 18.6,16.92 19.8,17.28 21.0,17.96 22.2,18.75 23.4,19.40 24.6,19.69 25.8,19.55 27.0,19.01 28.2,18.24 29.4,17.49 30.6,17.00 31.8,16.92 33.0,17.28 34.2,17.96 35.4,18.75 36.6,19.40 37.8,19.69 39.0,19.55 40.2,19.01 41.4,18.24 42.6,17.49 43.8,17.00 45.0,16.92 46.2,17.28 47.4,17.96 48.6,18.75 49.8,19.40 51.0,19.69 52.2,19.55 53.4,19.01 54.6,18.24 55.8,17.49 57.0,17.00 58.2,16.92 59.4,17.28 60.6,17.96 61.8,18.75 63.0,19.40 64.2,19.69 65.4,19.55 66.6,19.01 67.8,18.24 69.0,17.49 70.2,17.00 71.4,16.92 72.6,17.28 73.8,17.96 75.0,18.75 76.2,19.40 77.4,19.69 78.6,19.55 79.8,19.01 81.0,18.24 82.2,17.49 83.4,17.00 84.6,16.92 85.8,17.28 87.0,17.96 88.2,18.75 89.4,19.40 90.6,19.69 91.8,19.55 93.0,19.01 94.2,18.24 95.4,17.49 96.6,17.00 97.8,16.92 99.0,17.28 100.2,17.96 101.4,18.75 102.6,19.40 103.8,19.69 105.0,19.55 106.2,19.01 107.4,18.24 108.6,17.49 109.8,17.00 111.0,16.92 112.2,17.28 113.4,17.96 114.6,18.75 115.8,19.40 117.0,19.69" fill="none" stroke="#c47c30" stroke-width="1.4" opacity=".7" filter="url(#g0_5)"/>
<polyline points="-3.0,41.92 -1.8,42.52 -0.6,42.70 0.6,42.40 1.8,41.72 3.0,40.88 4.2,40.14 5.4,39.73 6.6,39.79 7.8,40.30 9.0,41.09 10.2,41.92 11.4,42.52 12.6,42.70 13.8,42.40 15.0,41.72 16.2,40.88 17.4,40.14 18.6,39.73 19.8,39.79 21.0,40.30 22.2,41.09 23.4,41.92 24.6,42.52 25.8,42.70 27.0,42.40 28.2,41.72 29.4,40.88 30.6,40.14 31.8,39.73 33.0,39.79 34.2,40.30 35.4,41.09 36.6,41.92 37.8,42.52 39.0,42.70 40.2,42.40 41.4,41.72 42.6,40.88 43.8,40.14 45.0,39.73 46.2,39.79 47.4,40.30 48.6,41.09 49.8,41.92 51.0,42.52 52.2,42.70 53.4,42.40 54.6,41.72 55.8,40.88 57.0,40.14 58.2,39.73 59.4,39.79 60.6,40.30 61.8,41.09 63.0,41.92 64.2,42.52 65.4,42.70 66.6,42.40 67.8,41.72 69.0,40.88 70.2,40.14 71.4,39.73 72.6,39.79 73.8,40.30 75.0,41.09 76.2,41.92 77.4,42.52 78.6,42.70 79.8,42.40 81.0,41.72 82.2,40.88 83.4,40.14 84.6,39.73 85.8,39.79 87.0,40.30 88.2,41.09 89.4,41.92 90.6,42.52 91.8,42.70 93.0,42.40 94.2,41.72 95.4,40.88 96.6,40.14 97.8,39.73 99.0,39.79 100.2,40.30 101.4,41.09 102.6,41.92 103.8,42.52 105.0,42.70 106.2,42.40 107.4,41.72 108.6,40.88 109.8,40.14 111.0,39.73 112.2,39.79 113.4,40.30 114.6,41.09 115.8,41.92 117.0,42.52" fill="none" stroke="#f2a452" stroke-width="5.4" opacity=".8" filter="url(#g1)"/>
<polyline points="-3.0,41.92 -1.8,42.52 -0.6,42.70 0.6,42.40 1.8,41.72 3.0,40.88 4.2,40.14 5.4,39.73 6.6,39.79 7.8,40.30 9.0,41.09 10.2,41.92 11.4,42.52 12.6,42.70 13.8,42.40 15.0,41.72 16.2,40.88 17.4,40.14 18.6,39.73 19.8,39.79 21.0,40.30 22.2,41.09 23.4,41.92 24.6,42.52 25.8,42.70 27.0,42.40 28.2,41.72 29.4,40.88 30.6,40.14 31.8,39.73 33.0,39.79 34.2,40.30 35.4,41.09 36.6,41.92 37.8,42.52 39.0,42.70 40.2,42.40 41.4,41.72 42.6,40.88 43.8,40.14 45.0,39.73 46.2,39.79 47.4,40.30 48.6,41.09 49.8,41.92 51.0,42.52 52.2,42.70 53.4,42.40 54.6,41.72 55.8,40.88 57.0,40.14 58.2,39.73 59.4,39.79 60.6,40.30 61.8,41.09 63.0,41.92 64.2,42.52 65.4,42.70 66.6,42.40 67.8,41.72 69.0,40.88 70.2,40.14 71.4,39.73 72.6,39.79 73.8,40.30 75.0,41.09 76.2,41.92 77.4,42.52 78.6,42.70 79.8,42.40 81.0,41.72 82.2,40.88 83.4,40.14 84.6,39.73 85.8,39.79 87.0,40.30 88.2,41.09 89.4,41.92 90.6,42.52 91.8,42.70 93.0,42.40 94.2,41.72 95.4,40.88 96.6,40.14 97.8,39.73 99.0,39.79 100.2,40.30 101.4,41.09 102.6,41.92 103.8,42.52 105.0,42.70 106.2,42.40 107.4,41.72 108.6,40.88 109.8,40.14 111.0,39.73 112.2,39.79 113.4,40.30 114.6,41.09 115.8,41.92 117.0,42.52" fill="none" stroke="#ffe6bc" stroke-width="2.2" filter="url(#g0_5)"/>
<rect x="0" y="4.6" width="114" height="0.9" fill="#8a4c18" opacity=".7"/>
<rect x="0" y="8.2" width="114" height="0.8" fill="#e9a552" opacity=".5"/>
<rect x="0" y="0" width="114" height="69" fill="#1a0a02" filter="url(#echoN)" opacity=".38"/>
<rect x="0" y="0" width="114" height="69" filter="url(#echoL)" opacity=".3"/>
</svg>
<svg x="505.8" y="707.3" width="115" height="69" viewBox="0 0 115 69" overflow="hidden">
<rect x="0" y="0" width="115" height="69" fill="url(#eg1)"/>
<path d="M-3.0 22.75 L-1.8 23.22 L-0.6 23.03 L0.6 22.22 L1.8 21.05 L3.0 19.87 L4.2 19.02 L5.4 18.77 L6.6 19.18 L7.8 20.14 L9.0 21.36 L10.2 22.47 L11.4 23.14 L12.6 23.17 L13.8 22.55 L15.0 21.46 L16.2 20.24 L17.4 19.25 L18.6 18.78 L19.8 18.97 L21.0 19.78 L22.2 20.95 L23.4 22.13 L24.6 22.98 L25.8 23.23 L27.0 22.82 L28.2 21.86 L29.4 20.64 L30.6 19.53 L31.8 18.86 L33.0 18.83 L34.2 19.45 L35.4 20.54 L36.6 21.76 L37.8 22.75 L39.0 23.22 L40.2 23.03 L41.4 22.22 L42.6 21.05 L43.8 19.87 L45.0 19.02 L46.2 18.77 L47.4 19.18 L48.6 20.14 L49.8 21.36 L51.0 22.47 L52.2 23.14 L53.4 23.17 L54.6 22.55 L55.8 21.46 L57.0 20.24 L58.2 19.25 L59.4 18.78 L60.6 18.97 L61.8 19.78 L63.0 20.95 L64.2 22.13 L65.4 22.98 L66.6 23.23 L67.8 22.82 L69.0 21.86 L70.2 20.64 L71.4 19.53 L72.6 18.86 L73.8 18.83 L75.0 19.45 L76.2 20.54 L77.4 21.76 L78.6 22.75 L79.8 23.22 L81.0 23.03 L82.2 22.22 L83.4 21.05 L84.6 19.87 L85.8 19.02 L87.0 18.77 L88.2 19.18 L89.4 20.14 L90.6 21.36 L91.8 22.47 L93.0 23.14 L94.2 23.17 L95.4 22.55 L96.6 21.46 L97.8 20.24 L99.0 19.25 L100.2 18.78 L101.4 18.97 L102.6 19.78 L103.8 20.95 L105.0 22.13 L106.2 22.98 L107.4 23.23 L108.6 22.82 L109.8 21.86 L111.0 20.64 L112.2 19.53 L113.4 18.86 L114.6 18.83 L115.8 19.45 L117.0 20.54 L117.0 30.34 L115.8 29.49 L114.6 29.32 L113.4 29.85 L112.2 31.09 L111.0 33.67 L109.8 35.03 L108.6 35.64 L107.4 35.58 L106.2 34.82 L105.0 33.27 L103.8 30.78 L102.6 29.69 L101.4 29.30 L100.2 29.60 L99.0 30.59 L97.8 32.92 L96.6 34.66 L95.4 35.51 L94.2 35.68 L93.0 35.15 L91.8 33.91 L90.6 31.33 L89.4 29.97 L88.2 29.36 L87.0 29.42 L85.8 30.18 L84.6 31.73 L83.4 34.22 L82.2 35.31 L81.0 35.70 L79.8 35.40 L78.6 34.41 L77.4 32.08 L76.2 30.34 L75.0 29.49 L73.8 29.32 L72.6 29.85 L71.4 31.09 L70.2 33.67 L69.0 35.03 L67.8 35.64 L66.6 35.58 L65.4 34.82 L64.2 33.27 L63.0 30.78 L61.8 29.69 L60.6 29.30 L59.4 29.60 L58.2 30.59 L57.0 32.92 L55.8 34.66 L54.6 35.51 L53.4 35.68 L52.2 35.15 L51.0 33.91 L49.8 31.33 L48.6 29.97 L47.4 29.36 L46.2 29.42 L45.0 30.18 L43.8 31.73 L42.6 34.22 L41.4 35.31 L40.2 35.70 L39.0 35.40 L37.8 34.41 L36.6 32.08 L35.4 30.34 L34.2 29.49 L33.0 29.32 L31.8 29.85 L30.6 31.09 L29.4 33.67 L28.2 35.03 L27.0 35.64 L25.8 35.58 L24.6 34.82 L23.4 33.27 L22.2 30.78 L21.0 29.69 L19.8 29.30 L18.6 29.60 L17.4 30.59 L16.2 32.92 L15.0 34.66 L13.8 35.51 L12.6 35.68 L11.4 35.15 L10.2 33.91 L9.0 31.33 L7.8 29.97 L6.6 29.36 L5.4 29.42 L4.2 30.18 L3.0 31.73 L1.8 34.22 L0.6 35.31 L-0.6 35.70 L-1.8 35.40 L-3.0 34.41 Z" fill="#5a2c0c" filter="url(#g2)" opacity=".9"/>
<path d="M-3.0 24.75 L-1.8 25.22 L-0.6 25.03 L0.6 24.22 L1.8 23.05 L3.0 21.87 L4.2 21.02 L5.4 20.77 L6.6 21.18 L7.8 22.14 L9.0 23.36 L10.2 24.47 L11.4 25.14 L12.6 25.17 L13.8 24.55 L15.0 23.46 L16.2 22.24 L17.4 21.25 L18.6 20.78 L19.8 20.97 L21.0 21.78 L22.2 22.95 L23.4 24.13 L24.6 24.98 L25.8 25.23 L27.0 24.82 L28.2 23.86 L29.4 22.64 L30.6 21.53 L31.8 20.86 L33.0 20.83 L34.2 21.45 L35.4 22.54 L36.6 23.76 L37.8 24.75 L39.0 25.22 L40.2 25.03 L41.4 24.22 L42.6 23.05 L43.8 21.87 L45.0 21.02 L46.2 20.77 L47.4 21.18 L48.6 22.14 L49.8 23.36 L51.0 24.47 L52.2 25.14 L53.4 25.17 L54.6 24.55 L55.8 23.46 L57.0 22.24 L58.2 21.25 L59.4 20.78 L60.6 20.97 L61.8 21.78 L63.0 22.95 L64.2 24.13 L65.4 24.98 L66.6 25.23 L67.8 24.82 L69.0 23.86 L70.2 22.64 L71.4 21.53 L72.6 20.86 L73.8 20.83 L75.0 21.45 L76.2 22.54 L77.4 23.76 L78.6 24.75 L79.8 25.22 L81.0 25.03 L82.2 24.22 L83.4 23.05 L84.6 21.87 L85.8 21.02 L87.0 20.77 L88.2 21.18 L89.4 22.14 L90.6 23.36 L91.8 24.47 L93.0 25.14 L94.2 25.17 L95.4 24.55 L96.6 23.46 L97.8 22.24 L99.0 21.25 L100.2 20.78 L101.4 20.97 L102.6 21.78 L103.8 22.95 L105.0 24.13 L106.2 24.98 L107.4 25.23 L108.6 24.82 L109.8 23.86 L111.0 22.64 L112.2 21.53 L113.4 20.86 L114.6 20.83 L115.8 21.45 L117.0 22.54 L117.0 27.84 L115.8 26.99 L114.6 26.82 L113.4 27.35 L112.2 28.59 L111.0 31.17 L109.8 32.53 L108.6 33.14 L107.4 33.08 L106.2 32.32 L105.0 30.77 L103.8 28.28 L102.6 27.19 L101.4 26.80 L100.2 27.10 L99.0 28.09 L97.8 30.42 L96.6 32.16 L95.4 33.01 L94.2 33.18 L93.0 32.65 L91.8 31.41 L90.6 28.83 L89.4 27.47 L88.2 26.86 L87.0 26.92 L85.8 27.68 L84.6 29.23 L83.4 31.72 L82.2 32.81 L81.0 33.20 L79.8 32.90 L78.6 31.91 L77.4 29.58 L76.2 27.84 L75.0 26.99 L73.8 26.82 L72.6 27.35 L71.4 28.59 L70.2 31.17 L69.0 32.53 L67.8 33.14 L66.6 33.08 L65.4 32.32 L64.2 30.77 L63.0 28.28 L61.8 27.19 L60.6 26.80 L59.4 27.10 L58.2 28.09 L57.0 30.42 L55.8 32.16 L54.6 33.01 L53.4 33.18 L52.2 32.65 L51.0 31.41 L49.8 28.83 L48.6 27.47 L47.4 26.86 L46.2 26.92 L45.0 27.68 L43.8 29.23 L42.6 31.72 L41.4 32.81 L40.2 33.20 L39.0 32.90 L37.8 31.91 L36.6 29.58 L35.4 27.84 L34.2 26.99 L33.0 26.82 L31.8 27.35 L30.6 28.59 L29.4 31.17 L28.2 32.53 L27.0 33.14 L25.8 33.08 L24.6 32.32 L23.4 30.77 L22.2 28.28 L21.0 27.19 L19.8 26.80 L18.6 27.10 L17.4 28.09 L16.2 30.42 L15.0 32.16 L13.8 33.01 L12.6 33.18 L11.4 32.65 L10.2 31.41 L9.0 28.83 L7.8 27.47 L6.6 26.86 L5.4 26.92 L4.2 27.68 L3.0 29.23 L1.8 31.72 L0.6 32.81 L-0.6 33.20 L-1.8 32.90 L-3.0 31.91 Z" fill="#160802" filter="url(#g1)"/>
<polyline points="-3.0,20.55 -1.8,21.02 -0.6,20.83 0.6,20.02 1.8,18.85 3.0,17.67 4.2,16.82 5.4,16.57 6.6,16.98 7.8,17.94 9.0,19.16 10.2,20.27 11.4,20.94 12.6,20.97 13.8,20.35 15.0,19.26 16.2,18.04 17.4,17.05 18.6,16.58 19.8,16.77 21.0,17.58 22.2,18.75 23.4,19.93 24.6,20.78 25.8,21.03 27.0,20.62 28.2,19.66 29.4,18.44 30.6,17.33 31.8,16.66 33.0,16.63 34.2,17.25 35.4,18.34 36.6,19.56 37.8,20.55 39.0,21.02 40.2,20.83 41.4,20.02 42.6,18.85 43.8,17.67 45.0,16.82 46.2,16.57 47.4,16.98 48.6,17.94 49.8,19.16 51.0,20.27 52.2,20.94 53.4,20.97 54.6,20.35 55.8,19.26 57.0,18.04 58.2,17.05 59.4,16.58 60.6,16.77 61.8,17.58 63.0,18.75 64.2,19.93 65.4,20.78 66.6,21.03 67.8,20.62 69.0,19.66 70.2,18.44 71.4,17.33 72.6,16.66 73.8,16.63 75.0,17.25 76.2,18.34 77.4,19.56 78.6,20.55 79.8,21.02 81.0,20.83 82.2,20.02 83.4,18.85 84.6,17.67 85.8,16.82 87.0,16.57 88.2,16.98 89.4,17.94 90.6,19.16 91.8,20.27 93.0,20.94 94.2,20.97 95.4,20.35 96.6,19.26 97.8,18.04 99.0,17.05 100.2,16.58 101.4,16.77 102.6,17.58 103.8,18.75 105.0,19.93 106.2,20.78 107.4,21.03 108.6,20.62 109.8,19.66 111.0,18.44 112.2,17.33 113.4,16.66 114.6,16.63 115.8,17.25 117.0,18.34" fill="none" stroke="#c47c30" stroke-width="1.4" opacity=".7" filter="url(#g0_5)"/>
<polyline points="-3.0,40.70 -1.8,41.60 -0.6,41.90 0.6,41.51 1.8,40.55 3.0,39.30 4.2,38.15 5.4,37.43 6.6,37.36 7.8,37.96 9.0,39.06 10.2,40.31 11.4,41.36 12.6,41.88 13.8,41.71 15.0,40.92 16.2,39.73 17.4,38.50 18.6,37.60 19.8,37.30 21.0,37.69 22.2,38.65 23.4,39.90 24.6,41.05 25.8,41.77 27.0,41.84 28.2,41.24 29.4,40.14 30.6,38.89 31.8,37.84 33.0,37.32 34.2,37.49 35.4,38.28 36.6,39.47 37.8,40.70 39.0,41.60 40.2,41.90 41.4,41.51 42.6,40.55 43.8,39.30 45.0,38.15 46.2,37.43 47.4,37.36 48.6,37.96 49.8,39.06 51.0,40.31 52.2,41.36 53.4,41.88 54.6,41.71 55.8,40.92 57.0,39.73 58.2,38.50 59.4,37.60 60.6,37.30 61.8,37.69 63.0,38.65 64.2,39.90 65.4,41.05 66.6,41.77 67.8,41.84 69.0,41.24 70.2,40.14 71.4,38.89 72.6,37.84 73.8,37.32 75.0,37.49 76.2,38.28 77.4,39.47 78.6,40.70 79.8,41.60 81.0,41.90 82.2,41.51 83.4,40.55 84.6,39.30 85.8,38.15 87.0,37.43 88.2,37.36 89.4,37.96 90.6,39.06 91.8,40.31 93.0,41.36 94.2,41.88 95.4,41.71 96.6,40.92 97.8,39.73 99.0,38.50 100.2,37.60 101.4,37.30 102.6,37.69 103.8,38.65 105.0,39.90 106.2,41.05 107.4,41.77 108.6,41.84 109.8,41.24 111.0,40.14 112.2,38.89 113.4,37.84 114.6,37.32 115.8,37.49 117.0,38.28" fill="none" stroke="#f2a452" stroke-width="5.4" opacity=".8" filter="url(#g1)"/>
<polyline points="-3.0,40.70 -1.8,41.60 -0.6,41.90 0.6,41.51 1.8,40.55 3.0,39.30 4.2,38.15 5.4,37.43 6.6,37.36 7.8,37.96 9.0,39.06 10.2,40.31 11.4,41.36 12.6,41.88 13.8,41.71 15.0,40.92 16.2,39.73 17.4,38.50 18.6,37.60 19.8,37.30 21.0,37.69 22.2,38.65 23.4,39.90 24.6,41.05 25.8,41.77 27.0,41.84 28.2,41.24 29.4,40.14 30.6,38.89 31.8,37.84 33.0,37.32 34.2,37.49 35.4,38.28 36.6,39.47 37.8,40.70 39.0,41.60 40.2,41.90 41.4,41.51 42.6,40.55 43.8,39.30 45.0,38.15 46.2,37.43 47.4,37.36 48.6,37.96 49.8,39.06 51.0,40.31 52.2,41.36 53.4,41.88 54.6,41.71 55.8,40.92 57.0,39.73 58.2,38.50 59.4,37.60 60.6,37.30 61.8,37.69 63.0,38.65 64.2,39.90 65.4,41.05 66.6,41.77 67.8,41.84 69.0,41.24 70.2,40.14 71.4,38.89 72.6,37.84 73.8,37.32 75.0,37.49 76.2,38.28 77.4,39.47 78.6,40.70 79.8,41.60 81.0,41.90 82.2,41.51 83.4,40.55 84.6,39.30 85.8,38.15 87.0,37.43 88.2,37.36 89.4,37.96 90.6,39.06 91.8,40.31 93.0,41.36 94.2,41.88 95.4,41.71 96.6,40.92 97.8,39.73 99.0,38.50 100.2,37.60 101.4,37.30 102.6,37.69 103.8,38.65 105.0,39.90 106.2,41.05 107.4,41.77 108.6,41.84 109.8,41.24 111.0,40.14 112.2,38.89 113.4,37.84 114.6,37.32 115.8,37.49 117.0,38.28" fill="none" stroke="#ffe6bc" stroke-width="2.2" filter="url(#g0_5)"/>
<rect x="0" y="4.6" width="115" height="0.9" fill="#8a4c18" opacity=".7"/>
<rect x="0" y="8.2" width="115" height="0.8" fill="#e9a552" opacity=".5"/>
<rect x="0" y="0" width="115" height="69" fill="#1a0a02" filter="url(#echoN)" opacity=".38"/>
<rect x="0" y="0" width="115" height="69" filter="url(#echoL)" opacity=".3"/>
</svg>
<text x="657.5" y="709.3" font-size="9" text-anchor="middle" font-weight="normal" fill="#111" stroke="#111" stroke-width="0.3" transform="rotate(-90 657.5 709.3)" dy="3.24">EF(%)</text>
<line x1="688.25" y1="669.5" x2="688.25" y2="760.6" stroke="#222" stroke-width="1.1"/>
<line x1="685" y1="760" x2="748.3" y2="760" stroke="#222" stroke-width="1.2"/>
<line x1="684.65" y1="670" x2="688.25" y2="670" stroke="#222" stroke-width="1.0"/>
<text x="683.2" y="672.52" font-size="7.0" text-anchor="end" font-weight="normal" fill="#111" stroke="#111" stroke-width="0.3">90</text>
<line x1="684.65" y1="692.5" x2="688.25" y2="692.5" stroke="#222" stroke-width="1.0"/>
<text x="683.2" y="695.02" font-size="7.0" text-anchor="end" font-weight="normal" fill="#111" stroke="#111" stroke-width="0.3">80</text>
<line x1="684.65" y1="715" x2="688.25" y2="715" stroke="#222" stroke-width="1.0"/>
<text x="683.2" y="717.52" font-size="7.0" text-anchor="end" font-weight="normal" fill="#111" stroke="#111" stroke-width="0.3">70</text>
<line x1="684.65" y1="737.5" x2="688.25" y2="737.5" stroke="#222" stroke-width="1.0"/>
<text x="683.2" y="740.02" font-size="7.0" text-anchor="end" font-weight="normal" fill="#111" stroke="#111" stroke-width="0.3">60</text>
<line x1="684.65" y1="760" x2="688.25" y2="760" stroke="#222" stroke-width="1.0"/>
<text x="683.2" y="762.52" font-size="7.0" text-anchor="end" font-weight="normal" fill="#111" stroke="#111" stroke-width="0.3">50</text>
<path d="M696.9 760 V740 H713.7 V760" fill="none" stroke="#2a2aff" stroke-width="1.25"/>
<line x1="705.5" y1="732.25" x2="705.5" y2="747.25" stroke="#8f8fff" stroke-width="0.8"/>
<line x1="701.2" y1="732.25" x2="709.8" y2="732.25" stroke="#8f8fff" stroke-width="0.8"/>
<line x1="701.2" y1="747.25" x2="709.8" y2="747.25" stroke="#8f8fff" stroke-width="0.8"/>
<line x1="705.5" y1="760" x2="705.5" y2="763.4" stroke="#222" stroke-width="1.0"/>
<circle cx="705.50" cy="728.75" r="1.05" fill="#000"/>
<circle cx="702.50" cy="733.00" r="1.05" fill="#000"/>
<circle cx="708.75" cy="733.00" r="1.05" fill="#000"/>
<circle cx="705.50" cy="738.00" r="1.05" fill="#000"/>
<circle cx="703.75" cy="741.25" r="1.05" fill="#000"/>
<circle cx="707.50" cy="741.25" r="1.05" fill="#000"/>
<circle cx="703.75" cy="747.25" r="1.05" fill="#000"/>
<circle cx="707.50" cy="747.25" r="1.05" fill="#000"/>
<circle cx="705.50" cy="750.50" r="1.05" fill="#000"/>
<path d="M722.6 760 V712.25 H739.4 V760" fill="none" stroke="#ff2222" stroke-width="1.25"/>
<line x1="731" y1="699.25" x2="731" y2="725" stroke="#ff8f8f" stroke-width="0.8"/>
<line x1="726.7" y1="699.25" x2="735.3" y2="699.25" stroke="#ff8f8f" stroke-width="0.8"/>
<line x1="726.7" y1="725" x2="735.3" y2="725" stroke="#ff8f8f" stroke-width="0.8"/>
<line x1="731" y1="760" x2="731" y2="763.4" stroke="#222" stroke-width="1.0"/>
<circle cx="731.00" cy="693.75" r="1.05" fill="#000"/>
<circle cx="729.25" cy="698.00" r="1.05" fill="#000"/>
<circle cx="733.00" cy="698.00" r="1.05" fill="#000"/>
<circle cx="731.00" cy="703.00" r="1.05" fill="#000"/>
<circle cx="729.25" cy="716.25" r="1.05" fill="#000"/>
<circle cx="733.00" cy="716.25" r="1.05" fill="#000"/>
<circle cx="731.00" cy="720.50" r="1.05" fill="#000"/>
<circle cx="729.25" cy="726.25" r="1.05" fill="#000"/>
<circle cx="733.00" cy="726.25" r="1.05" fill="#000"/>
<text x="703.8" y="772.3" font-size="9.1" text-anchor="middle" font-weight="normal" fill="#111" stroke="#111" stroke-width="0.3">MI</text>
<text x="733" y="772.3" font-size="9.1" text-anchor="middle" font-weight="normal" fill="#111" stroke="#111" stroke-width="0.3">MI+La</text>
<text x="698.7" y="652.3" font-size="9.2" text-anchor="start" font-weight="normal" fill="#111" stroke="#111" stroke-width="0.3">P=1.3*10<tspan dy="-3" font-size="5.5">-5</tspan></text>
<line x1="703.75" y1="656.3" x2="732.5" y2="656.3" stroke="#111" stroke-width="1.5"/>
<text x="778.8" y="709.3" font-size="9" text-anchor="middle" font-weight="normal" fill="#111" stroke="#111" stroke-width="0.3" transform="rotate(-90 778.8 709.3)" dy="3.24">FS(%)</text>
<line x1="807" y1="669.5" x2="807" y2="760.6" stroke="#222" stroke-width="1.1"/>
<line x1="803.8" y1="760" x2="867" y2="760" stroke="#222" stroke-width="1.2"/>
<line x1="803.4" y1="670" x2="807" y2="670" stroke="#222" stroke-width="1.0"/>
<text x="802" y="672.52" font-size="7.0" text-anchor="end" font-weight="normal" fill="#111" stroke="#111" stroke-width="0.3">45</text>
<line x1="803.4" y1="688" x2="807" y2="688" stroke="#222" stroke-width="1.0"/>
<text x="802" y="690.52" font-size="7.0" text-anchor="end" font-weight="normal" fill="#111" stroke="#111" stroke-width="0.3">40</text>
<line x1="803.4" y1="706" x2="807" y2="706" stroke="#222" stroke-width="1.0"/>
<text x="802" y="708.52" font-size="7.0" text-anchor="end" font-weight="normal" fill="#111" stroke="#111" stroke-width="0.3">35</text>
<line x1="803.4" y1="724.25" x2="807" y2="724.25" stroke="#222" stroke-width="1.0"/>
<text x="802" y="726.77" font-size="7.0" text-anchor="end" font-weight="normal" fill="#111" stroke="#111" stroke-width="0.3">30</text>
<line x1="803.4" y1="742.25" x2="807" y2="742.25" stroke="#222" stroke-width="1.0"/>
<text x="802" y="744.77" font-size="7.0" text-anchor="end" font-weight="normal" fill="#111" stroke="#111" stroke-width="0.3">25</text>
<line x1="803.4" y1="760" x2="807" y2="760" stroke="#222" stroke-width="1.0"/>
<text x="802" y="762.52" font-size="7.0" text-anchor="end" font-weight="normal" fill="#111" stroke="#111" stroke-width="0.3">20</text>
<path d="M815.6 760 V736.75 H832.4 V760" fill="none" stroke="#2a2aff" stroke-width="1.25"/>
<line x1="824" y1="729.25" x2="824" y2="744.25" stroke="#8f8fff" stroke-width="0.8"/>
<line x1="819.7" y1="729.25" x2="828.3" y2="729.25" stroke="#8f8fff" stroke-width="0.8"/>
<line x1="819.7" y1="744.25" x2="828.3" y2="744.25" stroke="#8f8fff" stroke-width="0.8"/>
<line x1="824" y1="760" x2="824" y2="763.4" stroke="#222" stroke-width="1.0"/>
<circle cx="824.00" cy="725.25" r="1.05" fill="#000"/>
<circle cx="821.25" cy="730.50" r="1.05" fill="#000"/>
<circle cx="826.25" cy="730.50" r="1.05" fill="#000"/>
<circle cx="824.00" cy="735.50" r="1.05" fill="#000"/>
<circle cx="822.00" cy="738.50" r="1.05" fill="#000"/>
<circle cx="826.25" cy="738.50" r="1.05" fill="#000"/>
<circle cx="822.00" cy="743.50" r="1.05" fill="#000"/>
<circle cx="826.25" cy="743.50" r="1.05" fill="#000"/>
<circle cx="824.00" cy="746.50" r="1.05" fill="#000"/>
<path d="M841.4 760 V706 H858.2 V760" fill="none" stroke="#ff2222" stroke-width="1.25"/>
<line x1="849.75" y1="689.25" x2="849.75" y2="723" stroke="#ff8f8f" stroke-width="0.8"/>
<line x1="845.45" y1="689.25" x2="854.05" y2="689.25" stroke="#ff8f8f" stroke-width="0.8"/>
<line x1="845.45" y1="723" x2="854.05" y2="723" stroke="#ff8f8f" stroke-width="0.8"/>
<line x1="849.75" y1="760" x2="849.75" y2="763.4" stroke="#222" stroke-width="1.0"/>
<circle cx="849.75" cy="681.75" r="1.05" fill="#000"/>
<circle cx="846.25" cy="687.25" r="1.05" fill="#000"/>
<circle cx="849.75" cy="688.00" r="1.05" fill="#000"/>
<circle cx="849.75" cy="694.75" r="1.05" fill="#000"/>
<circle cx="849.75" cy="710.00" r="1.05" fill="#000"/>
<circle cx="849.75" cy="712.25" r="1.05" fill="#000"/>
<circle cx="849.75" cy="715.50" r="1.05" fill="#000"/>
<circle cx="846.25" cy="723.00" r="1.05" fill="#000"/>
<circle cx="849.75" cy="721.25" r="1.05" fill="#000"/>
<circle cx="853.00" cy="723.00" r="1.05" fill="#000"/>
<text x="823" y="772.3" font-size="9.1" text-anchor="middle" font-weight="normal" fill="#111" stroke="#111" stroke-width="0.3">MI</text>
<text x="851.3" y="772.3" font-size="9.1" text-anchor="middle" font-weight="normal" fill="#111" stroke="#111" stroke-width="0.3">MI+La</text>
<text x="818" y="652.3" font-size="9.2" text-anchor="start" font-weight="normal" fill="#111" stroke="#111" stroke-width="0.3">P=3.2*10<tspan dy="-3" font-size="5.5">-5</tspan></text>
<line x1="823" y1="656" x2="851.75" y2="656" stroke="#111" stroke-width="1.5"/>
</svg>
</body></html>
